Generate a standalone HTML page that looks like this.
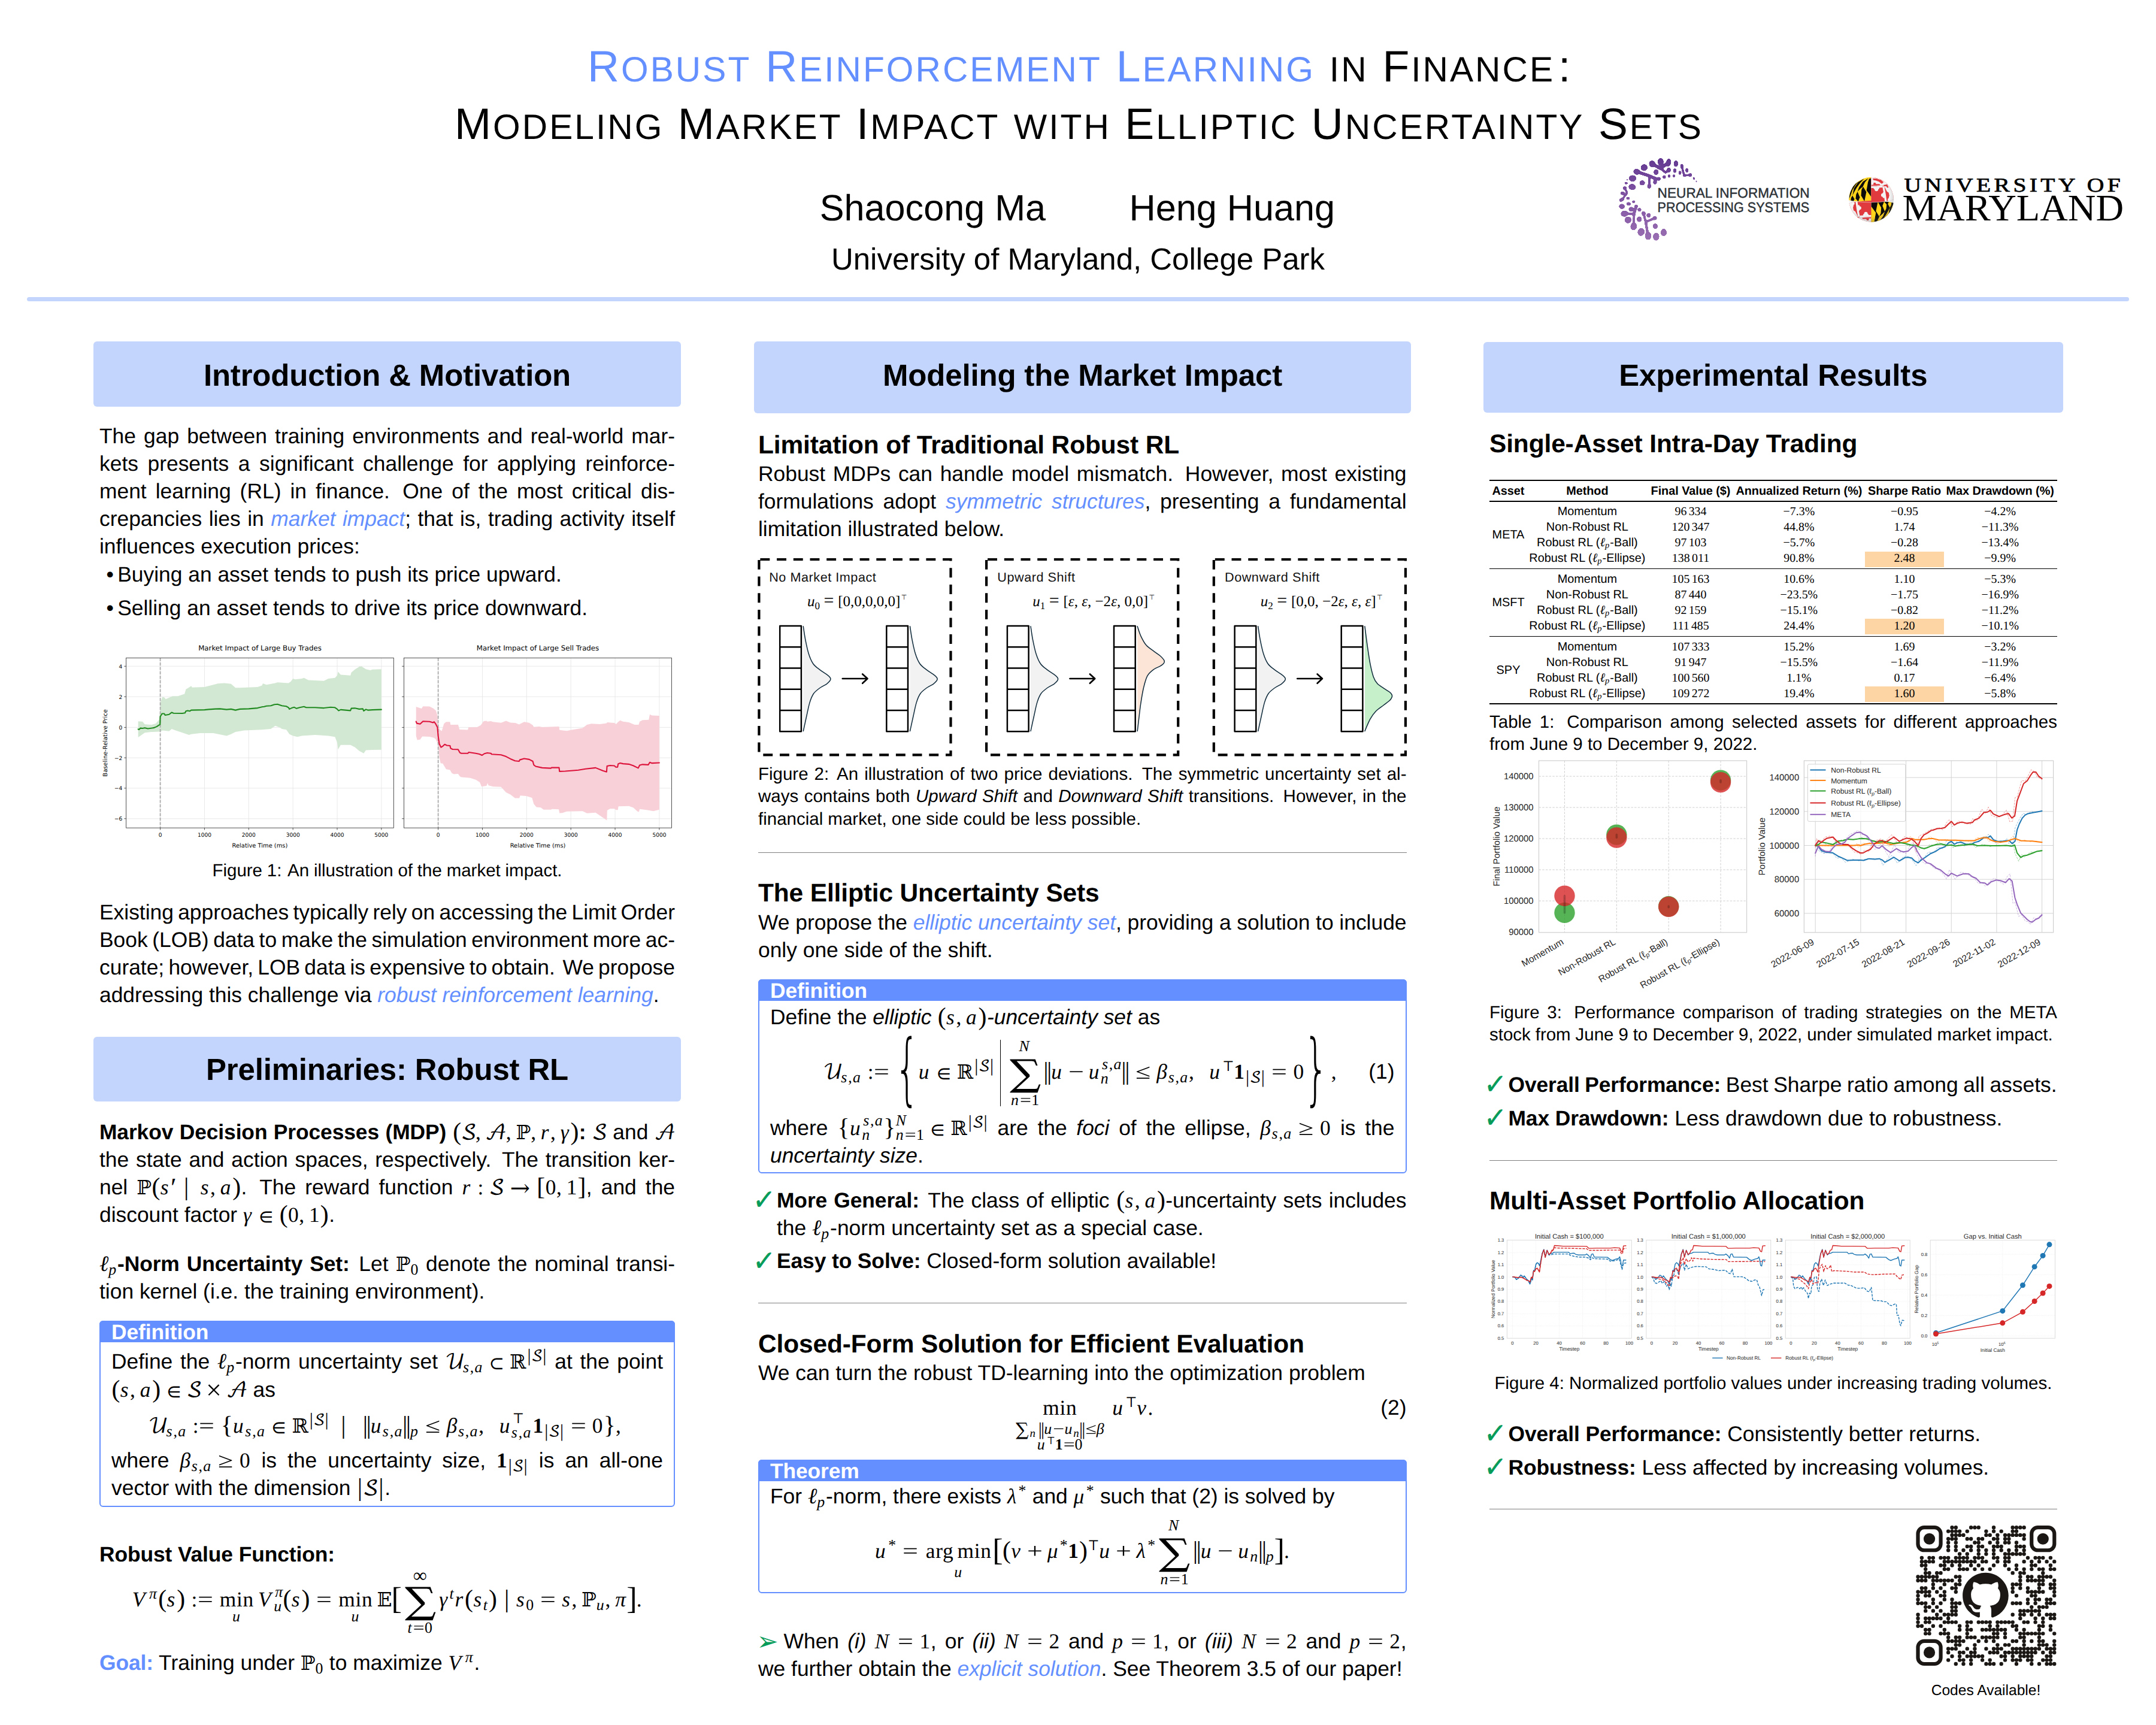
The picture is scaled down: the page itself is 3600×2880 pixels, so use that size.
<!DOCTYPE html>
<html lang="en"><head><meta charset="utf-8"><title>Robust Reinforcement Learning in Finance</title>
<style>
*{box-sizing:border-box}
html,body{margin:0;padding:0;background:#fff}
body{width:3600px;height:2880px;position:relative;overflow:hidden;font-family:"Liberation Sans",sans-serif;color:#000;
 -webkit-font-smoothing:antialiased;text-rendering:geometricPrecision}
.a{position:absolute}
.l{position:absolute;white-space:nowrap;overflow:visible}
.jl{display:inline-block;white-space:nowrap}
b,.b{font-weight:bold}
b{letter-spacing:-.003em}
i,.i{font-style:italic}
.bl{color:#648fff}
.mth{font-family:"Liberation Serif","DejaVu Serif",serif;font-style:normal;font-weight:normal;line-height:0;white-space:nowrap;word-spacing:0;letter-spacing:0}
.mth span{line-height:0}
.m{font-style:italic;letter-spacing:.07em}
.m.u{letter-spacing:.13em}
.r{font-style:normal;letter-spacing:.02em}
.r.b{font-weight:bold}
.c{font-family:"DejaVu Math TeX Gyre","DejaVu Serif","DejaVu Sans",serif;font-style:normal}
.cl{font-size:97%;margin:0 -.05em 0 -.03em}
.bb{font-family:"DejaVu Serif","DejaVu Math TeX Gyre",serif;font-size:93%}
.tp{font-size:92%}
.el{font-style:italic;font-size:104%}
.pr{font-size:125%;position:relative;top:.07em;margin-left:.02em}
.pu{margin-right:.03em}
.op{display:inline-block;transform:scaleX(1.3);margin:0 .095em}
.op.sy{font-size:84%;transform:none;margin:0}
.op.arw{font-size:100%;transform:none;margin:0}
.op.tm{transform:scale(1.3);margin:0 .1em}
.op.col,.op.mid{transform:none;margin:0}
.op.mid{font-size:122%;position:relative;top:.03em}
.dl{font-size:118%;position:relative;top:.035em;display:inline-block;margin:0 .01em}
.dl.nb{margin:0 -.03em}
.dl.vb{margin:0 .04em}
.sg{font-size:150%;position:relative;top:.16em;display:inline-block;transform:scaleX(1.18)}
.inf{font-size:125%;position:relative;top:.06em}
.sgs{font-size:100%;position:relative;top:.05em}
.ss{position:relative;line-height:0;display:inline-block}
.st{display:inline-block;position:relative;height:0;line-height:0;vertical-align:baseline}
.sa{position:absolute;left:0;white-space:nowrap;line-height:0;height:0}
.sa.sc{left:50%;transform:translateX(-50%)}
.sp{display:inline-block;height:0}
.ck{font-family:"DejaVu Sans",sans-serif;color:#059b58;line-height:0;font-weight:normal;display:inline-block;transform:skewX(-5deg) scaleX(.92);-webkit-text-stroke:.7px #059b58}
.ar{font-family:"DejaVu Sans",sans-serif;color:#059b58;line-height:0;font-size:122%;position:relative;top:.06em;margin-left:-.06em;margin-right:-.12em}
.vbar{display:inline-block;width:0;height:0;position:relative}
.vbar:after{content:'';position:absolute;left:0;top:-1.85em;height:3.15em;border-left:1.4px solid #000}
.bk{display:inline-block;font-size:148%;position:relative;top:.075em;margin:0 -.02em}
.br{display:inline-block;font-family:"DejaVu Sans Light","DejaVu Sans",sans-serif;font-weight:200;font-size:370%;position:relative;top:.215em;transform:scaleX(.5);margin:0 -.17em}
svg{position:absolute;overflow:visible}
svg text{white-space:pre}
</style></head>
<body>
<!-- p10_header -->
<div class="l" style="left:0px;top:16.01px;width:3600px;font-size:73.39px;line-height:190.81px;height:190.81px;text-align:center;letter-spacing:3px;padding-left:6.5px;word-spacing:0.5px;"><span class="bl">R<span style="font-size:58.71px">OBUST</span> R<span style="font-size:58.71px">EINFORCEMENT</span> L<span style="font-size:58.71px">EARNING</span></span> <span style="font-size:58.71px">IN</span> F<span style="font-size:58.71px">INANCE</span><span style="margin-left:6px">:</span></div>
<div class="l" style="left:0px;top:112.01px;width:3600px;font-size:73.39px;line-height:190.81px;height:190.81px;text-align:center;letter-spacing:3px;padding-left:3px;">M<span style="font-size:58.71px">ODELING</span> M<span style="font-size:58.71px">ARKET</span> I<span style="font-size:58.71px">MPACT</span> <span style="font-size:58.71px">WITH</span> E<span style="font-size:58.71px">LLIPTIC</span> U<span style="font-size:58.71px">NCERTAINTY</span> S<span style="font-size:58.71px">ETS</span></div>
<div class="l" style="left:1368.8px;top:268.01px;width:600px;font-size:61.15px;line-height:158.99px;height:158.99px;">Shaocong Ma</div>
<div class="l" style="left:1885.6px;top:268.01px;width:600px;font-size:61.15px;line-height:158.99px;height:158.99px;">Heng Huang</div>
<div class="l" style="left:0px;top:367.01px;width:3600px;font-size:50.96px;line-height:132.5px;height:132.5px;text-align:center;">University of Maryland, College Park</div>
<div class="a" style="left:44.7px;top:496px;width:3510.6px;height:7px;background:#c3d5fd;border-radius:3.5px;"></div>
<!-- p11_logos -->
<svg class="lg" style="left:0;top:0" width="3600" height="2880" viewBox="0 0 3600 2880"><defs><linearGradient id="npg" gradientUnits="userSpaceOnUse" x1="0" y1="264.84" x2="0" y2="401.21"><stop offset="0" stop-color="#643a92"/><stop offset="0.35" stop-color="#7a4e9f"/><stop offset="1" stop-color="#9a6eb1"/></linearGradient><filter id="goo" x="-10%" y="-10%" width="120%" height="120%" color-interpolation-filters="sRGB"><feGaussianBlur in="SourceGraphic" stdDeviation="1.25" result="b"/><feColorMatrix in="b" mode="matrix" values="0 0 0 0 1  0 0 0 0 1  0 0 0 0 1  0 0 0 14 -5.6"/></filter><mask id="npm" maskUnits="userSpaceOnUse" x="2690" y="255" width="160" height="160"><g filter="url(#goo)" fill="#fff" stroke="#fff" stroke-linecap="round" stroke-linejoin="round"><path d="M2758.85 273.75 L2772.76 281.17 L2786.12 271.34" fill="none" stroke-width="5.01"/><path d="M2772.76 281.17 L2781.11 288.03 L2786.49 283.77" fill="none" stroke-width="3.51"/><path d="M2732.88 286.73 L2750.5 292.3 L2765.34 298.61 L2769.98 298.61" fill="none" stroke-width="5.01"/><path d="M2754.21 294.53 L2753.84 310.85" fill="none" stroke-width="3.01"/><path d="M2808.39 277.83 L2812.1 293.04 L2822.49 292.3" fill="none" stroke-width="3.01"/><path d="M2713.02 314.01 L2717.11 322.36 L2707.83 333.49" fill="none" stroke-width="3.01"/><path d="M2712.47 356.68 L2728.61 357.24 L2731.95 344.25" fill="none" stroke-width="4.01"/><path d="M2728.61 357.24 L2727.87 378.01" fill="none" stroke-width="3.51"/><path d="M2744.38 356.31 L2747.9 370.59 L2763.12 364.1" fill="none" stroke-width="3.51"/><path d="M2747.9 370.59 L2751.99 393.78" fill="none" stroke-width="4.01"/><ellipse cx="2772.76" cy="270.04" rx="4.9" ry="6.12" stroke="none"/><ellipse cx="2786.12" cy="271.34" rx="4.08" ry="6.53" stroke="none" transform="rotate(12 2786.12 271.34)"/><ellipse cx="2798.37" cy="273.19" rx="3.67" ry="5.31" stroke="none"/><ellipse cx="2808.39" cy="277.83" rx="2.65" ry="4.08" stroke="none" transform="rotate(-10 2808.39 277.83)"/><ellipse cx="2816.73" cy="284.32" rx="2.45" ry="3.67" stroke="none"/><ellipse cx="2822.49" cy="292.3" rx="2.86" ry="3.06" stroke="none"/><ellipse cx="2828.42" cy="297.87" rx="1.63" ry="2.45" stroke="none" transform="rotate(-20 2828.42 297.87)"/><ellipse cx="2832.5" cy="302.88" rx="1.02" ry="1.43" stroke="none" transform="rotate(-20 2832.5 302.88)"/><ellipse cx="2758.85" cy="273.75" rx="5.1" ry="5.71" stroke="none" transform="rotate(-35 2758.85 273.75)"/><ellipse cx="2745.31" cy="279.68" rx="5.71" ry="5.31" stroke="none"/><ellipse cx="2732.88" cy="286.73" rx="5.51" ry="4.9" stroke="none" transform="rotate(20 2732.88 286.73)"/><ellipse cx="2726.01" cy="297.87" rx="6.12" ry="5.31" stroke="none"/><ellipse cx="2725.45" cy="312.15" rx="6.12" ry="4.9" stroke="none" transform="rotate(10 2725.45 312.15)"/><ellipse cx="2742.15" cy="305.29" rx="4.49" ry="4.08" stroke="none"/><ellipse cx="2753.84" cy="310.85" rx="3.27" ry="3.88" stroke="none"/><ellipse cx="2763.49" cy="304.17" rx="3.06" ry="3.47" stroke="none"/><ellipse cx="2765.34" cy="287.48" rx="4.08" ry="4.49" stroke="none"/><ellipse cx="2786.49" cy="283.77" rx="3.27" ry="4.08" stroke="none"/><ellipse cx="2796.51" cy="284.88" rx="2.65" ry="3.67" stroke="none"/><ellipse cx="2805.05" cy="288.59" rx="2.24" ry="3.27" stroke="none"/><ellipse cx="2778.89" cy="295.45" rx="2.65" ry="3.06" stroke="none"/><ellipse cx="2787.05" cy="293.97" rx="2.24" ry="2.65" stroke="none"/><ellipse cx="2795.03" cy="293.78" rx="2.04" ry="2.65" stroke="none"/><ellipse cx="2769.98" cy="298.61" rx="3.06" ry="3.06" stroke="none"/><ellipse cx="2812.1" cy="293.04" rx="2.04" ry="2.45" stroke="none"/><ellipse cx="2715.25" cy="305.66" rx="2.86" ry="1.84" stroke="none"/><ellipse cx="2717.11" cy="300.09" rx="1.63" ry="1.02" stroke="none"/><ellipse cx="2713.02" cy="314.01" rx="3.27" ry="2.65" stroke="none"/><ellipse cx="2709.31" cy="322.73" rx="3.67" ry="2.65" stroke="none"/><ellipse cx="2718.4" cy="331.08" rx="3.06" ry="2.45" stroke="none"/><ellipse cx="2707.83" cy="333.49" rx="4.49" ry="2.86" stroke="none" transform="rotate(-25 2707.83 333.49)"/><ellipse cx="2727.87" cy="336.83" rx="2.65" ry="2.24" stroke="none"/><ellipse cx="2719.33" cy="340.35" rx="3.67" ry="2.86" stroke="none"/><ellipse cx="2708.2" cy="344.62" rx="4.9" ry="4.08" stroke="none"/><ellipse cx="2731.95" cy="344.25" rx="2.86" ry="2.86" stroke="none"/><ellipse cx="2723.6" cy="349.26" rx="4.08" ry="3.67" stroke="none"/><ellipse cx="2737.51" cy="350.19" rx="3.06" ry="3.06" stroke="none"/><ellipse cx="2712.47" cy="356.68" rx="6.12" ry="4.9" stroke="none" transform="rotate(-10 2712.47 356.68)"/><ellipse cx="2744.38" cy="356.31" rx="3.27" ry="3.67" stroke="none"/><ellipse cx="2752.73" cy="359.46" rx="3.27" ry="3.67" stroke="none"/><ellipse cx="2763.12" cy="364.1" rx="3.47" ry="3.47" stroke="none"/><ellipse cx="2718.4" cy="367.25" rx="5.71" ry="5.31" stroke="none" transform="rotate(-20 2718.4 367.25)"/><ellipse cx="2737.14" cy="365.96" rx="4.08" ry="4.49" stroke="none"/><ellipse cx="2727.87" cy="378.01" rx="5.31" ry="6.12" stroke="none" transform="rotate(15 2727.87 378.01)"/><ellipse cx="2763.86" cy="377.64" rx="4.08" ry="4.49" stroke="none"/><ellipse cx="2740.3" cy="387.29" rx="5.71" ry="6.53" stroke="none" transform="rotate(20 2740.3 387.29)"/><ellipse cx="2751.99" cy="393.78" rx="5.31" ry="6.53" stroke="none"/><ellipse cx="2765.34" cy="395.08" rx="5.1" ry="6.53" stroke="none"/><ellipse cx="2777.96" cy="388.22" rx="4.9" ry="6.12" stroke="none"/></g><g fill="#fff"><ellipse cx="2808.39" cy="277.83" rx="2.41" ry="3.71" transform="rotate(-10 2808.39 277.83)"/><ellipse cx="2816.73" cy="284.32" rx="2.23" ry="3.34"/><ellipse cx="2828.42" cy="297.87" rx="1.48" ry="2.23" transform="rotate(-20 2828.42 297.87)"/><ellipse cx="2832.5" cy="302.88" rx="0.93" ry="1.3" transform="rotate(-20 2832.5 302.88)"/><ellipse cx="2796.51" cy="284.88" rx="2.41" ry="3.34"/><ellipse cx="2805.05" cy="288.59" rx="2.04" ry="2.97"/><ellipse cx="2778.89" cy="295.45" rx="2.41" ry="2.78"/><ellipse cx="2787.05" cy="293.97" rx="2.04" ry="2.41"/><ellipse cx="2795.03" cy="293.78" rx="1.86" ry="2.41"/><ellipse cx="2812.1" cy="293.04" rx="1.86" ry="2.23"/><ellipse cx="2717.11" cy="300.09" rx="1.48" ry="0.93"/><ellipse cx="2727.87" cy="336.83" rx="2.41" ry="2.04"/></g></mask></defs><rect x="2690" y="255" width="160" height="160" fill="url(#npg)" mask="url(#npm)"/><text x="2767.6" y="330.2" font-family="'Liberation Sans',sans-serif" font-size="23.2" fill="#2c3237" stroke="#2c3237" stroke-width="0.45" textLength="254" lengthAdjust="spacingAndGlyphs">NEURAL INFORMATION</text><text x="2767.6" y="353.6" font-family="'Liberation Sans',sans-serif" font-size="23.2" fill="#2c3237" stroke="#2c3237" stroke-width="0.45" textLength="253.5" lengthAdjust="spacingAndGlyphs">PROCESSING SYSTEMS</text><defs><clipPath id="gl"><circle cx="3124.6" cy="333.2" r="37.4"/></clipPath><radialGradient id="gsh" cx="0.45" cy="0.42" r="0.6"><stop offset="0.78" stop-color="#555" stop-opacity="0"/><stop offset="1" stop-color="#555" stop-opacity="0.28"/></radialGradient></defs><g clip-path="url(#gl)"><rect x="3087.2" y="295.8" width="74.8" height="74.8" fill="#f3f3f3"/><path d="M3124.38 295.65 L3124.38 337.97 L3110.58 337.51 L3096.09 336.12 L3086.23 334.2 L3086.23 295.65Z" fill="#ffd41b"/><path d="M3124.38 297.39 L3124.38 328.41 L3116.67 317.68 L3118.99 304.35 L3121.01 298.55Z" fill="#0b0b0b"/><path d="M3110.87 311.59 L3116.38 320.58 L3113.19 335.94 L3107.57 326.38 L3108.26 317.1Z" fill="#0b0b0b"/><path d="M3101.59 320 L3105.48 329.28 L3102.75 336.52 L3098.52 331.59 L3099.28 324.64Z" fill="#0b0b0b"/><path d="M3093.19 326.38 L3096.38 332.17 L3094.93 335.94 L3090.29 335.07 L3090.87 330.43Z" fill="#0b0b0b"/><path d="M3119.86 297.39 L3110.58 303.19 L3104.2 312.46 L3101.59 320 L3105.36 315.94 L3110.58 311.59 L3114.06 304.35Z" fill="#0b0b0b"/><path d="M3112.9 297.97 L3102.46 304.35 L3095.51 314.78 L3093.19 326.38 L3095.51 321.74 L3100.14 313.62 L3105.94 305.51Z" fill="#0b0b0b"/><path d="M3104.78 300.29 L3094.35 310.14 L3089.13 321.74 L3087.39 332.17 L3090 326.38 L3093.19 317.1 L3098.99 307.83Z" fill="#0b0b0b"/><path d="M3124.38 377.39 L3124.38 335.07 L3138.17 335.54 L3152.67 336.93 L3162.52 338.84 L3162.52 377.39Z" fill="#0b0b0b"/><path d="M3124.38 375.65 L3124.38 344.64 L3132.09 355.36 L3129.77 368.7 L3127.74 374.49Z" fill="#ffd41b"/><path d="M3137.88 361.45 L3132.38 352.46 L3135.57 337.1 L3141.19 346.67 L3140.49 355.94Z" fill="#ffd41b"/><path d="M3147.16 353.04 L3143.28 343.77 L3146 336.52 L3150.23 341.45 L3149.48 348.41Z" fill="#ffd41b"/><path d="M3155.57 346.67 L3152.38 340.87 L3153.83 337.1 L3158.46 337.97 L3157.88 342.61Z" fill="#ffd41b"/><path d="M3128.9 375.65 L3138.17 369.86 L3144.55 360.58 L3147.16 353.04 L3143.39 357.1 L3138.17 361.45 L3134.7 368.7Z" fill="#ffd41b"/><path d="M3135.86 375.07 L3146.29 368.7 L3153.25 358.26 L3155.57 346.67 L3153.25 351.3 L3148.61 359.42 L3142.81 367.54Z" fill="#ffd41b"/><path d="M3143.97 372.75 L3154.41 362.9 L3159.62 351.3 L3161.36 340.87 L3158.75 346.67 L3155.57 355.94 L3149.77 365.22Z" fill="#ffd41b"/><path d="M3124.38 375.65 L3124.38 344.64 L3132.09 355.36 L3129.77 368.7 L3127.74 374.49Z" fill="#ffd41b"/><path d="M3124.38 295.65 L3162.75 295.65 L3162.75 333.04 L3152.32 335.77 L3138.41 337.39 L3124.38 337.97Z" fill="#e03a3e"/><path d="M3124.38 295.65 L3162.75 295.65 L3162.75 333.04 L3152.32 335.77 L3151.16 320.58 L3147.1 312.46 L3143.62 309.86 L3124.38 310.14Z" fill="#f3f3f3"/><path d="M3128.55 304.93 L3131.45 304.93 L3132.61 307.25 L3138.41 307.25 L3139.57 309.57 L3124.78 309.86 L3124.78 308.41 L3127.97 308.41Z" fill="#e03a3e"/><path d="M3127.1 297.97 L3133.77 297.97 L3139.57 300.87 L3144.2 305.51 L3141.88 306.67 L3137.25 303.19 L3132.61 301.45 L3127.97 300.87Z" fill="#e03a3e"/><path d="M3144.78 308.99 L3151.16 307.83 L3153.48 313.04 L3151.16 313.62 L3149.42 310.72 L3145.94 311.3Z" fill="#e03a3e"/><path d="M3151.16 320 L3153.77 321.74 L3154.64 326.38 L3153.48 331.01 L3151.74 332.17 L3150 328.7 L3150 324.06Z" fill="#e03a3e"/><path d="M3135.51 299.13 L3140.72 300.29 L3145.36 304.35 L3143.62 304.93 L3139.57 302.61Z" fill="#e03a3e"/><path d="M3124.38 312.46 L3133.77 312.17 L3143.62 311.3" fill="none" stroke="#f3f3f3" stroke-width="3.3" stroke-linecap="butt"/><path d="M3144.78 311.3 L3147.1 324.06 L3148.84 336.52" fill="none" stroke="#f3f3f3" stroke-width="3.3" stroke-linecap="butt"/><circle cx="3133.19" cy="316.23" r="3.01" fill="#f3f3f3"/><circle cx="3130.29" cy="314.2" r="1.74" fill="#f3f3f3"/><circle cx="3136.09" cy="314.2" r="1.74" fill="#f3f3f3"/><circle cx="3143.91" cy="325.8" r="3.01" fill="#f3f3f3"/><circle cx="3145.36" cy="322.61" r="1.74" fill="#f3f3f3"/><circle cx="3145.36" cy="328.99" r="1.74" fill="#f3f3f3"/><path d="M3124.38 377.39 L3086 377.39 L3086 340 L3096.43 337.28 L3110.35 335.65 L3124.38 335.07Z" fill="#e03a3e"/><path d="M3124.38 377.39 L3086 377.39 L3086 340 L3096.43 337.28 L3097.59 352.46 L3101.65 360.58 L3105.13 363.19 L3124.38 362.9Z" fill="#f3f3f3"/><path d="M3120.2 368.12 L3117.3 368.12 L3116.14 365.8 L3110.35 365.8 L3109.19 363.48 L3123.97 363.19 L3123.97 364.64 L3120.78 364.64Z" fill="#e03a3e"/><path d="M3121.65 375.07 L3114.99 375.07 L3109.19 372.17 L3104.55 367.54 L3106.87 366.38 L3111.51 369.86 L3116.14 371.59 L3120.78 372.17Z" fill="#e03a3e"/><path d="M3103.97 364.06 L3097.59 365.22 L3095.28 360 L3097.59 359.42 L3099.33 362.32 L3102.81 361.74Z" fill="#e03a3e"/><path d="M3097.59 353.04 L3094.99 351.3 L3094.12 346.67 L3095.28 342.03 L3097.01 340.87 L3098.75 344.35 L3098.75 348.99Z" fill="#e03a3e"/><path d="M3113.25 373.91 L3108.03 372.75 L3103.39 368.7 L3105.13 368.12 L3109.19 370.43Z" fill="#e03a3e"/><path d="M3124.38 360.58 L3114.99 360.87 L3105.13 361.74" fill="none" stroke="#f3f3f3" stroke-width="3.3" stroke-linecap="butt"/><path d="M3103.97 361.74 L3101.65 348.99 L3099.91 336.52" fill="none" stroke="#f3f3f3" stroke-width="3.3" stroke-linecap="butt"/><circle cx="3115.57" cy="356.81" r="3.01" fill="#f3f3f3"/><circle cx="3118.46" cy="358.84" r="1.74" fill="#f3f3f3"/><circle cx="3112.67" cy="358.84" r="1.74" fill="#f3f3f3"/><circle cx="3104.84" cy="347.25" r="3.01" fill="#f3f3f3"/><circle cx="3103.39" cy="350.43" r="1.74" fill="#f3f3f3"/><circle cx="3103.39" cy="344.06" r="1.74" fill="#f3f3f3"/><path d="M3086.23 334.2 L3096.09 336.12 L3110.58 337.51 L3124.38 337.97 L3138.41 337.39 L3152.32 335.77 L3162.75 333.04" fill="none" stroke="#e9e9e9" stroke-opacity="0.55" stroke-width="1"/><circle cx="3124.6" cy="333.2" r="37.4" fill="url(#gsh)"/></g><text x="3179.6" y="319.6" font-family="'Liberation Serif',serif" font-size="32.8" fill="#000" letter-spacing="4.5" textLength="366.5" lengthAdjust="spacingAndGlyphs" stroke="#000" stroke-width="0.7">UNIVERSITY OF</text><text x="3176.6" y="368.2" font-family="'Liberation Serif',serif" font-size="62.6" fill="#000" textLength="369.5" lengthAdjust="spacingAndGlyphs">MARYLAND</text></svg>
<!-- p20_left -->
<div class="a" style="left:156px;top:570px;width:981px;height:109px;background:#c3d5fd;border-radius:6px;"></div>
<div class="l" style="left:156px;top:561px;width:981px;font-size:50.96px;line-height:132.5px;height:132.5px;text-align:center;"><b>Introduction &amp; Motivation</b></div>
<div class="l" style="left:166px;top:682.01px;width:961px;font-size:35.4px;line-height:92.03px;height:92.03px;word-spacing:3.237px;"><span class="jl">The gap between training environments and real-world mar-</span></div>
<div class="l" style="left:166px;top:728.01px;width:961px;font-size:35.4px;line-height:92.03px;height:92.03px;word-spacing:5.761px;"><span class="jl">kets presents a significant challenge for applying reinforce-</span></div>
<div class="l" style="left:166px;top:774.01px;width:961px;font-size:35.4px;line-height:92.03px;height:92.03px;word-spacing:5.178px;"><span class="jl">ment learning (RL) in finance.<span class="sp" style="width:0.18em"></span> One of the most critical dis-</span></div>
<div class="l" style="left:166px;top:820.02px;width:961px;font-size:35.4px;line-height:92.03px;height:92.03px;word-spacing:1.656px;"><span class="jl">crepancies lies in <i class="bl">market impact</i>; that is, trading activity itself</span></div>
<div class="l" style="left:166px;top:866px;width:961px;font-size:35.4px;line-height:92.03px;height:92.03px;">influences execution prices:</div>
<div class="l" style="left:177.6px;top:913.02px;width:30px;font-size:35.4px;line-height:92.03px;height:92.03px;">&bull;</div>
<div class="l" style="left:196.2px;top:913.02px;width:900px;font-size:35.4px;line-height:92.03px;height:92.03px;">Buying an asset tends to push its price upward.</div>
<div class="l" style="left:177.6px;top:969.01px;width:30px;font-size:35.4px;line-height:92.03px;height:92.03px;">&bull;</div>
<div class="l" style="left:196.2px;top:969.01px;width:900px;font-size:35.4px;line-height:92.03px;height:92.03px;">Selling an asset tends to drive its price downward.</div>
<div class="l" style="left:166px;top:1416px;width:961px;font-size:29.49px;line-height:76.68px;height:76.68px;text-align:center;word-spacing:-0.4px;">Figure 1:<span class="sp" style="width:0.12em"></span> An illustration of the market impact.</div>
<div class="l" style="left:166px;top:1477.01px;width:961px;font-size:35.4px;line-height:92.03px;height:92.03px;word-spacing:-2.570px;"><span class="jl">Existing approaches typically rely on accessing the Limit Order</span></div>
<div class="l" style="left:166px;top:1523.01px;width:961px;font-size:35.4px;line-height:92.03px;height:92.03px;word-spacing:-2.285px;"><span class="jl">Book (LOB) data to make the simulation environment more ac-</span></div>
<div class="l" style="left:166px;top:1569.01px;width:961px;font-size:35.4px;line-height:92.03px;height:92.03px;word-spacing:-2.597px;"><span class="jl">curate; however, LOB data is expensive to obtain.<span class="sp" style="width:0.15em"></span> We propose</span></div>
<div class="l" style="left:166px;top:1615.02px;width:961px;font-size:35.4px;line-height:92.03px;height:92.03px;">addressing this challenge via <i class="bl">robust reinforcement learning</i>.</div>
<div class="a" style="left:156px;top:1730.5px;width:981px;height:108px;background:#c3d5fd;border-radius:6px;"></div>
<div class="l" style="left:156px;top:1720.01px;width:981px;font-size:50.96px;line-height:132.5px;height:132.5px;text-align:center;"><b>Preliminaries: Robust RL</b></div>
<div class="l" style="left:166px;top:1844.01px;width:961px;font-size:35.4px;line-height:92.03px;height:92.03px;word-spacing:0.732px;"><span class="jl"><b>Markov Decision Processes (MDP)</b> <span class="mth"><span class="dl">(</span><span class="c cl">𝒮</span><span class="r pu">,</span><span class="sp" style="width:0.17em"></span><span class="c cl">𝒜</span><span class="r pu">,</span><span class="sp" style="width:0.17em"></span><span class="c bb">ℙ</span><span class="r pu">,</span><span class="sp" style="width:0.17em"></span><span class="m">r</span><span class="r pu">,</span><span class="sp" style="width:0.17em"></span><span class="m">γ</span><span class="dl">)</span></span><b>:</b> <span class="mth"><span class="c cl">𝒮</span></span> and <span class="mth"><span class="c cl">𝒜</span></span></span></div>
<div class="l" style="left:166px;top:1890.02px;width:961px;font-size:35.4px;line-height:92.03px;height:92.03px;word-spacing:1.953px;"><span class="jl">the state and action spaces, respectively.<span class="sp" style="width:0.18em"></span> The transition ker-</span></div>
<div class="l" style="left:166px;top:1936px;width:961px;font-size:35.4px;line-height:92.03px;height:92.03px;word-spacing:5.210px;"><span class="jl">nel <span class="mth"><span class="c bb">ℙ</span><span class="dl">(</span><span class="m">s</span><span class="r pr">′</span><span class="sp" style="width:0.28em"></span><span class="dl vb">|</span><span class="sp" style="width:0.28em"></span><span class="sp" style="width:0.22em"></span><span class="m">s</span><span class="r pu">,</span><span class="sp" style="width:0.17em"></span><span class="m">a</span><span class="dl">)</span></span>.<span class="sp" style="width:0.18em"></span> The reward function <span class="mth"><span class="m">r</span><span class="sp" style="width:0.28em"></span><span class="op col">:</span><span class="sp" style="width:0.28em"></span><span class="c cl">𝒮</span><span class="sp" style="width:0.28em"></span><span class="op c arw">→</span><span class="sp" style="width:0.28em"></span><span class="dl">[</span><span class="r">0</span><span class="r pu">,</span><span class="sp" style="width:0.17em"></span><span class="r">1</span><span class="dl">]</span></span>, and the</span></div>
<div class="l" style="left:166px;top:1982.01px;width:961px;font-size:35.4px;line-height:92.03px;height:92.03px;">discount factor <span class="mth"><span class="m">γ</span><span class="sp" style="width:0.28em"></span><span class="op c sy">∈</span><span class="sp" style="width:0.28em"></span><span class="dl">(</span><span class="r">0</span><span class="r pu">,</span><span class="sp" style="width:0.17em"></span><span class="r">1</span><span class="dl">)</span></span>.</div>
<div class="l" style="left:166px;top:2064.02px;width:961px;font-size:35.4px;line-height:92.03px;height:92.03px;word-spacing:2.275px;"><span class="jl"><span class="mth"><span class="el">ℓ</span><span class="ss" style="font-size:73%;top:0.22em;"><span class="m">p</span></span></span><b>-Norm Uncertainty Set:</b><span class="sp" style="width:0.1em"></span> Let <span class="mth"><span class="c bb">ℙ</span><span class="ss" style="font-size:73%;top:0.22em;"><span class="r">0</span></span></span> denote the nominal transi-</span></div>
<div class="l" style="left:166px;top:2110px;width:961px;font-size:35.4px;line-height:92.03px;height:92.03px;">tion kernel (i.e. the training environment).</div>
<div class="a" style="left:165.6px;top:2204.6px;width:961.7px;height:311.1px;border:2px solid #648fff;border-radius:6px;"></div>
<div class="a" style="left:165.6px;top:2204.6px;width:961.7px;height:36px;background:#648fff;border-radius:6px 6px 0 0;"></div>
<div class="l" style="left:186.1px;top:2178.01px;width:961.7px;font-size:35.4px;line-height:92.03px;height:92.03px;color:#fff;"><b>Definition</b></div>
<div class="l" style="left:186px;top:2227.01px;width:921px;font-size:35.4px;line-height:92.03px;height:92.03px;word-spacing:2.834px;"><span class="jl">Define the <span class="mth"><span class="el">ℓ</span><span class="ss" style="font-size:73%;top:0.22em;"><span class="m">p</span></span></span>-norm uncertainty set <span class="mth"><span class="c cl">𝒰</span><span class="ss" style="font-size:73%;top:0.22em;margin-left:-0.07em;"><span class="m">s</span><span class="r pu">,</span><span class="m">a</span></span><span class="sp" style="width:0.28em"></span><span class="op c sy">⊂</span><span class="sp" style="width:0.28em"></span><span class="c bb">ℝ</span><span class="ss" style="font-size:73%;top:-0.51em;margin-left:0.03em;"><span class="dl vb">|</span><span class="c cl">𝒮</span><span class="dl vb">|</span></span></span> at the point</span></div>
<div class="l" style="left:186px;top:2274.01px;width:921px;font-size:35.4px;line-height:92.03px;height:92.03px;"><span class="mth"><span class="dl">(</span><span class="m">s</span><span class="r pu">,</span><span class="sp" style="width:0.17em"></span><span class="m">a</span><span class="dl">)</span><span class="sp" style="width:0.28em"></span><span class="op c sy">∈</span><span class="sp" style="width:0.28em"></span><span class="c cl">𝒮</span><span class="sp" style="width:0.22em"></span><span class="op tm">×</span><span class="sp" style="width:0.22em"></span><span class="c cl">𝒜</span></span> as</div>
<div class="l mf" style="left:186px;top:2334.01px;width:921px;font-size:35.4px;line-height:92.03px;height:92.03px;text-align:center;"><span class="mth"><span class="c cl">𝒰</span><span class="ss" style="font-size:73%;top:0.22em;margin-left:-0.07em;"><span class="m">s</span><span class="r pu">,</span><span class="m">a</span></span><span class="sp" style="width:0.28em"></span><span class="r" style="margin-right:-0.02em">:</span><span class="op">=</span><span class="sp" style="width:0.28em"></span><span class="dl">{</span><span class="m">u</span><span class="ss" style="font-size:73%;top:0.22em;"><span class="m">s</span><span class="r pu">,</span><span class="m">a</span></span><span class="sp" style="width:0.28em"></span><span class="op c sy">∈</span><span class="sp" style="width:0.28em"></span><span class="c bb">ℝ</span><span class="ss" style="font-size:73%;top:-0.51em;margin-left:0.03em;"><span class="dl vb">|</span><span class="c cl">𝒮</span><span class="dl vb">|</span></span><span class="sp" style="width:0.28em"></span><span class="sp" style="width:0.22em"></span><span class="dl vb">|</span><span class="sp" style="width:0.28em"></span><span class="sp" style="width:0.28em"></span><span class="sp" style="width:0.22em"></span><span class="dl nb">|</span><span class="dl nb">|</span><span class="m">u</span><span class="ss" style="font-size:73%;top:0.22em;"><span class="m">s</span><span class="r pu">,</span><span class="m">a</span></span><span class="dl nb">|</span><span class="dl nb">|</span><span class="ss" style="font-size:73%;top:0.22em;"><span class="m">p</span></span><span class="sp" style="width:0.28em"></span><span class="op">≤</span><span class="sp" style="width:0.28em"></span><span class="m">β</span><span class="ss" style="font-size:73%;top:0.22em;margin-left:-0.03em;"><span class="m">s</span><span class="r pu">,</span><span class="m">a</span></span><span class="r pu">,</span><span class="sp" style="width:0.17em"></span><span class="sp" style="width:0.28em"></span><span class="sp" style="width:0.22em"></span><span class="m">u</span><span class="st" style="width:1.01em"><span class="sa" style="font-size:73%;top:-0.91em"><span class="sp" style="width:0.08em"></span><span class="c tp">⊤</span></span><span class="sa" style="font-size:73%;top:0.01em"><span class="m">s</span><span class="r pu">,</span><span class="m">a</span></span></span><span class="r b">1</span><span class="ss" style="font-size:73%;top:0.22em;"><span class="dl vb">|</span><span class="c cl">𝒮</span><span class="dl vb">|</span></span><span class="sp" style="width:0.28em"></span><span class="op">=</span><span class="sp" style="width:0.28em"></span><span class="r">0</span><span class="dl">}</span><span class="r pu">,</span><span class="sp" style="width:0.17em"></span></span></div>
<div class="l" style="left:186px;top:2392.02px;width:921px;font-size:35.4px;line-height:92.03px;height:92.03px;word-spacing:8.161px;"><span class="jl">where <span class="mth"><span class="m">β</span><span class="ss" style="font-size:73%;top:0.22em;margin-left:-0.03em;"><span class="m">s</span><span class="r pu">,</span><span class="m">a</span></span><span class="sp" style="width:0.28em"></span><span class="op">≥</span><span class="sp" style="width:0.28em"></span><span class="r">0</span></span> is the uncertainty size, <span class="mth"><span class="r b">1</span><span class="ss" style="font-size:73%;top:0.22em;"><span class="dl vb">|</span><span class="c cl">𝒮</span><span class="dl vb">|</span></span></span> is an all-one</span></div>
<div class="l" style="left:186px;top:2438.02px;width:921px;font-size:35.4px;line-height:92.03px;height:92.03px;">vector with the dimension <span class="mth"><span class="dl vb">|</span><span class="c cl">𝒮</span><span class="dl vb">|</span></span>.</div>
<div class="l" style="left:166px;top:2549.01px;width:961px;font-size:35.4px;line-height:92.03px;height:92.03px;"><b>Robust Value Function:</b></div>
<div class="l mf" style="left:166px;top:2624.01px;width:961px;font-size:35.4px;line-height:92.03px;height:92.03px;text-align:center;"><span class="mth"><span class="m u">V</span><span class="ss" style="font-size:73%;top:-0.51em;margin-left:0.08em;"><span class="m">π</span></span><span class="dl">(</span><span class="m">s</span><span class="dl">)</span><span class="sp" style="width:0.28em"></span><span class="r" style="margin-right:-0.02em">:</span><span class="op">=</span><span class="sp" style="width:0.28em"></span><span class="st" style="width:1.67em"><span class="sa sc" style="font-size:100%;top:-0.34em"><span class="r">min</span></span><span class="sa sc" style="font-size:73%;top:0.65em"><span class="m">u</span></span></span><span class="sp" style="width:0.17em"></span><span class="m u">V</span><span class="st" style="width:0.42em"><span class="sa" style="font-size:73%;top:-0.91em"><span class="sp" style="width:0.08em"></span><span class="m">π</span></span><span class="sa" style="font-size:73%;top:0.01em"><span class="m">u</span></span></span><span class="dl">(</span><span class="m">s</span><span class="dl">)</span><span class="sp" style="width:0.28em"></span><span class="op">=</span><span class="sp" style="width:0.28em"></span><span class="st" style="width:1.67em"><span class="sa sc" style="font-size:100%;top:-0.34em"><span class="r">min</span></span><span class="sa sc" style="font-size:73%;top:0.65em"><span class="m">u</span></span></span><span class="sp" style="width:0.17em"></span><span class="c bb">𝔼</span><span class="bk">[</span><span class="sp" style="width:0.17em"></span><span class="st" style="width:1.45em"><span class="sa sc" style="font-size:100%;top:-0.34em"><span class="c sg">∑</span></span><span class="sa sc" style="font-size:73%;top:-2.08em"><span class="r inf">∞</span></span><span class="sa sc" style="font-size:73%;top:1.39em"><span class="m">t</span><span class="op">=</span><span class="r">0</span></span></span><span class="sp" style="width:0.17em"></span><span class="m">γ</span><span class="ss" style="font-size:73%;top:-0.51em;margin-left:0.03em;"><span class="m">t</span></span><span class="m">r</span><span class="dl">(</span><span class="m">s</span><span class="ss" style="font-size:73%;top:0.22em;"><span class="m">t</span></span><span class="dl">)</span><span class="sp" style="width:0.28em"></span><span class="dl vb">|</span><span class="sp" style="width:0.28em"></span><span class="m">s</span><span class="ss" style="font-size:73%;top:0.22em;"><span class="r">0</span></span><span class="sp" style="width:0.28em"></span><span class="op">=</span><span class="sp" style="width:0.28em"></span><span class="m">s</span><span class="r pu">,</span><span class="sp" style="width:0.17em"></span><span class="c bb">ℙ</span><span class="ss" style="font-size:73%;top:0.22em;"><span class="m">u</span></span><span class="r pu">,</span><span class="sp" style="width:0.17em"></span><span class="m">π</span><span class="bk">]</span><span class="r">.</span></span></div>
<div class="l" style="left:166px;top:2730.01px;width:961px;font-size:35.4px;line-height:92.03px;height:92.03px;"><b class="bl">Goal:</b> Training under <span class="mth"><span class="c bb">ℙ</span><span class="ss" style="font-size:73%;top:0.22em;"><span class="r">0</span></span></span> to maximize <span class="mth"><span class="m u">V</span><span class="ss" style="font-size:73%;top:-0.51em;margin-left:0.08em;"><span class="m">π</span></span></span>.</div>
<!-- p21_fig1 -->
<svg class="f1" style="left:0;top:0" width="3600" height="2880" viewBox="0 0 3600 2880" font-family="'DejaVu Sans',sans-serif" fill="#000"><line x1="267.6" y1="1098.6" x2="267.6" y2="1382.2" stroke="#e4e4e4" stroke-width="0.8"/><line x1="341.45" y1="1098.6" x2="341.45" y2="1382.2" stroke="#e4e4e4" stroke-width="0.8"/><line x1="415.3" y1="1098.6" x2="415.3" y2="1382.2" stroke="#e4e4e4" stroke-width="0.8"/><line x1="489.15" y1="1098.6" x2="489.15" y2="1382.2" stroke="#e4e4e4" stroke-width="0.8"/><line x1="563" y1="1098.6" x2="563" y2="1382.2" stroke="#e4e4e4" stroke-width="0.8"/><line x1="636.85" y1="1098.6" x2="636.85" y2="1382.2" stroke="#e4e4e4" stroke-width="0.8"/><line x1="210.65" y1="1112.3" x2="657.3" y2="1112.3" stroke="#e4e4e4" stroke-width="0.8"/><line x1="210.65" y1="1163.2" x2="657.3" y2="1163.2" stroke="#e4e4e4" stroke-width="0.8"/><line x1="210.65" y1="1214.4" x2="657.3" y2="1214.4" stroke="#e4e4e4" stroke-width="0.8"/><line x1="210.65" y1="1265.2" x2="657.3" y2="1265.2" stroke="#e4e4e4" stroke-width="0.8"/><line x1="210.65" y1="1315.9" x2="657.3" y2="1315.9" stroke="#e4e4e4" stroke-width="0.8"/><line x1="210.65" y1="1366.8" x2="657.3" y2="1366.8" stroke="#e4e4e4" stroke-width="0.8"/><path d="M230.68 1204.22 L238.06 1204.73 L241.75 1209.31 L252.83 1210.07 L260.22 1208.04 L265.38 1201.68 L267.6 1183.86 L268.34 1171.13 L271.29 1163.5 L274.99 1164.77 L276.46 1167.32 L282.37 1164.77 L288.28 1162.23 L297.14 1162.23 L308.22 1158.41 L310.43 1150.78 L315.6 1147.72 L319.3 1145.18 L320.77 1147.72 L341.45 1146.96 L356.22 1143.14 L363.61 1141.36 L374.68 1140.6 L385.76 1141.87 L393.15 1148.23 L400.53 1148.23 L430.07 1146.96 L437.46 1144.41 L438.93 1141.1 L444.84 1143.14 L459.61 1140.6 L463.3 1139.32 L481.76 1140.6 L485.46 1138.05 L489.15 1132.96 L492.84 1134.23 L503.92 1132.96 L507.61 1131.69 L515 1135.51 L540.85 1136.78 L548.23 1132.96 L559.31 1131.69 L563 1127.87 L564.48 1121.51 L568.91 1126.6 L585.15 1127.87 L586.63 1122.78 L592.54 1117.69 L599.92 1113.11 L603.62 1112.6 L611 1117.18 L618.39 1118.96 L622.08 1117.69 L636.85 1117.18 L636.85 1251.81 L622.08 1252.07 L611 1252.58 L607.31 1257.67 L603.62 1255.63 L599.92 1253.85 L592.54 1247.49 L585.15 1243.67 L568.91 1243.67 L564.48 1251.3 L563 1239.85 L559.31 1230.18 L548.23 1228.4 L526.08 1227.12 L503.92 1228.4 L496.54 1230.18 L489.15 1228.4 L483.24 1225.85 L478.07 1218.22 L470.69 1216.95 L467 1214.4 L459.61 1211.86 L452.23 1216.95 L437.46 1218.22 L407.92 1219.49 L393.15 1222.04 L385.76 1225.85 L378.38 1228.4 L370.99 1227.12 L356.22 1224.07 L334.07 1224.07 L319.3 1225.85 L315.6 1227.12 L304.53 1223.31 L289.75 1218.22 L286.8 1216.95 L282.37 1220.76 L271.29 1219.49 L267.6 1221.53 L252.83 1222.04 L241.75 1223.31 L234.37 1228.4 L230.68 1230.94Z" fill="#d3e8d3" stroke="none"/><line x1="267.6" y1="1098.6" x2="267.6" y2="1382.2" stroke="#ababab" stroke-width="1.8" stroke-dasharray="5.2 2.2"/><path d="M230.68 1217.45 L232.15 1217.96 L234.37 1215.67 L238.06 1215.93 L241.75 1215.16 L246.92 1216.44 L256.52 1215.16 L261.69 1213.13 L265.38 1210.58 L267.23 1209.82 L267.6 1196.59 L270.55 1191.5 L274.25 1191.5 L275.72 1194.04 L282.37 1192.77 L286.8 1189.46 L289.75 1190.73 L304.53 1190.99 L308.96 1190.22 L310.43 1187.17 L313.39 1186.41 L317.08 1187.17 L319.3 1185.64 L341.45 1185.13 L348.84 1184.37 L359.91 1183.61 L367.3 1183.35 L378.38 1184.62 L385.76 1183.86 L393.15 1185.64 L400.53 1183.86 L415.3 1183.35 L430.07 1182.08 L437.46 1180.3 L441.15 1179.79 L444.84 1178.77 L452.23 1178.26 L458.13 1176.23 L463.3 1175.72 L470.69 1178.26 L478.07 1179.28 L481.76 1181.32 L483.24 1183.86 L486.93 1182.08 L491.37 1180.81 L495.06 1182.84 L500.23 1181.32 L507.61 1179.79 L511.31 1181.32 L526.08 1181.32 L540.85 1182.08 L551.92 1180.81 L559.31 1181.32 L563 1183.86 L565.22 1186.41 L568.91 1184.88 L585.15 1186.41 L586.63 1182.59 L592.54 1182.33 L599.92 1183.86 L605.83 1183.35 L607.31 1186.91 L611 1184.37 L614.69 1185.64 L622.08 1185.13 L636.85 1184.62" fill="none" stroke="#228b22" stroke-width="2.1" stroke-linejoin="round" stroke-linecap="round"/><rect x="210.65" y="1098.6" width="446.65" height="283.6" fill="none" stroke="#262626" stroke-width="0.8"/><line x1="267.6" y1="1382.2" x2="267.6" y2="1385.6000000000001" stroke="#262626" stroke-width="0.8"/><text x="267.6" y="1396.9" text-anchor="middle" font-size="9.05">0</text><line x1="341.45" y1="1382.2" x2="341.45" y2="1385.6000000000001" stroke="#262626" stroke-width="0.8"/><text x="341.45" y="1396.9" text-anchor="middle" font-size="9.05">1000</text><line x1="415.3" y1="1382.2" x2="415.3" y2="1385.6000000000001" stroke="#262626" stroke-width="0.8"/><text x="415.3" y="1396.9" text-anchor="middle" font-size="9.05">2000</text><line x1="489.15" y1="1382.2" x2="489.15" y2="1385.6000000000001" stroke="#262626" stroke-width="0.8"/><text x="489.15" y="1396.9" text-anchor="middle" font-size="9.05">3000</text><line x1="563" y1="1382.2" x2="563" y2="1385.6000000000001" stroke="#262626" stroke-width="0.8"/><text x="563" y="1396.9" text-anchor="middle" font-size="9.05">4000</text><line x1="636.85" y1="1382.2" x2="636.85" y2="1385.6000000000001" stroke="#262626" stroke-width="0.8"/><text x="636.85" y="1396.9" text-anchor="middle" font-size="9.05">5000</text><line x1="207.25" y1="1112.3" x2="210.65" y2="1112.3" stroke="#262626" stroke-width="0.8"/><text x="204.35" y="1115.7" text-anchor="end" font-size="9.05">4</text><line x1="207.25" y1="1163.2" x2="210.65" y2="1163.2" stroke="#262626" stroke-width="0.8"/><text x="204.35" y="1166.6" text-anchor="end" font-size="9.05">2</text><line x1="207.25" y1="1214.4" x2="210.65" y2="1214.4" stroke="#262626" stroke-width="0.8"/><text x="204.35" y="1217.8" text-anchor="end" font-size="9.05">0</text><line x1="207.25" y1="1265.2" x2="210.65" y2="1265.2" stroke="#262626" stroke-width="0.8"/><text x="204.35" y="1268.6" text-anchor="end" font-size="9.05">−2</text><line x1="207.25" y1="1315.9" x2="210.65" y2="1315.9" stroke="#262626" stroke-width="0.8"/><text x="204.35" y="1319.3" text-anchor="end" font-size="9.05">−4</text><line x1="207.25" y1="1366.8" x2="210.65" y2="1366.8" stroke="#262626" stroke-width="0.8"/><text x="204.35" y="1370.2" text-anchor="end" font-size="9.05">−6</text><text x="433.97" y="1086.0" text-anchor="middle" font-size="11.8">Market Impact of Large Buy Trades</text><text x="433.97" y="1414.6" text-anchor="middle" font-size="9.9">Relative Time (ms)</text><text transform="translate(179.3 1240.4) rotate(-90)" text-anchor="middle" font-size="9.9">Baseline-Relative Price</text><line x1="731.65" y1="1098.6" x2="731.65" y2="1382.2" stroke="#e4e4e4" stroke-width="0.8"/><line x1="805.5" y1="1098.6" x2="805.5" y2="1382.2" stroke="#e4e4e4" stroke-width="0.8"/><line x1="879.35" y1="1098.6" x2="879.35" y2="1382.2" stroke="#e4e4e4" stroke-width="0.8"/><line x1="953.2" y1="1098.6" x2="953.2" y2="1382.2" stroke="#e4e4e4" stroke-width="0.8"/><line x1="1027.05" y1="1098.6" x2="1027.05" y2="1382.2" stroke="#e4e4e4" stroke-width="0.8"/><line x1="1100.9" y1="1098.6" x2="1100.9" y2="1382.2" stroke="#e4e4e4" stroke-width="0.8"/><line x1="674.5" y1="1112.3" x2="1121.6" y2="1112.3" stroke="#e4e4e4" stroke-width="0.8"/><line x1="674.5" y1="1163.2" x2="1121.6" y2="1163.2" stroke="#e4e4e4" stroke-width="0.8"/><line x1="674.5" y1="1214.4" x2="1121.6" y2="1214.4" stroke="#e4e4e4" stroke-width="0.8"/><line x1="674.5" y1="1265.2" x2="1121.6" y2="1265.2" stroke="#e4e4e4" stroke-width="0.8"/><line x1="674.5" y1="1315.9" x2="1121.6" y2="1315.9" stroke="#e4e4e4" stroke-width="0.8"/><line x1="674.5" y1="1366.8" x2="1121.6" y2="1366.8" stroke="#e4e4e4" stroke-width="0.8"/><path d="M694.75 1180.11 L703.91 1183 L706.33 1179.15 L717.18 1179.39 L723.21 1182.52 L728.03 1186.62 L730.44 1195.06 L731.65 1209.53 L734.06 1217.98 L737.68 1220.39 L741.3 1208.33 L744.92 1205.19 L751.43 1205.19 L752.39 1210.02 L764.93 1210.02 L767.35 1217.98 L781.09 1218.46 L782.3 1214.36 L796.77 1213.88 L802.8 1210.74 L807.62 1203.99 L812.45 1203.5 L813.65 1204.71 L819.68 1203.99 L823.3 1205.19 L836.57 1206.64 L845.01 1203.5 L852.24 1206.4 L860.68 1207.12 L866.71 1209.53 L875.16 1205.19 L883.6 1206.64 L889.63 1210.74 L891.31 1213.63 L900.48 1212.91 L905.3 1213.88 L933.52 1212.91 L934.25 1218.7 L946.3 1220.15 L953.54 1218.7 L972.83 1215.56 L980.07 1210.02 L987.31 1208.33 L1001.78 1209.05 L1012.87 1207.61 L1013.84 1205.92 L1025.9 1207.12 L1028.79 1209.05 L1032.17 1205.19 L1035.54 1202.78 L1040.37 1204.71 L1050.01 1205.92 L1059.66 1210.02 L1066.41 1210.02 L1068.1 1204.71 L1072.93 1202.3 L1083.3 1201.82 L1084.99 1192.65 L1088.6 1194.58 L1100.9 1195.06 L1100.9 1351.83 L1091.02 1354.25 L1081.37 1352.56 L1068.1 1350.63 L1066.9 1355.45 L1064.49 1354.73 L1057.25 1348.22 L1050.01 1345.8 L1032.65 1346.29 L1031.68 1352.32 L1028.79 1352.32 L1025.9 1350.15 L1018.66 1350.15 L1013.84 1353.04 L1013.35 1369.44 L1006.6 1365.1 L994.54 1356.66 L980.07 1357.86 L972.83 1354.25 L946.3 1354.73 L939.07 1357.14 L934.25 1357.38 L933.04 1351.35 L922.19 1350.63 L919.77 1351.83 L907.72 1351.83 L902.89 1348.22 L895.66 1347.49 L891.31 1342.19 L888.42 1332.06 L878.77 1328.92 L868.64 1328.2 L867.2 1332.54 L859.96 1332.54 L852.24 1326.51 L845.01 1322.89 L836.57 1313.73 L823.3 1313.24 L815.58 1311.31 L814.14 1307.21 L812.45 1312.04 L804.01 1313.24 L801.11 1306.01 L794.36 1301.67 L784.71 1298.77 L770.24 1297.57 L767.83 1296.36 L764.93 1292.02 L758.18 1292.5 L754.56 1291.05 L751.43 1285.51 L744.92 1284.3 L739.37 1274.65 L735.75 1274.17 L733.58 1265.01 L731.65 1243.3 L727.31 1233.65 L724.41 1231.72 L717.18 1230.04 L705.12 1229.55 L701.5 1234.86 L696.68 1235.58 L694.75 1228.83Z" fill="#f8d0d8" stroke="none"/><line x1="731.65" y1="1098.6" x2="731.65" y2="1382.2" stroke="#ababab" stroke-width="1.8" stroke-dasharray="5.2 2.2"/><path d="M694.75 1204.71 L695.95 1207.61 L701.5 1208.81 L706.33 1204.23 L717.18 1204.71 L723.21 1206.4 L724.9 1205.19 L727.31 1208.33 L730.44 1214.36 L731.65 1228.83 L733.58 1242.09 L736.47 1247.64 L738.89 1246.19 L742.5 1242.82 L746.12 1244.51 L751.43 1244.99 L752.39 1249.33 L755.77 1251.02 L764.93 1251.26 L767.83 1256.57 L770.24 1257.77 L781.09 1257.77 L782.78 1256.08 L794.36 1257.77 L800.39 1258.98 L804.97 1260.91 L808.83 1258.25 L813.65 1257.05 L819.68 1257.77 L820.89 1259.22 L836.57 1260.18 L845.01 1263.08 L852.24 1266.94 L859.96 1270.31 L866.71 1271.04 L867.92 1268.62 L875.16 1266.45 L883.6 1267.9 L889.63 1271.04 L891.31 1277.07 L894.45 1279.48 L905.3 1281.89 L919.77 1282.61 L920.98 1281.65 L933.52 1281.65 L934.25 1287.92 L943.89 1287.44 L953.54 1286.71 L965.6 1285.75 L977.66 1283.82 L994.54 1281.89 L1006.6 1286.71 L1012.87 1288.64 L1013.6 1279 L1018.66 1278.03 L1025.9 1278.51 L1028.31 1280.68 L1031.2 1280.68 L1032.17 1275.38 L1035.54 1273.93 L1040.37 1275.14 L1050.01 1275.86 L1057.25 1278.27 L1065.69 1282.37 L1068.1 1277.55 L1072.93 1276.34 L1082.57 1276.83 L1084.99 1272.72 L1088.6 1274.17 L1100.9 1273.45" fill="none" stroke="#dc143c" stroke-width="2.1" stroke-linejoin="round" stroke-linecap="round"/><rect x="674.5" y="1098.6" width="447.1" height="283.6" fill="none" stroke="#262626" stroke-width="0.8"/><line x1="731.65" y1="1382.2" x2="731.65" y2="1385.6000000000001" stroke="#262626" stroke-width="0.8"/><text x="731.65" y="1396.9" text-anchor="middle" font-size="9.05">0</text><line x1="805.5" y1="1382.2" x2="805.5" y2="1385.6000000000001" stroke="#262626" stroke-width="0.8"/><text x="805.5" y="1396.9" text-anchor="middle" font-size="9.05">1000</text><line x1="879.35" y1="1382.2" x2="879.35" y2="1385.6000000000001" stroke="#262626" stroke-width="0.8"/><text x="879.35" y="1396.9" text-anchor="middle" font-size="9.05">2000</text><line x1="953.2" y1="1382.2" x2="953.2" y2="1385.6000000000001" stroke="#262626" stroke-width="0.8"/><text x="953.2" y="1396.9" text-anchor="middle" font-size="9.05">3000</text><line x1="1027.05" y1="1382.2" x2="1027.05" y2="1385.6000000000001" stroke="#262626" stroke-width="0.8"/><text x="1027.05" y="1396.9" text-anchor="middle" font-size="9.05">4000</text><line x1="1100.9" y1="1382.2" x2="1100.9" y2="1385.6000000000001" stroke="#262626" stroke-width="0.8"/><text x="1100.9" y="1396.9" text-anchor="middle" font-size="9.05">5000</text><line x1="671.1" y1="1112.3" x2="674.5" y2="1112.3" stroke="#262626" stroke-width="0.8"/><line x1="671.1" y1="1163.2" x2="674.5" y2="1163.2" stroke="#262626" stroke-width="0.8"/><line x1="671.1" y1="1214.4" x2="674.5" y2="1214.4" stroke="#262626" stroke-width="0.8"/><line x1="671.1" y1="1265.2" x2="674.5" y2="1265.2" stroke="#262626" stroke-width="0.8"/><line x1="671.1" y1="1315.9" x2="674.5" y2="1315.9" stroke="#262626" stroke-width="0.8"/><line x1="671.1" y1="1366.8" x2="674.5" y2="1366.8" stroke="#262626" stroke-width="0.8"/><text x="898.05" y="1086.0" text-anchor="middle" font-size="11.8">Market Impact of Large Sell Trades</text><text x="898.05" y="1414.6" text-anchor="middle" font-size="9.9">Relative Time (ms)</text></svg>
<!-- p30_mid -->
<div class="a" style="left:1259px;top:570px;width:1097px;height:119.5px;background:#c3d5fd;border-radius:6px;"></div>
<div class="l" style="left:1259px;top:561px;width:1097px;font-size:50.96px;line-height:132.5px;height:132.5px;text-align:center;"><b>Modeling the Market Impact</b></div>
<div class="l" style="left:1266px;top:688px;width:1082.5px;font-size:42.46px;line-height:110.4px;height:110.4px;"><b>Limitation of Traditional Robust RL</b></div>
<div class="l" style="left:1266px;top:745.01px;width:1082.5px;font-size:35.4px;line-height:92.03px;height:92.03px;word-spacing:2.887px;"><span class="jl">Robust MDPs can handle model mismatch.<span class="sp" style="width:0.2em"></span> However, most existing</span></div>
<div class="l" style="left:1266px;top:791px;width:1082.5px;font-size:35.4px;line-height:92.03px;height:92.03px;word-spacing:6.000px;"><span class="jl">formulations adopt <i class="bl">symmetric structures</i>, presenting a fundamental</span></div>
<div class="l" style="left:1266px;top:837px;width:1082.5px;font-size:35.4px;line-height:92.03px;height:92.03px;">limitation illustrated below.</div>
<div class="l" style="left:1266px;top:1255.01px;width:1082.5px;font-size:29.49px;line-height:76.68px;height:76.68px;word-spacing:1.857px;"><span class="jl">Figure 2:<span class="sp" style="width:0.15em"></span> An illustration of two price deviations.<span class="sp" style="width:0.2em"></span> The symmetric uncertainty set al-</span></div>
<div class="l" style="left:1266px;top:1292.01px;width:1082.5px;font-size:29.49px;line-height:76.68px;height:76.68px;word-spacing:1.328px;"><span class="jl">ways contains both <i>Upward Shift</i> and <i>Downward Shift</i> transitions.<span class="sp" style="width:0.2em"></span> However, in the</span></div>
<div class="l" style="left:1266px;top:1330px;width:1082.5px;font-size:29.49px;line-height:76.68px;height:76.68px;">financial market, one side could be less possible.</div>
<div class="a" style="left:1265.5px;top:1422.75px;width:1083.5px;height:1.5px;background:#7f7f7f;"></div>
<div class="l" style="left:1266px;top:1436.01px;width:1082.5px;font-size:42.46px;line-height:110.4px;height:110.4px;"><b>The Elliptic Uncertainty Sets</b></div>
<div class="l" style="left:1266px;top:1494.01px;width:1082.5px;font-size:35.4px;line-height:92.03px;height:92.03px;word-spacing:-0.084px;"><span class="jl">We propose the <i class="bl">elliptic uncertainty set</i>, providing a solution to include</span></div>
<div class="l" style="left:1266px;top:1540.01px;width:1082.5px;font-size:35.4px;line-height:92.03px;height:92.03px;">only one side of the shift.</div>
<div class="a" style="left:1265.5px;top:1634.7px;width:1083.5px;height:324.6px;border:2px solid #648fff;border-radius:6px;"></div>
<div class="a" style="left:1265.5px;top:1634.7px;width:1083.5px;height:36px;background:#648fff;border-radius:6px 6px 0 0;"></div>
<div class="l" style="left:1286px;top:1608.02px;width:1083.5px;font-size:35.4px;line-height:92.03px;height:92.03px;color:#fff;"><b>Definition</b></div>
<div class="l" style="left:1286px;top:1652.01px;width:1042.5px;font-size:35.4px;line-height:92.03px;height:92.03px;">Define the <i>elliptic</i> <span class="mth"><span class="dl">(</span><span class="m">s</span><span class="r pu">,</span><span class="sp" style="width:0.17em"></span><span class="m">a</span><span class="dl">)</span></span><i>-uncertainty set</i> as</div>
<div class="l mf e1" style="left:1286px;top:1743.01px;width:1042.5px;font-size:35.4px;line-height:92.03px;height:92.03px;text-align:center;"><span class="mth"><span class="c cl">𝒰</span><span class="ss" style="font-size:73%;top:0.22em;margin-left:-0.07em;"><span class="m">s</span><span class="r pu">,</span><span class="m">a</span></span><span class="sp" style="width:0.28em"></span><span class="r" style="margin-right:-0.02em">:</span><span class="op">=</span><span class="sp" style="width:0.28em"></span><span class="br">{</span><span class="m">u</span><span class="sp" style="width:0.28em"></span><span class="op c sy">∈</span><span class="sp" style="width:0.28em"></span><span class="c bb">ℝ</span><span class="ss" style="font-size:73%;top:-0.51em;margin-left:0.03em;"><span class="dl vb">|</span><span class="c cl">𝒮</span><span class="dl vb">|</span></span><span class="sp" style="width:0.28em"></span><span class="vbar"></span><span class="sp" style="width:0.28em"></span><span class="sp" style="width:0.17em"></span><span class="st" style="width:1.45em"><span class="sa sc" style="font-size:100%;top:-0.34em"><span class="c sg">∑</span></span><span class="sa sc" style="font-size:73%;top:-2.08em"><span class="m u">N</span></span><span class="sa sc" style="font-size:73%;top:1.39em"><span class="m">n</span><span class="op">=</span><span class="r">1</span></span></span><span class="sp" style="width:0.17em"></span><span class="dl nb">|</span><span class="dl nb">|</span><span class="m">u</span><span class="sp" style="width:0.22em"></span><span class="op">−</span><span class="sp" style="width:0.22em"></span><span class="m">u</span><span class="st" style="width:1.01em"><span class="sa" style="font-size:73%;top:-0.91em"><span class="sp" style="width:0.08em"></span><span class="m">s</span><span class="r pu">,</span><span class="m">a</span></span><span class="sa" style="font-size:73%;top:0.01em"><span class="m">n</span></span></span><span class="dl nb">|</span><span class="dl nb">|</span><span class="sp" style="width:0.28em"></span><span class="op">≤</span><span class="sp" style="width:0.28em"></span><span class="m">β</span><span class="ss" style="font-size:73%;top:0.22em;margin-left:-0.03em;"><span class="m">s</span><span class="r pu">,</span><span class="m">a</span></span><span class="r pu">,</span><span class="sp" style="width:0.17em"></span><span class="sp" style="width:0.28em"></span><span class="sp" style="width:0.22em"></span><span class="m">u</span><span class="ss" style="font-size:73%;top:-0.51em;margin-left:0.08em;"><span class="c tp">⊤</span></span><span class="r b">1</span><span class="ss" style="font-size:73%;top:0.22em;"><span class="dl vb">|</span><span class="c cl">𝒮</span><span class="dl vb">|</span></span><span class="sp" style="width:0.28em"></span><span class="op">=</span><span class="sp" style="width:0.28em"></span><span class="r">0</span><span class="br">}</span><span class="sp" style="width:0.17em"></span><span class="r pu">,</span><span class="sp" style="width:0.17em"></span></span></div>
<div class="l" style="left:1286px;top:1743.01px;width:1042.5px;font-size:35.4px;line-height:92.03px;height:92.03px;text-align:right;">(1)</div>
<div class="l" style="left:1286px;top:1837.01px;width:1042.5px;font-size:35.4px;line-height:92.03px;height:92.03px;word-spacing:5.892px;"><span class="jl">where <span class="mth"><span class="dl">{</span><span class="m">u</span><span class="st" style="width:1.01em"><span class="sa" style="font-size:73%;top:-0.91em"><span class="sp" style="width:0.08em"></span><span class="m">s</span><span class="r pu">,</span><span class="m">a</span></span><span class="sa" style="font-size:73%;top:0.01em"><span class="m">n</span></span></span><span class="dl">}</span><span class="st" style="width:1.35em"><span class="sa" style="font-size:73%;top:-0.91em"><span class="m u">N</span></span><span class="sa" style="font-size:73%;top:0.01em"><span class="m">n</span><span class="op">=</span><span class="r">1</span></span></span><span class="sp" style="width:0.28em"></span><span class="op c sy">∈</span><span class="sp" style="width:0.28em"></span><span class="c bb">ℝ</span><span class="ss" style="font-size:73%;top:-0.51em;margin-left:0.03em;"><span class="dl vb">|</span><span class="c cl">𝒮</span><span class="dl vb">|</span></span></span> are the <i>foci</i> of the ellipse, <span class="mth"><span class="m">β</span><span class="ss" style="font-size:73%;top:0.22em;margin-left:-0.03em;"><span class="m">s</span><span class="r pu">,</span><span class="m">a</span></span><span class="sp" style="width:0.28em"></span><span class="op">≥</span><span class="sp" style="width:0.28em"></span><span class="r">0</span></span> is the</span></div>
<div class="l" style="left:1286px;top:1883.01px;width:1042.5px;font-size:35.4px;line-height:92.03px;height:92.03px;"><i>uncertainty size</i>.</div>
<div class="l" style="left:1256px;top:1943px;width:60px;font-size:46.72px;line-height:121.48px;height:121.48px;"><span class="ck">&#10003;</span></div>
<div class="l" style="left:1297px;top:1958.01px;width:1051.5px;font-size:35.4px;line-height:92.03px;height:92.03px;word-spacing:1.438px;"><span class="jl"><b>More General:</b><span class="sp" style="width:0.1em"></span> The class of elliptic <span class="mth"><span class="dl">(</span><span class="m">s</span><span class="r pu">,</span><span class="sp" style="width:0.17em"></span><span class="m">a</span><span class="dl">)</span></span>-uncertainty sets includes</span></div>
<div class="l" style="left:1297px;top:2004.02px;width:1051.5px;font-size:35.4px;line-height:92.03px;height:92.03px;">the <span class="mth"><span class="el">ℓ</span><span class="ss" style="font-size:73%;top:0.22em;"><span class="m">p</span></span></span>-norm uncertainty set as a special case.</div>
<div class="l" style="left:1256px;top:2045px;width:60px;font-size:46.72px;line-height:121.48px;height:121.48px;"><span class="ck">&#10003;</span></div>
<div class="l" style="left:1297px;top:2059.01px;width:1051.5px;font-size:35.4px;line-height:92.03px;height:92.03px;"><b>Easy to Solve:</b> Closed-form solution available!</div>
<div class="a" style="left:1265.5px;top:2174.95px;width:1083.5px;height:1.5px;background:#7f7f7f;"></div>
<div class="l" style="left:1266px;top:2189.01px;width:1082.5px;font-size:42.46px;line-height:110.4px;height:110.4px;"><b>Closed-Form Solution for Efficient Evaluation</b></div>
<div class="l" style="left:1266px;top:2246.01px;width:1082.5px;font-size:35.4px;line-height:92.03px;height:92.03px;">We can turn the robust TD-learning into the optimization problem</div>
<div class="l mf" style="left:1266px;top:2304.01px;width:1082.5px;font-size:35.4px;line-height:92.03px;height:92.03px;text-align:center;"><span class="mth"><span class="st" style="width:4.6em"><span class="sa sc" style="font-size:100%;top:-0.34em"><span class="r">min</span></span><span class="sa sc" style="font-size:73%;top:0.87em"><span class="c sgs">∑</span><span class="ss" style="font-size:73%;top:0.22em;"><span class="m">n</span></span><span class="sp" style="width:0.17em"></span><span class="dl nb">|</span><span class="dl nb">|</span><span class="m">u</span><span class="op">−</span><span class="m">u</span><span class="ss" style="font-size:73%;top:0.22em;"><span class="m">n</span></span><span class="dl nb">|</span><span class="dl nb">|</span><span class="op">≤</span><span class="m">β</span></span><span class="sa sc" style="font-size:73%;top:1.94em"><span class="m">u</span><span class="ss" style="font-size:73%;top:-0.51em;margin-left:0.08em;"><span class="c tp">⊤</span></span><span class="r b">1</span><span class="op">=</span><span class="r">0</span></span></span><span class="sp" style="width:0.17em"></span><span class="m">u</span><span class="ss" style="font-size:73%;top:-0.51em;margin-left:0.08em;"><span class="c tp">⊤</span></span><span class="m">v</span><span class="r">.</span></span></div>
<div class="l" style="left:1266px;top:2304.01px;width:1082.5px;font-size:35.4px;line-height:92.03px;height:92.03px;text-align:right;">(2)</div>
<div class="a" style="left:1265.5px;top:2437px;width:1083.5px;height:223.4px;border:2px solid #648fff;border-radius:6px;"></div>
<div class="a" style="left:1265.5px;top:2437px;width:1083.5px;height:36px;background:#648fff;border-radius:6px 6px 0 0;"></div>
<div class="l" style="left:1286px;top:2410px;width:1083.5px;font-size:35.4px;line-height:92.03px;height:92.03px;color:#fff;"><b>Theorem</b></div>
<div class="l" style="left:1286px;top:2452.01px;width:1042.5px;font-size:35.4px;line-height:92.03px;height:92.03px;">For <span class="mth"><span class="el">ℓ</span><span class="ss" style="font-size:73%;top:0.22em;"><span class="m">p</span></span></span>-norm, there exists <span class="mth"><span class="m">λ</span><span class="ss" style="font-size:73%;top:-0.51em;margin-left:0.03em;"><span class="r">*</span></span></span> and <span class="mth"><span class="m">μ</span><span class="ss" style="font-size:73%;top:-0.51em;margin-left:0.03em;"><span class="r">*</span></span></span> such that (2) is solved by</div>
<div class="l mf" style="left:1286px;top:2543.01px;width:1042.5px;font-size:35.4px;line-height:92.03px;height:92.03px;text-align:center;"><span class="mth"><span class="m">u</span><span class="ss" style="font-size:73%;top:-0.51em;margin-left:0.08em;"><span class="r">*</span></span><span class="sp" style="width:0.28em"></span><span class="op">=</span><span class="sp" style="width:0.28em"></span><span class="st" style="width:3.25em"><span class="sa sc" style="font-size:100%;top:-0.34em"><span class="r">arg<span class="sp" style="width:.167em"></span>min</span></span><span class="sa sc" style="font-size:73%;top:0.92em"><span class="m">u</span></span></span><span class="bk">[</span><span class="dl">(</span><span class="m">v</span><span class="sp" style="width:0.22em"></span><span class="op">+</span><span class="sp" style="width:0.22em"></span><span class="m">μ</span><span class="ss" style="font-size:73%;top:-0.51em;margin-left:0.03em;"><span class="r">*</span></span><span class="r b">1</span><span class="dl">)</span><span class="ss" style="font-size:73%;top:-0.51em;"><span class="c tp">⊤</span></span><span class="m">u</span><span class="sp" style="width:0.22em"></span><span class="op">+</span><span class="sp" style="width:0.22em"></span><span class="m">λ</span><span class="ss" style="font-size:73%;top:-0.51em;margin-left:0.03em;"><span class="r">*</span></span><span class="sp" style="width:0.17em"></span><span class="st" style="width:1.45em"><span class="sa sc" style="font-size:100%;top:-0.34em"><span class="c sg">∑</span></span><span class="sa sc" style="font-size:73%;top:-2.08em"><span class="m u">N</span></span><span class="sa sc" style="font-size:73%;top:1.39em"><span class="m">n</span><span class="op">=</span><span class="r">1</span></span></span><span class="sp" style="width:0.17em"></span><span class="dl nb">|</span><span class="dl nb">|</span><span class="m">u</span><span class="sp" style="width:0.22em"></span><span class="op">−</span><span class="sp" style="width:0.22em"></span><span class="m">u</span><span class="ss" style="font-size:73%;top:0.22em;"><span class="m">n</span></span><span class="dl nb">|</span><span class="dl nb">|</span><span class="ss" style="font-size:73%;top:0.22em;"><span class="m">p</span></span><span class="bk">]</span><span class="r">.</span></span></div>
<div class="l" style="left:1266px;top:2694.02px;width:1082.5px;font-size:35.4px;line-height:92.03px;height:92.03px;word-spacing:4.286px;"><span class="jl"><span class="ar">&#10146;</span> When <i>(i)</i> <span class="mth"><span class="m u">N</span><span class="sp" style="width:0.28em"></span><span class="op">=</span><span class="sp" style="width:0.28em"></span><span class="r">1</span></span>, or <i>(ii)</i> <span class="mth"><span class="m u">N</span><span class="sp" style="width:0.28em"></span><span class="op">=</span><span class="sp" style="width:0.28em"></span><span class="r">2</span></span> and <span class="mth"><span class="m">p</span><span class="sp" style="width:0.28em"></span><span class="op">=</span><span class="sp" style="width:0.28em"></span><span class="r">1</span></span>, or <i>(iii)</i> <span class="mth"><span class="m u">N</span><span class="sp" style="width:0.28em"></span><span class="op">=</span><span class="sp" style="width:0.28em"></span><span class="r">2</span></span> and <span class="mth"><span class="m">p</span><span class="sp" style="width:0.28em"></span><span class="op">=</span><span class="sp" style="width:0.28em"></span><span class="r">2</span></span>,</span></div>
<div class="l" style="left:1266px;top:2740.02px;width:1082.5px;font-size:35.4px;line-height:92.03px;height:92.03px;">we further obtain the <i class="bl">explicit solution</i>. See Theorem 3.5 of our paper!</div>
<!-- p31_fig2 -->
<svg class="f2" style="left:0;top:0" width="3600" height="2880" viewBox="0 0 3600 2880"><rect x="1267.4" y="934" width="320.1" height="326.4" fill="none" stroke="#000" stroke-width="4.2" stroke-dasharray="15.9 11.8" stroke-dashoffset="-2"/><text x="1284.2" y="971" font-family="'Liberation Sans',sans-serif" font-size="21.6" letter-spacing="0.55" fill="#111">No Market Impact</text><text x="1348" y="1012.2" font-family="'Liberation Serif','DejaVu Serif',serif" font-size="25.0" fill="#000"><tspan font-style="italic">u</tspan><tspan font-size="17" dy="5.2">0</tspan><tspan dy="-5.2" dx="6.5" font-size="30">=</tspan><tspan dx="6.5" font-size="1"> </tspan>[0,0,0,0,0]<tspan font-size="11" dy="-11.5" dx="1.5" font-family="'DejaVu Sans',sans-serif">&#8868;</tspan></text><path d="M1341.3 1045.8 C1341.86 1049.36 1343.16 1059.56 1344.64 1067.14 C1346.12 1074.71 1348.04 1084.45 1350.21 1091.25 C1352.37 1098.06 1354.53 1103.47 1357.63 1107.95 C1360.72 1112.44 1365.05 1115.22 1368.76 1118.16 C1372.47 1121.09 1377.11 1123.54 1379.89 1125.58 C1382.67 1127.62 1384.28 1129.07 1385.46 1130.4 C1386.63 1131.73 1386.94 1132.44 1386.94 1133.56 C1386.94 1134.67 1386.63 1135.63 1385.46 1137.08 C1384.28 1138.53 1382.67 1140.33 1379.89 1142.27 C1377.11 1144.22 1372.31 1146.14 1368.76 1148.77 C1365.2 1151.4 1361.34 1154.03 1358.55 1158.04 C1355.77 1162.06 1354.07 1166.39 1352.06 1172.89 C1350.05 1179.38 1348.29 1189.06 1346.49 1197.01 C1344.7 1204.95 1342.17 1216.64 1341.3 1220.57 Z" fill="#f2f2f2" stroke="none"/><path d="M1341.3 1045.8 C1341.86 1049.36 1343.16 1059.56 1344.64 1067.14 C1346.12 1074.71 1348.04 1084.45 1350.21 1091.25 C1352.37 1098.06 1354.53 1103.47 1357.63 1107.95 C1360.72 1112.44 1365.05 1115.22 1368.76 1118.16 C1372.47 1121.09 1377.11 1123.54 1379.89 1125.58 C1382.67 1127.62 1384.28 1129.07 1385.46 1130.4 C1386.63 1131.73 1386.94 1132.44 1386.94 1133.56 C1386.94 1134.67 1386.63 1135.63 1385.46 1137.08 C1384.28 1138.53 1382.67 1140.33 1379.89 1142.27 C1377.11 1144.22 1372.31 1146.14 1368.76 1148.77 C1365.2 1151.4 1361.34 1154.03 1358.55 1158.04 C1355.77 1162.06 1354.07 1166.39 1352.06 1172.89 C1350.05 1179.38 1348.29 1189.06 1346.49 1197.01 C1344.7 1204.95 1342.17 1216.64 1341.3 1220.57" fill="none" stroke="#0e2a3b" stroke-width="1.5" stroke-linecap="round"/><rect x="1302.2" y="1045.1" width="35.7" height="176.1" fill="#fff" stroke="#000" stroke-width="2.5" stroke-linejoin="round"/><line x1="1302.2" y1="1080.32" x2="1337.9" y2="1080.32" stroke="#000" stroke-width="2.5"/><line x1="1302.2" y1="1115.54" x2="1337.9" y2="1115.54" stroke="#000" stroke-width="2.5"/><line x1="1302.2" y1="1150.76" x2="1337.9" y2="1150.76" stroke="#000" stroke-width="2.5"/><line x1="1302.2" y1="1185.98" x2="1337.9" y2="1185.98" stroke="#000" stroke-width="2.5"/><path d="M1406.8 1133.0 H1448.5 M1440.2 1125.4 L1448.5 1133.0 L1440.2 1140.8" fill="none" stroke="#000" stroke-width="2.7" stroke-linecap="round" stroke-linejoin="round"/><path d="M1519.5 1045.8 C1520.06 1049.36 1521.36 1059.56 1522.84 1067.14 C1524.32 1074.71 1526.24 1084.45 1528.41 1091.25 C1530.57 1098.06 1532.73 1103.47 1535.83 1107.95 C1538.92 1112.44 1543.25 1115.22 1546.96 1118.16 C1550.67 1121.09 1555.31 1123.54 1558.09 1125.58 C1560.87 1127.62 1562.48 1129.07 1563.66 1130.4 C1564.83 1131.73 1565.14 1132.44 1565.14 1133.56 C1565.14 1134.67 1564.83 1135.63 1563.66 1137.08 C1562.48 1138.53 1560.87 1140.33 1558.09 1142.27 C1555.31 1144.22 1550.51 1146.14 1546.96 1148.77 C1543.4 1151.4 1539.54 1154.03 1536.75 1158.04 C1533.97 1162.06 1532.27 1166.39 1530.26 1172.89 C1528.25 1179.38 1526.49 1189.06 1524.69 1197.01 C1522.9 1204.95 1520.37 1216.64 1519.5 1220.57 Z" fill="#f2f2f2" stroke="none"/><path d="M1519.5 1045.8 C1520.06 1049.36 1521.36 1059.56 1522.84 1067.14 C1524.32 1074.71 1526.24 1084.45 1528.41 1091.25 C1530.57 1098.06 1532.73 1103.47 1535.83 1107.95 C1538.92 1112.44 1543.25 1115.22 1546.96 1118.16 C1550.67 1121.09 1555.31 1123.54 1558.09 1125.58 C1560.87 1127.62 1562.48 1129.07 1563.66 1130.4 C1564.83 1131.73 1565.14 1132.44 1565.14 1133.56 C1565.14 1134.67 1564.83 1135.63 1563.66 1137.08 C1562.48 1138.53 1560.87 1140.33 1558.09 1142.27 C1555.31 1144.22 1550.51 1146.14 1546.96 1148.77 C1543.4 1151.4 1539.54 1154.03 1536.75 1158.04 C1533.97 1162.06 1532.27 1166.39 1530.26 1172.89 C1528.25 1179.38 1526.49 1189.06 1524.69 1197.01 C1522.9 1204.95 1520.37 1216.64 1519.5 1220.57" fill="none" stroke="#0e2a3b" stroke-width="1.5" stroke-linecap="round"/><rect x="1480.3" y="1045.1" width="35.7" height="176.1" fill="#fff" stroke="#000" stroke-width="2.5" stroke-linejoin="round"/><line x1="1480.3" y1="1080.32" x2="1516" y2="1080.32" stroke="#000" stroke-width="2.5"/><line x1="1480.3" y1="1115.54" x2="1516" y2="1115.54" stroke="#000" stroke-width="2.5"/><line x1="1480.3" y1="1150.76" x2="1516" y2="1150.76" stroke="#000" stroke-width="2.5"/><line x1="1480.3" y1="1185.98" x2="1516" y2="1185.98" stroke="#000" stroke-width="2.5"/><rect x="1647.1" y="934" width="320.1" height="326.4" fill="none" stroke="#000" stroke-width="4.2" stroke-dasharray="15.9 11.8" stroke-dashoffset="-2"/><text x="1665.3" y="971" font-family="'Liberation Sans',sans-serif" font-size="21.6" letter-spacing="0.55" fill="#111">Upward Shift</text><text x="1724.3" y="1012.2" font-family="'Liberation Serif','DejaVu Serif',serif" font-size="25.0" fill="#000"><tspan font-style="italic">u</tspan><tspan font-size="17" dy="5.2">1</tspan><tspan dy="-5.2" dx="6.5" font-size="30">=</tspan><tspan dx="6.5" font-size="1"> </tspan>[<tspan font-style="italic">ε</tspan>, <tspan font-style="italic">ε</tspan>, −2<tspan font-style="italic">ε</tspan>, 0,0]<tspan font-size="11" dy="-11.5" dx="1.5" font-family="'DejaVu Sans',sans-serif">&#8868;</tspan></text><path d="M1721 1045.8 C1721.56 1049.36 1722.86 1059.56 1724.34 1067.14 C1725.82 1074.71 1727.74 1084.45 1729.91 1091.25 C1732.07 1098.06 1734.23 1103.47 1737.33 1107.95 C1740.42 1112.44 1744.75 1115.22 1748.46 1118.16 C1752.17 1121.09 1756.81 1123.54 1759.59 1125.58 C1762.37 1127.62 1763.98 1129.07 1765.16 1130.4 C1766.33 1131.73 1766.64 1132.44 1766.64 1133.56 C1766.64 1134.67 1766.33 1135.63 1765.16 1137.08 C1763.98 1138.53 1762.37 1140.33 1759.59 1142.27 C1756.81 1144.22 1752.01 1146.14 1748.46 1148.77 C1744.9 1151.4 1741.04 1154.03 1738.25 1158.04 C1735.47 1162.06 1733.77 1166.39 1731.76 1172.89 C1729.75 1179.38 1727.99 1189.06 1726.19 1197.01 C1724.4 1204.95 1721.87 1216.64 1721 1220.57 Z" fill="#f2f2f2" stroke="none"/><path d="M1721 1045.8 C1721.56 1049.36 1722.86 1059.56 1724.34 1067.14 C1725.82 1074.71 1727.74 1084.45 1729.91 1091.25 C1732.07 1098.06 1734.23 1103.47 1737.33 1107.95 C1740.42 1112.44 1744.75 1115.22 1748.46 1118.16 C1752.17 1121.09 1756.81 1123.54 1759.59 1125.58 C1762.37 1127.62 1763.98 1129.07 1765.16 1130.4 C1766.33 1131.73 1766.64 1132.44 1766.64 1133.56 C1766.64 1134.67 1766.33 1135.63 1765.16 1137.08 C1763.98 1138.53 1762.37 1140.33 1759.59 1142.27 C1756.81 1144.22 1752.01 1146.14 1748.46 1148.77 C1744.9 1151.4 1741.04 1154.03 1738.25 1158.04 C1735.47 1162.06 1733.77 1166.39 1731.76 1172.89 C1729.75 1179.38 1727.99 1189.06 1726.19 1197.01 C1724.4 1204.95 1721.87 1216.64 1721 1220.57" fill="none" stroke="#0e2a3b" stroke-width="1.5" stroke-linecap="round"/><rect x="1681.9" y="1045.1" width="35.7" height="176.1" fill="#fff" stroke="#000" stroke-width="2.5" stroke-linejoin="round"/><line x1="1681.9" y1="1080.32" x2="1717.6" y2="1080.32" stroke="#000" stroke-width="2.5"/><line x1="1681.9" y1="1115.54" x2="1717.6" y2="1115.54" stroke="#000" stroke-width="2.5"/><line x1="1681.9" y1="1150.76" x2="1717.6" y2="1150.76" stroke="#000" stroke-width="2.5"/><line x1="1681.9" y1="1185.98" x2="1717.6" y2="1185.98" stroke="#000" stroke-width="2.5"/><path d="M1786.5 1133.0 H1828.2 M1819.9 1125.4 L1828.2 1133.0 L1819.9 1140.8" fill="none" stroke="#000" stroke-width="2.7" stroke-linecap="round" stroke-linejoin="round"/><path d="M1899.2 1045.8 C1900.13 1048.43 1902.29 1056.31 1904.77 1061.57 C1907.24 1066.83 1910.33 1073.01 1914.04 1077.34 C1917.75 1081.67 1923.16 1084.61 1927.03 1087.54 C1930.89 1090.48 1934.57 1092.71 1937.23 1094.97 C1939.89 1097.22 1941.81 1099.54 1942.98 1101.09 C1944.16 1102.63 1944.28 1103.13 1944.28 1104.24 C1944.28 1105.35 1944.16 1106.44 1942.98 1107.77 C1941.81 1109.1 1939.89 1110.64 1937.23 1112.22 C1934.57 1113.8 1930.59 1114.54 1927.03 1117.23 C1923.47 1119.92 1918.84 1123.1 1915.9 1128.36 C1912.96 1133.62 1911.26 1141.04 1909.4 1148.77 C1907.55 1156.5 1906 1166.7 1904.77 1174.74 C1903.53 1182.78 1902.91 1189.37 1901.98 1197.01 C1901.06 1204.64 1899.66 1216.64 1899.2 1220.57 Z" fill="#fce4d6" stroke="none"/><path d="M1899.2 1045.8 C1900.13 1048.43 1902.29 1056.31 1904.77 1061.57 C1907.24 1066.83 1910.33 1073.01 1914.04 1077.34 C1917.75 1081.67 1923.16 1084.61 1927.03 1087.54 C1930.89 1090.48 1934.57 1092.71 1937.23 1094.97 C1939.89 1097.22 1941.81 1099.54 1942.98 1101.09 C1944.16 1102.63 1944.28 1103.13 1944.28 1104.24 C1944.28 1105.35 1944.16 1106.44 1942.98 1107.77 C1941.81 1109.1 1939.89 1110.64 1937.23 1112.22 C1934.57 1113.8 1930.59 1114.54 1927.03 1117.23 C1923.47 1119.92 1918.84 1123.1 1915.9 1128.36 C1912.96 1133.62 1911.26 1141.04 1909.4 1148.77 C1907.55 1156.5 1906 1166.7 1904.77 1174.74 C1903.53 1182.78 1902.91 1189.37 1901.98 1197.01 C1901.06 1204.64 1899.66 1216.64 1899.2 1220.57" fill="none" stroke="#0e2a3b" stroke-width="1.5" stroke-linecap="round"/><rect x="1860" y="1045.1" width="35.7" height="176.1" fill="#fff" stroke="#000" stroke-width="2.5" stroke-linejoin="round"/><line x1="1860" y1="1080.32" x2="1895.7" y2="1080.32" stroke="#000" stroke-width="2.5"/><line x1="1860" y1="1115.54" x2="1895.7" y2="1115.54" stroke="#000" stroke-width="2.5"/><line x1="1860" y1="1150.76" x2="1895.7" y2="1150.76" stroke="#000" stroke-width="2.5"/><line x1="1860" y1="1185.98" x2="1895.7" y2="1185.98" stroke="#000" stroke-width="2.5"/><rect x="2026.8" y="934" width="320.1" height="326.4" fill="none" stroke="#000" stroke-width="4.2" stroke-dasharray="15.9 11.8" stroke-dashoffset="-2"/><text x="2045" y="971" font-family="'Liberation Sans',sans-serif" font-size="21.6" letter-spacing="0.55" fill="#111">Downward Shift</text><text x="2104.8" y="1012.2" font-family="'Liberation Serif','DejaVu Serif',serif" font-size="25.0" fill="#000"><tspan font-style="italic">u</tspan><tspan font-size="17" dy="5.2">2</tspan><tspan dy="-5.2" dx="6.5" font-size="30">=</tspan><tspan dx="6.5" font-size="1"> </tspan>[0,0, −2<tspan font-style="italic">ε</tspan>, <tspan font-style="italic">ε</tspan>, <tspan font-style="italic">ε</tspan>]<tspan font-size="11" dy="-11.5" dx="1.5" font-family="'DejaVu Sans',sans-serif">&#8868;</tspan></text><path d="M2100.7 1045.8 C2101.26 1049.36 2102.56 1059.56 2104.04 1067.14 C2105.52 1074.71 2107.44 1084.45 2109.61 1091.25 C2111.77 1098.06 2113.93 1103.47 2117.03 1107.95 C2120.12 1112.44 2124.45 1115.22 2128.16 1118.16 C2131.87 1121.09 2136.51 1123.54 2139.29 1125.58 C2142.07 1127.62 2143.68 1129.07 2144.86 1130.4 C2146.03 1131.73 2146.34 1132.44 2146.34 1133.56 C2146.34 1134.67 2146.03 1135.63 2144.86 1137.08 C2143.68 1138.53 2142.07 1140.33 2139.29 1142.27 C2136.51 1144.22 2131.71 1146.14 2128.16 1148.77 C2124.6 1151.4 2120.74 1154.03 2117.95 1158.04 C2115.17 1162.06 2113.47 1166.39 2111.46 1172.89 C2109.45 1179.38 2107.69 1189.06 2105.89 1197.01 C2104.1 1204.95 2101.57 1216.64 2100.7 1220.57 Z" fill="#f2f2f2" stroke="none"/><path d="M2100.7 1045.8 C2101.26 1049.36 2102.56 1059.56 2104.04 1067.14 C2105.52 1074.71 2107.44 1084.45 2109.61 1091.25 C2111.77 1098.06 2113.93 1103.47 2117.03 1107.95 C2120.12 1112.44 2124.45 1115.22 2128.16 1118.16 C2131.87 1121.09 2136.51 1123.54 2139.29 1125.58 C2142.07 1127.62 2143.68 1129.07 2144.86 1130.4 C2146.03 1131.73 2146.34 1132.44 2146.34 1133.56 C2146.34 1134.67 2146.03 1135.63 2144.86 1137.08 C2143.68 1138.53 2142.07 1140.33 2139.29 1142.27 C2136.51 1144.22 2131.71 1146.14 2128.16 1148.77 C2124.6 1151.4 2120.74 1154.03 2117.95 1158.04 C2115.17 1162.06 2113.47 1166.39 2111.46 1172.89 C2109.45 1179.38 2107.69 1189.06 2105.89 1197.01 C2104.1 1204.95 2101.57 1216.64 2100.7 1220.57" fill="none" stroke="#0e2a3b" stroke-width="1.5" stroke-linecap="round"/><rect x="2061.6" y="1045.1" width="35.7" height="176.1" fill="#fff" stroke="#000" stroke-width="2.5" stroke-linejoin="round"/><line x1="2061.6" y1="1080.32" x2="2097.3" y2="1080.32" stroke="#000" stroke-width="2.5"/><line x1="2061.6" y1="1115.54" x2="2097.3" y2="1115.54" stroke="#000" stroke-width="2.5"/><line x1="2061.6" y1="1150.76" x2="2097.3" y2="1150.76" stroke="#000" stroke-width="2.5"/><line x1="2061.6" y1="1185.98" x2="2097.3" y2="1185.98" stroke="#000" stroke-width="2.5"/><path d="M2166.2 1133.0 H2207.9 M2199.6 1125.4 L2207.9 1133.0 L2199.6 1140.8" fill="none" stroke="#000" stroke-width="2.7" stroke-linecap="round" stroke-linejoin="round"/><path d="M2278.9 1045.8 C2279.61 1051.21 2281.68 1067.91 2283.17 1078.27 C2284.65 1088.63 2286.1 1099.29 2287.81 1107.95 C2289.51 1116.61 2291.36 1124.65 2293.37 1130.22 C2295.38 1135.78 2297.08 1138.26 2299.86 1141.35 C2302.65 1144.44 2306.7 1146.45 2310.07 1148.77 C2313.44 1151.09 2317.83 1153.56 2320.09 1155.26 C2322.34 1156.96 2322.87 1157.83 2323.61 1158.97 C2324.35 1160.12 2324.57 1161.04 2324.54 1162.13 C2324.51 1163.21 2324.17 1164.2 2323.43 1165.47 C2322.68 1166.73 2322.31 1167.72 2320.09 1169.73 C2317.86 1171.74 2313.9 1174.53 2310.07 1177.53 C2306.23 1180.52 2300.79 1183.86 2297.08 1187.73 C2293.37 1191.59 2290.84 1195.24 2287.81 1200.72 C2284.78 1206.19 2280.38 1217.26 2278.9 1220.57 Z" fill="#c6f0c9" stroke="none"/><path d="M2278.9 1045.8 C2279.61 1051.21 2281.68 1067.91 2283.17 1078.27 C2284.65 1088.63 2286.1 1099.29 2287.81 1107.95 C2289.51 1116.61 2291.36 1124.65 2293.37 1130.22 C2295.38 1135.78 2297.08 1138.26 2299.86 1141.35 C2302.65 1144.44 2306.7 1146.45 2310.07 1148.77 C2313.44 1151.09 2317.83 1153.56 2320.09 1155.26 C2322.34 1156.96 2322.87 1157.83 2323.61 1158.97 C2324.35 1160.12 2324.57 1161.04 2324.54 1162.13 C2324.51 1163.21 2324.17 1164.2 2323.43 1165.47 C2322.68 1166.73 2322.31 1167.72 2320.09 1169.73 C2317.86 1171.74 2313.9 1174.53 2310.07 1177.53 C2306.23 1180.52 2300.79 1183.86 2297.08 1187.73 C2293.37 1191.59 2290.84 1195.24 2287.81 1200.72 C2284.78 1206.19 2280.38 1217.26 2278.9 1220.57" fill="none" stroke="#0e2a3b" stroke-width="1.5" stroke-linecap="round"/><rect x="2239.7" y="1045.1" width="35.7" height="176.1" fill="#fff" stroke="#000" stroke-width="2.5" stroke-linejoin="round"/><line x1="2239.7" y1="1080.32" x2="2275.4" y2="1080.32" stroke="#000" stroke-width="2.5"/><line x1="2239.7" y1="1115.54" x2="2275.4" y2="1115.54" stroke="#000" stroke-width="2.5"/><line x1="2239.7" y1="1150.76" x2="2275.4" y2="1150.76" stroke="#000" stroke-width="2.5"/><line x1="2239.7" y1="1185.98" x2="2275.4" y2="1185.98" stroke="#000" stroke-width="2.5"/></svg>
<!-- p40_right -->
<div class="a" style="left:2477px;top:570.5px;width:967.5px;height:118.5px;background:#c3d5fd;border-radius:6px;"></div>
<div class="l" style="left:2477px;top:561.02px;width:967.5px;font-size:50.96px;line-height:132.5px;height:132.5px;text-align:center;"><b>Experimental Results</b></div>
<div class="l" style="left:2487px;top:686px;width:948px;font-size:42.46px;line-height:110.4px;height:110.4px;"><b>Single-Asset Intra-Day Trading</b></div>
<div class="a" style="left:2487px;top:801px;width:948px;height:2px;background:#000;"></div>
<div class="a" style="left:2487px;top:836.4px;width:948px;height:1.3px;background:#000;"></div>
<div class="l" style="left:2368.5px;top:795px;width:300px;font-size:19.9px;line-height:51.74px;height:51.74px;text-align:center;"><b>Asset</b></div>
<div class="l" style="left:2500.4px;top:795px;width:300px;font-size:19.9px;line-height:51.74px;height:51.74px;text-align:center;"><b>Method</b></div>
<div class="l" style="left:2673px;top:795px;width:300px;font-size:19.9px;line-height:51.74px;height:51.74px;text-align:center;"><b>Final Value ($)</b></div>
<div class="l" style="left:2853.9px;top:795px;width:300px;font-size:19.9px;line-height:51.74px;height:51.74px;text-align:center;"><b>Annualized Return (%)</b></div>
<div class="l" style="left:3030px;top:795px;width:300px;font-size:19.9px;line-height:51.74px;height:51.74px;text-align:center;"><b>Sharpe Ratio</b></div>
<div class="l" style="left:3189.7px;top:795px;width:300px;font-size:19.9px;line-height:51.74px;height:51.74px;text-align:center;"><b>Max Drawdown (%)</b></div>
<div class="l" style="left:2368.5px;top:868.01px;width:300px;font-size:19.9px;line-height:51.74px;height:51.74px;text-align:center;">META</div>
<div class="a" style="left:3114px;top:920.5px;width:131.8px;height:26.05px;background:#fdd5a5;"></div>
<div class="l" style="left:2500.4px;top:829.01px;width:300px;font-size:19.9px;line-height:51.74px;height:51.74px;text-align:center;">Momentum</div>
<div class="l" style="left:2673px;top:829.01px;width:300px;font-size:19.9px;line-height:51.74px;height:51.74px;text-align:center;"><span class="mth tn">96<span class="sp" style="width:.167em"></span>334</span></div>
<div class="l" style="left:2853.9px;top:829.01px;width:300px;font-size:19.9px;line-height:51.74px;height:51.74px;text-align:center;"><span class="mth tn">−7.3%</span></div>
<div class="l" style="left:3030px;top:829.01px;width:300px;font-size:19.9px;line-height:51.74px;height:51.74px;text-align:center;"><span class="mth tn">−0.95</span></div>
<div class="l" style="left:3189.7px;top:829.01px;width:300px;font-size:19.9px;line-height:51.74px;height:51.74px;text-align:center;"><span class="mth tn">−4.2%</span></div>
<div class="l" style="left:2500.4px;top:855.02px;width:300px;font-size:19.9px;line-height:51.74px;height:51.74px;text-align:center;">Non-Robust RL</div>
<div class="l" style="left:2673px;top:855.02px;width:300px;font-size:19.9px;line-height:51.74px;height:51.74px;text-align:center;"><span class="mth tn">120<span class="sp" style="width:.167em"></span>347</span></div>
<div class="l" style="left:2853.9px;top:855.02px;width:300px;font-size:19.9px;line-height:51.74px;height:51.74px;text-align:center;"><span class="mth tn">44.8%</span></div>
<div class="l" style="left:3030px;top:855.02px;width:300px;font-size:19.9px;line-height:51.74px;height:51.74px;text-align:center;"><span class="mth tn">1.74</span></div>
<div class="l" style="left:3189.7px;top:855.02px;width:300px;font-size:19.9px;line-height:51.74px;height:51.74px;text-align:center;"><span class="mth tn">−11.3%</span></div>
<div class="l" style="left:2500.4px;top:881px;width:300px;font-size:19.9px;line-height:51.74px;height:51.74px;text-align:center;">Robust RL (<span class="mth"><span class="el">ℓ</span><span class="ss" style="font-size:73%;top:0.22em;"><span class="m">p</span></span></span>-Ball)</div>
<div class="l" style="left:2673px;top:881px;width:300px;font-size:19.9px;line-height:51.74px;height:51.74px;text-align:center;"><span class="mth tn">97<span class="sp" style="width:.167em"></span>103</span></div>
<div class="l" style="left:2853.9px;top:881px;width:300px;font-size:19.9px;line-height:51.74px;height:51.74px;text-align:center;"><span class="mth tn">−5.7%</span></div>
<div class="l" style="left:3030px;top:881px;width:300px;font-size:19.9px;line-height:51.74px;height:51.74px;text-align:center;"><span class="mth tn">−0.28</span></div>
<div class="l" style="left:3189.7px;top:881px;width:300px;font-size:19.9px;line-height:51.74px;height:51.74px;text-align:center;"><span class="mth tn">−13.4%</span></div>
<div class="l" style="left:2500.4px;top:907.01px;width:300px;font-size:19.9px;line-height:51.74px;height:51.74px;text-align:center;">Robust RL (<span class="mth"><span class="el">ℓ</span><span class="ss" style="font-size:73%;top:0.22em;"><span class="m">p</span></span></span>-Ellipse)</div>
<div class="l" style="left:2673px;top:907.01px;width:300px;font-size:19.9px;line-height:51.74px;height:51.74px;text-align:center;"><span class="mth tn">138<span class="sp" style="width:.167em"></span>011</span></div>
<div class="l" style="left:2853.9px;top:907.01px;width:300px;font-size:19.9px;line-height:51.74px;height:51.74px;text-align:center;"><span class="mth tn">90.8%</span></div>
<div class="l" style="left:3030px;top:907.01px;width:300px;font-size:19.9px;line-height:51.74px;height:51.74px;text-align:center;"><span class="mth tn">2.48</span></div>
<div class="l" style="left:3189.7px;top:907.01px;width:300px;font-size:19.9px;line-height:51.74px;height:51.74px;text-align:center;"><span class="mth tn">−9.9%</span></div>
<div class="a" style="left:2487px;top:948.85px;width:948px;height:1.3px;background:#000;"></div>
<div class="l" style="left:2368.5px;top:981.01px;width:300px;font-size:19.9px;line-height:51.74px;height:51.74px;text-align:center;">MSFT</div>
<div class="a" style="left:3114px;top:1033.25px;width:131.8px;height:26.05px;background:#fdd5a5;"></div>
<div class="l" style="left:2500.4px;top:942.01px;width:300px;font-size:19.9px;line-height:51.74px;height:51.74px;text-align:center;">Momentum</div>
<div class="l" style="left:2673px;top:942.01px;width:300px;font-size:19.9px;line-height:51.74px;height:51.74px;text-align:center;"><span class="mth tn">105<span class="sp" style="width:.167em"></span>163</span></div>
<div class="l" style="left:2853.9px;top:942.01px;width:300px;font-size:19.9px;line-height:51.74px;height:51.74px;text-align:center;"><span class="mth tn">10.6%</span></div>
<div class="l" style="left:3030px;top:942.01px;width:300px;font-size:19.9px;line-height:51.74px;height:51.74px;text-align:center;"><span class="mth tn">1.10</span></div>
<div class="l" style="left:3189.7px;top:942.01px;width:300px;font-size:19.9px;line-height:51.74px;height:51.74px;text-align:center;"><span class="mth tn">−5.3%</span></div>
<div class="l" style="left:2500.4px;top:968.02px;width:300px;font-size:19.9px;line-height:51.74px;height:51.74px;text-align:center;">Non-Robust RL</div>
<div class="l" style="left:2673px;top:968.02px;width:300px;font-size:19.9px;line-height:51.74px;height:51.74px;text-align:center;"><span class="mth tn">87<span class="sp" style="width:.167em"></span>440</span></div>
<div class="l" style="left:2853.9px;top:968.02px;width:300px;font-size:19.9px;line-height:51.74px;height:51.74px;text-align:center;"><span class="mth tn">−23.5%</span></div>
<div class="l" style="left:3030px;top:968.02px;width:300px;font-size:19.9px;line-height:51.74px;height:51.74px;text-align:center;"><span class="mth tn">−1.75</span></div>
<div class="l" style="left:3189.7px;top:968.02px;width:300px;font-size:19.9px;line-height:51.74px;height:51.74px;text-align:center;"><span class="mth tn">−16.9%</span></div>
<div class="l" style="left:2500.4px;top:994px;width:300px;font-size:19.9px;line-height:51.74px;height:51.74px;text-align:center;">Robust RL (<span class="mth"><span class="el">ℓ</span><span class="ss" style="font-size:73%;top:0.22em;"><span class="m">p</span></span></span>-Ball)</div>
<div class="l" style="left:2673px;top:994px;width:300px;font-size:19.9px;line-height:51.74px;height:51.74px;text-align:center;"><span class="mth tn">92<span class="sp" style="width:.167em"></span>159</span></div>
<div class="l" style="left:2853.9px;top:994px;width:300px;font-size:19.9px;line-height:51.74px;height:51.74px;text-align:center;"><span class="mth tn">−15.1%</span></div>
<div class="l" style="left:3030px;top:994px;width:300px;font-size:19.9px;line-height:51.74px;height:51.74px;text-align:center;"><span class="mth tn">−0.82</span></div>
<div class="l" style="left:3189.7px;top:994px;width:300px;font-size:19.9px;line-height:51.74px;height:51.74px;text-align:center;"><span class="mth tn">−11.2%</span></div>
<div class="l" style="left:2500.4px;top:1020.01px;width:300px;font-size:19.9px;line-height:51.74px;height:51.74px;text-align:center;">Robust RL (<span class="mth"><span class="el">ℓ</span><span class="ss" style="font-size:73%;top:0.22em;"><span class="m">p</span></span></span>-Ellipse)</div>
<div class="l" style="left:2673px;top:1020.01px;width:300px;font-size:19.9px;line-height:51.74px;height:51.74px;text-align:center;"><span class="mth tn">111<span class="sp" style="width:.167em"></span>485</span></div>
<div class="l" style="left:2853.9px;top:1020.01px;width:300px;font-size:19.9px;line-height:51.74px;height:51.74px;text-align:center;"><span class="mth tn">24.4%</span></div>
<div class="l" style="left:3030px;top:1020.01px;width:300px;font-size:19.9px;line-height:51.74px;height:51.74px;text-align:center;"><span class="mth tn">1.20</span></div>
<div class="l" style="left:3189.7px;top:1020.01px;width:300px;font-size:19.9px;line-height:51.74px;height:51.74px;text-align:center;"><span class="mth tn">−10.1%</span></div>
<div class="a" style="left:2487px;top:1061.6px;width:948px;height:1.3px;background:#000;"></div>
<div class="l" style="left:2368.5px;top:1094.01px;width:300px;font-size:19.9px;line-height:51.74px;height:51.74px;text-align:center;">SPY</div>
<div class="a" style="left:3114px;top:1146px;width:131.8px;height:26.05px;background:#fdd5a5;"></div>
<div class="l" style="left:2500.4px;top:1055.01px;width:300px;font-size:19.9px;line-height:51.74px;height:51.74px;text-align:center;">Momentum</div>
<div class="l" style="left:2673px;top:1055.01px;width:300px;font-size:19.9px;line-height:51.74px;height:51.74px;text-align:center;"><span class="mth tn">107<span class="sp" style="width:.167em"></span>333</span></div>
<div class="l" style="left:2853.9px;top:1055.01px;width:300px;font-size:19.9px;line-height:51.74px;height:51.74px;text-align:center;"><span class="mth tn">15.2%</span></div>
<div class="l" style="left:3030px;top:1055.01px;width:300px;font-size:19.9px;line-height:51.74px;height:51.74px;text-align:center;"><span class="mth tn">1.69</span></div>
<div class="l" style="left:3189.7px;top:1055.01px;width:300px;font-size:19.9px;line-height:51.74px;height:51.74px;text-align:center;"><span class="mth tn">−3.2%</span></div>
<div class="l" style="left:2500.4px;top:1081.02px;width:300px;font-size:19.9px;line-height:51.74px;height:51.74px;text-align:center;">Non-Robust RL</div>
<div class="l" style="left:2673px;top:1081.02px;width:300px;font-size:19.9px;line-height:51.74px;height:51.74px;text-align:center;"><span class="mth tn">91<span class="sp" style="width:.167em"></span>947</span></div>
<div class="l" style="left:2853.9px;top:1081.02px;width:300px;font-size:19.9px;line-height:51.74px;height:51.74px;text-align:center;"><span class="mth tn">−15.5%</span></div>
<div class="l" style="left:3030px;top:1081.02px;width:300px;font-size:19.9px;line-height:51.74px;height:51.74px;text-align:center;"><span class="mth tn">−1.64</span></div>
<div class="l" style="left:3189.7px;top:1081.02px;width:300px;font-size:19.9px;line-height:51.74px;height:51.74px;text-align:center;"><span class="mth tn">−11.9%</span></div>
<div class="l" style="left:2500.4px;top:1107px;width:300px;font-size:19.9px;line-height:51.74px;height:51.74px;text-align:center;">Robust RL (<span class="mth"><span class="el">ℓ</span><span class="ss" style="font-size:73%;top:0.22em;"><span class="m">p</span></span></span>-Ball)</div>
<div class="l" style="left:2673px;top:1107px;width:300px;font-size:19.9px;line-height:51.74px;height:51.74px;text-align:center;"><span class="mth tn">100<span class="sp" style="width:.167em"></span>560</span></div>
<div class="l" style="left:2853.9px;top:1107px;width:300px;font-size:19.9px;line-height:51.74px;height:51.74px;text-align:center;"><span class="mth tn">1.1%</span></div>
<div class="l" style="left:3030px;top:1107px;width:300px;font-size:19.9px;line-height:51.74px;height:51.74px;text-align:center;"><span class="mth tn">0.17</span></div>
<div class="l" style="left:3189.7px;top:1107px;width:300px;font-size:19.9px;line-height:51.74px;height:51.74px;text-align:center;"><span class="mth tn">−6.4%</span></div>
<div class="l" style="left:2500.4px;top:1133.01px;width:300px;font-size:19.9px;line-height:51.74px;height:51.74px;text-align:center;">Robust RL (<span class="mth"><span class="el">ℓ</span><span class="ss" style="font-size:73%;top:0.22em;"><span class="m">p</span></span></span>-Ellipse)</div>
<div class="l" style="left:2673px;top:1133.01px;width:300px;font-size:19.9px;line-height:51.74px;height:51.74px;text-align:center;"><span class="mth tn">109<span class="sp" style="width:.167em"></span>272</span></div>
<div class="l" style="left:2853.9px;top:1133.01px;width:300px;font-size:19.9px;line-height:51.74px;height:51.74px;text-align:center;"><span class="mth tn">19.4%</span></div>
<div class="l" style="left:3030px;top:1133.01px;width:300px;font-size:19.9px;line-height:51.74px;height:51.74px;text-align:center;"><span class="mth tn">1.60</span></div>
<div class="l" style="left:3189.7px;top:1133.01px;width:300px;font-size:19.9px;line-height:51.74px;height:51.74px;text-align:center;"><span class="mth tn">−5.8%</span></div>
<div class="a" style="left:2487px;top:1174px;width:948px;height:2px;background:#000;"></div>
<div class="l" style="left:2487px;top:1168px;width:948px;font-size:29.49px;line-height:76.68px;height:76.68px;word-spacing:5.172px;"><span class="jl">Table 1:<span class="sp" style="width:0.25em"></span> Comparison among selected assets for different approaches</span></div>
<div class="l" style="left:2487px;top:1205px;width:948px;font-size:29.49px;line-height:76.68px;height:76.68px;">from June 9 to December 9, 2022.</div>
<div class="l" style="left:2487px;top:1653.01px;width:948px;font-size:29.49px;line-height:76.68px;height:76.68px;word-spacing:4.609px;"><span class="jl">Figure 3:<span class="sp" style="width:0.25em"></span> Performance comparison of trading strategies on the META</span></div>
<div class="l" style="left:2487px;top:1690.01px;width:940.6px;font-size:29.49px;line-height:76.68px;height:76.68px;word-spacing:-0.303px;"><span class="jl">stock from June 9 to December 9, 2022, under simulated market impact.</span></div>
<div class="l" style="left:2477px;top:1750.01px;width:60px;font-size:46.72px;line-height:121.48px;height:121.48px;"><span class="ck">&#10003;</span></div>
<div class="l" style="left:2518.5px;top:1765.02px;width:916px;font-size:35.4px;line-height:92.03px;height:92.03px;word-spacing:-1.201px;"><span class="jl"><b>Overall Performance:</b> Best Sharpe ratio among all assets.</span></div>
<div class="l" style="left:2477px;top:1806.01px;width:60px;font-size:46.72px;line-height:121.48px;height:121.48px;"><span class="ck">&#10003;</span></div>
<div class="l" style="left:2518.5px;top:1821.02px;width:948px;font-size:35.4px;line-height:92.03px;height:92.03px;"><b>Max Drawdown:</b> Less drawdown due to robustness.</div>
<div class="a" style="left:2487px;top:1936.85px;width:948px;height:1.5px;background:#7f7f7f;"></div>
<div class="l" style="left:2487px;top:1950px;width:948px;font-size:42.46px;line-height:110.4px;height:110.4px;"><b>Multi-Asset Portfolio Allocation</b></div>
<div class="l" style="left:2487px;top:2272.01px;width:948px;font-size:29.49px;line-height:76.68px;height:76.68px;text-align:center;">Figure 4: Normalized portfolio values under increasing trading volumes.</div>
<div class="l" style="left:2477px;top:2333px;width:60px;font-size:46.72px;line-height:121.48px;height:121.48px;"><span class="ck">&#10003;</span></div>
<div class="l" style="left:2518.5px;top:2348.01px;width:948px;font-size:35.4px;line-height:92.03px;height:92.03px;"><b>Overall Performance:</b> Consistently better returns.</div>
<div class="l" style="left:2477px;top:2389px;width:60px;font-size:46.72px;line-height:121.48px;height:121.48px;"><span class="ck">&#10003;</span></div>
<div class="l" style="left:2518.5px;top:2404.01px;width:948px;font-size:35.4px;line-height:92.03px;height:92.03px;"><b>Robustness:</b> Less affected by increasing volumes.</div>
<div class="a" style="left:2487px;top:2518.55px;width:948px;height:1.5px;background:#7f7f7f;"></div>
<div class="l" style="left:3116px;top:2791.01px;width:400px;font-size:24.58px;line-height:63.9px;height:63.9px;text-align:center;">Codes Available!</div>
<!-- p41_fig3 -->
<svg class="f3" style="left:0;top:0" width="3600" height="2880" viewBox="0 0 3600 2880" font-family="'Liberation Sans',sans-serif" fill="#262626"><line x1="2612.5" y1="1270.0" x2="2612.5" y2="1556.8" stroke="#d0d0d0" stroke-width="1" stroke-dasharray="3.5 2.2"/><line x1="2699.35" y1="1270.0" x2="2699.35" y2="1556.8" stroke="#d0d0d0" stroke-width="1" stroke-dasharray="3.5 2.2"/><line x1="2786.2" y1="1270.0" x2="2786.2" y2="1556.8" stroke="#d0d0d0" stroke-width="1" stroke-dasharray="3.5 2.2"/><line x1="2873.05" y1="1270.0" x2="2873.05" y2="1556.8" stroke="#d0d0d0" stroke-width="1" stroke-dasharray="3.5 2.2"/><text x="2560.6" y="1561.3" text-anchor="end" font-size="14.9">90000</text><line x1="2569.5" y1="1504.1" x2="2916.6" y2="1504.1" stroke="#d0d0d0" stroke-width="1" stroke-dasharray="3.5 2.2"/><text x="2560.6" y="1509.3" text-anchor="end" font-size="14.9">100000</text><line x1="2569.5" y1="1452.1" x2="2916.6" y2="1452.1" stroke="#d0d0d0" stroke-width="1" stroke-dasharray="3.5 2.2"/><text x="2560.6" y="1457.3" text-anchor="end" font-size="14.9">110000</text><line x1="2569.5" y1="1400.1" x2="2916.6" y2="1400.1" stroke="#d0d0d0" stroke-width="1" stroke-dasharray="3.5 2.2"/><text x="2560.6" y="1405.3" text-anchor="end" font-size="14.9">120000</text><line x1="2569.5" y1="1348.1" x2="2916.6" y2="1348.1" stroke="#d0d0d0" stroke-width="1" stroke-dasharray="3.5 2.2"/><text x="2560.6" y="1353.3" text-anchor="end" font-size="14.9">130000</text><line x1="2569.5" y1="1296.1" x2="2916.6" y2="1296.1" stroke="#d0d0d0" stroke-width="1" stroke-dasharray="3.5 2.2"/><text x="2560.6" y="1301.3" text-anchor="end" font-size="14.9">140000</text><rect x="2569.5" y="1270.0" width="347.1" height="286.8" fill="none" stroke="#cfcfcf" stroke-width="1.2"/><circle cx="2612.5" cy="1523.9" r="17.2" fill="#2ca02c" fill-opacity="0.8"/><circle cx="2699.35" cy="1393.6" r="17.2" fill="#2ca02c" fill-opacity="0.8"/><circle cx="2786.2" cy="1513.3" r="17.2" fill="#2ca02c" fill-opacity="0.8"/><circle cx="2873.05" cy="1302.7" r="17.2" fill="#2ca02c" fill-opacity="0.8"/><circle cx="2612.5" cy="1495.7" r="17.2" fill="#d62728" fill-opacity="0.8"/><circle cx="2699.35" cy="1398.5" r="17.2" fill="#d62728" fill-opacity="0.8"/><circle cx="2786.2" cy="1513.9" r="17.2" fill="#d62728" fill-opacity="0.8"/><circle cx="2873.05" cy="1306.1" r="17.2" fill="#d62728" fill-opacity="0.8"/><line x1="2612.5" y1="1495.7" x2="2612.5" y2="1523.9" stroke="#000" stroke-opacity="0.22" stroke-width="3.6" stroke-linecap="round"/><line x1="2699.35" y1="1393.6" x2="2699.35" y2="1398.5" stroke="#000" stroke-opacity="0.22" stroke-width="3.6" stroke-linecap="round"/><line x1="2786.2" y1="1513.1" x2="2786.2" y2="1514.7" stroke="#000" stroke-opacity="0.22" stroke-width="3.6" stroke-linecap="round"/><line x1="2873.05" y1="1302.7" x2="2873.05" y2="1306.1" stroke="#000" stroke-opacity="0.22" stroke-width="3.6" stroke-linecap="round"/><text transform="translate(2504.3 1413.2) rotate(-90)" text-anchor="middle" font-size="15">Final Portfolio Value</text><text transform="translate(2612 1575.6) rotate(-30)" text-anchor="end" font-size="15.6">Momentum</text><text transform="translate(2698.85 1575.6) rotate(-30)" text-anchor="end" font-size="15.6">Non-Robust RL</text><text transform="translate(2785.7 1575.6) rotate(-30)" text-anchor="end" font-size="15.6">Robust RL (ℓ<tspan font-size="70%" dy="2.5" font-style="italic">p</tspan><tspan dy="-2.5">-Ball)</tspan></text><text transform="translate(2872.55 1575.6) rotate(-30)" text-anchor="end" font-size="15.6">Robust RL (ℓ<tspan font-size="70%" dy="2.5" font-style="italic">p</tspan><tspan dy="-2.5">-Ellipse)</tspan></text><line x1="3031.2" y1="1270.0" x2="3031.2" y2="1556.8" stroke="#d4d4d4" stroke-width="1"/><line x1="3106.88" y1="1270.0" x2="3106.88" y2="1556.8" stroke="#d4d4d4" stroke-width="1"/><line x1="3182.56" y1="1270.0" x2="3182.56" y2="1556.8" stroke="#d4d4d4" stroke-width="1"/><line x1="3258.24" y1="1270.0" x2="3258.24" y2="1556.8" stroke="#d4d4d4" stroke-width="1"/><line x1="3333.92" y1="1270.0" x2="3333.92" y2="1556.8" stroke="#d4d4d4" stroke-width="1"/><line x1="3409.6" y1="1270.0" x2="3409.6" y2="1556.8" stroke="#d4d4d4" stroke-width="1"/><line x1="3012.4" y1="1524.86" x2="3428.6" y2="1524.86" stroke="#d4d4d4" stroke-width="1"/><text x="3004.2" y="1530.06" text-anchor="end" font-size="14.9">60000</text><line x1="3012.4" y1="1468.18" x2="3428.6" y2="1468.18" stroke="#d4d4d4" stroke-width="1"/><text x="3004.2" y="1473.38" text-anchor="end" font-size="14.9">80000</text><line x1="3012.4" y1="1411.5" x2="3428.6" y2="1411.5" stroke="#d4d4d4" stroke-width="1"/><text x="3004.2" y="1416.7" text-anchor="end" font-size="14.9">100000</text><line x1="3012.4" y1="1354.82" x2="3428.6" y2="1354.82" stroke="#d4d4d4" stroke-width="1"/><text x="3004.2" y="1360.02" text-anchor="end" font-size="14.9">120000</text><line x1="3012.4" y1="1298.14" x2="3428.6" y2="1298.14" stroke="#d4d4d4" stroke-width="1"/><text x="3004.2" y="1303.34" text-anchor="end" font-size="14.9">140000</text><rect x="3012.4" y="1270.0" width="416.2" height="286.8" fill="none" stroke="#cfcfcf" stroke-width="1.2"/><path d="M3031.17 1410.7 L3033.1 1412.1 L3037.92 1421.11 L3045.16 1424.79 L3057.22 1420.39 L3066.86 1432.78 L3074.1 1431.61 L3081.33 1439.73 L3093.39 1434.4 L3103.04 1437.29 L3108.35 1436.62 L3117.51 1433.47 L3127.16 1433.58 L3134.39 1433.91 L3139.22 1433.16 L3144.04 1444.82 L3151.28 1434.24 L3159 1428.02 L3168.16 1441.03 L3177.81 1430.89 L3182.63 1429.03 L3188.66 1432.27 L3193.49 1436.58 L3199.51 1445.22 L3204.34 1434.83 L3211.57 1433.23 L3220.02 1422.68 L3228.46 1423.58 L3235.69 1414.45 L3244.13 1417.06 L3250.16 1403.72 L3254.99 1402.9 L3259.81 1411.34 L3264.63 1408.03 L3270.66 1402.3 L3279.11 1412.61 L3288.75 1409.39 L3293.58 1407.65 L3300.81 1405.11 L3309.25 1397.74 L3316.49 1397.27 L3320.11 1392.87 L3325.41 1402.81 L3332.17 1407.24 L3339.4 1403.81 L3346.64 1404.41 L3351.46 1399.89 L3356.28 1413.57 L3361.11 1410.32 L3364.73 1382.52 L3368.34 1374.32 L3373.17 1365.61 L3377.99 1358.07 L3382.82 1359.63 L3392.46 1354.7 L3399.7 1356.72 L3409.59 1353.52" fill="none" stroke="#1f77b4" stroke-opacity="0.5" stroke-width="0.9" stroke-dasharray="3.4 1.6" stroke-linejoin="round"/><path d="M3031.17 1411.46 L3057.22 1412.91 L3081.33 1410.02 L3093.39 1413.24 L3100.63 1408.43 L3103.04 1415.02 L3110.28 1407.54 L3117.51 1409.23 L3129.57 1407.42 L3141.63 1407.48 L3148.87 1406.66 L3153.69 1412.98 L3163.34 1406.88 L3172.98 1407.65 L3180.22 1405.23 L3185.04 1405.49 L3189.38 1395.94 L3194.69 1404.13 L3209.16 1401.02 L3216.4 1401.38 L3223.63 1397.14 L3233.28 1404.61 L3250.16 1401.55 L3262.22 1403.9 L3274.28 1402.38 L3293.58 1406.36 L3300.81 1398.27 L3308.05 1399.37 L3315.28 1395.61 L3320.11 1404.29 L3327.34 1403.81 L3336.99 1408.45 L3346.64 1403.81 L3353.87 1403.75 L3361.11 1395.73 L3370.76 1406.36 L3380.4 1402.65 L3390.05 1405.24 L3399.7 1404.2 L3409.59 1406.48" fill="none" stroke="#ff7f0e" stroke-opacity="0.5" stroke-width="0.9" stroke-dasharray="3.4 1.6" stroke-linejoin="round"/><path d="M3031.17 1412.12 L3033.1 1412.66 L3037.92 1401.86 L3047.57 1408.73 L3057.22 1412.26 L3066.86 1403.4 L3074.1 1402.82 L3081.33 1401.13 L3090.98 1401.35 L3100.63 1401.38 L3107.86 1397.9 L3115.1 1401.08 L3122.34 1402.27 L3131.98 1408.99 L3144.04 1401.64 L3153.69 1409.11 L3158.51 1408.18 L3168.16 1406.57 L3177.81 1406.56 L3187.46 1412.73 L3197.1 1409.41 L3204.34 1418.1 L3209.16 1416.41 L3213.99 1417.88 L3221.22 1410.66 L3229.66 1410.81 L3238.1 1406.09 L3247.75 1414.32 L3254.99 1408.21 L3261.02 1415.18 L3271.87 1409.78 L3283.93 1411.14 L3291.16 1406.79 L3298.4 1414.7 L3310.46 1409.58 L3322.52 1413.61 L3334.58 1410.72 L3346.64 1412.15 L3356.28 1412.63 L3360.63 1405.35 L3364.73 1425.05 L3370.76 1437.95 L3375.58 1426.41 L3380.4 1430.86 L3390.05 1422.72 L3397.29 1422.39 L3409.59 1419.5" fill="none" stroke="#2ca02c" stroke-opacity="0.5" stroke-width="0.9" stroke-dasharray="3.4 1.6" stroke-linejoin="round"/><path d="M3031.17 1415.05 L3033.1 1399.96 L3037.92 1408.56 L3042.74 1403.09 L3047.57 1397.52 L3057.22 1395.67 L3062.04 1401.55 L3068.07 1410.14 L3074.1 1409.66 L3082.54 1408.97 L3088.57 1414.44 L3095.81 1422.38 L3103.04 1424.19 L3107.86 1426.76 L3112.69 1419.77 L3119.92 1422.35 L3127.16 1404.71 L3134.39 1402.78 L3140.42 1400.65 L3144.04 1411.45 L3151.28 1401.07 L3159 1393.5 L3168.16 1408.15 L3175.4 1401.67 L3180.22 1396.76 L3187.46 1400.3 L3193.49 1401.96 L3199.51 1422.08 L3204.34 1395.73 L3209.16 1393.68 L3213.99 1391.08 L3221.22 1386.44 L3226.05 1384.29 L3230.87 1384.28 L3238.1 1381.88 L3244.13 1385.42 L3250.16 1373.56 L3254.99 1368.21 L3259.81 1380.03 L3264.63 1375.47 L3270.66 1370.67 L3274.28 1373.56 L3280.31 1374.42 L3289.96 1376.21 L3293.58 1366.92 L3300.81 1370.61 L3309.25 1351.01 L3315.28 1358.17 L3320.11 1347.39 L3324.93 1361.09 L3334.58 1365.14 L3343.02 1361 L3350.26 1352.48 L3355.8 1371.86 L3360.63 1371.04 L3364.73 1331.57 L3368.34 1330.43 L3375.58 1303.17 L3381.61 1304.14 L3387.64 1293.04 L3391.26 1285.32 L3396.08 1287.13 L3400.9 1296.25 L3409.59 1301.77" fill="none" stroke="#d62728" stroke-opacity="0.5" stroke-width="0.9" stroke-dasharray="3.4 1.6" stroke-linejoin="round"/><path d="M3031.17 1429.91 L3033.1 1405.95 L3037.92 1417.4 L3045.16 1424.45 L3052.39 1423.78 L3057.22 1416.58 L3063.25 1406.51 L3071.69 1411.15 L3076.51 1406.93 L3081.33 1401.38 L3088.57 1393.4 L3095.81 1389.84 L3103.04 1386.33 L3107.86 1394.21 L3113.89 1392.15 L3119.92 1404.23 L3124.75 1409.66 L3129.57 1417.81 L3134.39 1417.45 L3139.22 1408.4 L3146.45 1418.12 L3153.69 1430.18 L3163.34 1410.33 L3170.57 1423.97 L3175.4 1421.96 L3182.63 1425.05 L3189.38 1411.17 L3193.49 1406.83 L3198.31 1421.06 L3204.34 1433.6 L3213.99 1442.11 L3220.02 1441.05 L3229.66 1449.73 L3236.9 1452.07 L3245.34 1460.21 L3250.16 1467.52 L3254.99 1451.98 L3264.63 1467.84 L3274.28 1455.9 L3283.93 1458.25 L3289.96 1463.44 L3295.99 1465.49 L3303.22 1474.93 L3310.46 1474.43 L3315.28 1480.01 L3321.31 1472.6 L3329.75 1466.16 L3336.99 1470.78 L3345.43 1476.34 L3351.46 1463.61 L3356.28 1458.84 L3361.11 1508.17 L3364.73 1506.79 L3370.76 1530.13 L3375.58 1527.17 L3381.61 1537.72 L3386.43 1538.66 L3390.05 1543.48 L3396.08 1531.96 L3400.9 1535.75 L3409.59 1525.09" fill="none" stroke="#9467bd" stroke-opacity="0.5" stroke-width="0.9" stroke-dasharray="3.4 1.6" stroke-linejoin="round"/><path d="M3031.17 1411.46 L3036.47 1413.15 L3041.3 1420.39 L3048.53 1422.8 L3060.59 1424.01 L3070.24 1430.04 L3077.48 1433.17 L3084.71 1436.55 L3096.77 1436.06 L3106.42 1436.06 L3111.72 1436.55 L3120.89 1433.65 L3130.54 1434.38 L3137.77 1433.65 L3142.6 1435.58 L3147.42 1439.68 L3154.65 1435.58 L3162.37 1431.24 L3171.54 1437.27 L3181.18 1431.72 L3186.01 1431.24 L3192.04 1432.45 L3196.86 1437.27 L3202.89 1440.41 L3207.72 1436.06 L3214.95 1431.24 L3223.39 1425.21 L3231.83 1421.59 L3239.07 1416.77 L3247.51 1413.88 L3253.54 1407.12 L3258.36 1404.71 L3263.19 1409.53 L3268.01 1407.12 L3274.04 1405.92 L3282.48 1409.53 L3292.13 1409.53 L3296.95 1406.64 L3304.19 1404.71 L3312.63 1398.68 L3319.87 1397.96 L3323.48 1395.55 L3328.79 1402.3 L3335.54 1404.71 L3342.78 1404.71 L3350.01 1403.5 L3354.84 1403.5 L3359.66 1408.33 L3364.49 1404.71 L3368.1 1385.42 L3371.72 1375.77 L3376.54 1366.12 L3381.37 1360.82 L3386.19 1358.4 L3395.84 1356.47 L3403.07 1355.27 L3409.59 1354.06" fill="none" stroke="#1f77b4" stroke-width="2" stroke-linejoin="round" stroke-linecap="round"/><path d="M3031.17 1411.46 L3060.59 1411.46 L3084.71 1411.46 L3096.77 1411.46 L3104.01 1410.74 L3106.42 1411.95 L3113.65 1409.53 L3120.89 1408.33 L3132.95 1408.33 L3145.01 1407.12 L3152.24 1408.33 L3157.07 1410.02 L3166.71 1408.33 L3176.36 1406.64 L3183.6 1405.92 L3188.42 1403.5 L3192.76 1399.89 L3198.07 1401.82 L3212.54 1401.82 L3219.77 1400.37 L3227.01 1399.89 L3236.66 1402.3 L3253.54 1402.78 L3265.6 1402.78 L3277.66 1403.5 L3296.95 1403.5 L3304.19 1400.37 L3311.42 1398.68 L3318.66 1398.68 L3323.48 1402.3 L3330.72 1404.71 L3340.37 1405.92 L3350.01 1404.71 L3357.25 1402.3 L3364.49 1399.89 L3374.13 1403.5 L3383.78 1403.99 L3393.43 1404.23 L3403.07 1405.43 L3409.59 1406.16" fill="none" stroke="#ff7f0e" stroke-width="2" stroke-linejoin="round" stroke-linecap="round"/><path d="M3031.17 1411.46 L3036.47 1410.02 L3041.3 1405.92 L3050.94 1407.61 L3060.59 1410.02 L3070.24 1404.23 L3077.48 1403.5 L3084.71 1401.09 L3094.36 1401.82 L3104.01 1400.37 L3111.24 1399.89 L3118.48 1400.61 L3125.71 1403.5 L3135.36 1405.92 L3147.42 1404.71 L3157.07 1407.12 L3161.89 1408.33 L3171.54 1406.64 L3181.18 1408.33 L3190.83 1410.74 L3200.48 1411.95 L3207.72 1415.56 L3212.54 1416.77 L3217.36 1415.56 L3224.6 1412.43 L3233.04 1410.02 L3241.48 1409.05 L3251.13 1411.46 L3258.36 1410.74 L3264.39 1412.43 L3275.25 1411.22 L3287.31 1410.02 L3294.54 1409.53 L3301.78 1411.95 L3313.84 1411.46 L3325.9 1411.95 L3337.95 1411.95 L3350.01 1411.46 L3359.66 1412.67 L3364 1410.74 L3368.1 1424.01 L3374.13 1431.72 L3378.96 1428.83 L3383.78 1428.11 L3393.43 1424.49 L3400.66 1421.59 L3409.59 1420.15" fill="none" stroke="#2ca02c" stroke-width="2" stroke-linejoin="round" stroke-linecap="round"/><path d="M3031.17 1411.46 L3036.47 1403.5 L3041.3 1406.64 L3046.12 1402.3 L3050.94 1399.4 L3060.59 1397.48 L3065.42 1402.78 L3071.45 1407.61 L3077.48 1410.02 L3085.92 1410.02 L3091.95 1415.56 L3099.18 1420.39 L3106.42 1424.01 L3111.24 1424.01 L3116.06 1421.11 L3123.3 1417.98 L3130.54 1408.33 L3137.77 1403.5 L3143.8 1403.5 L3147.42 1406.64 L3154.65 1402.3 L3162.37 1397.48 L3171.54 1404.71 L3178.77 1401.09 L3183.6 1399.4 L3190.83 1400.37 L3196.86 1404.71 L3202.89 1411.95 L3207.72 1399.89 L3212.54 1393.86 L3217.36 1391.45 L3224.6 1386.62 L3229.42 1385.42 L3234.25 1383.49 L3241.48 1383 L3247.51 1381.8 L3253.54 1375.77 L3258.36 1371.43 L3263.19 1377.46 L3268.01 1374.56 L3274.04 1372.87 L3277.66 1372.87 L3283.69 1374.56 L3293.34 1373.36 L3296.95 1369.02 L3304.19 1366.12 L3312.63 1356.47 L3318.66 1355.75 L3323.48 1352.86 L3328.31 1358.89 L3337.95 1363.23 L3346.4 1360.09 L3353.63 1358.16 L3359.18 1365.64 L3364 1362.5 L3368.1 1337.18 L3371.72 1327.53 L3378.96 1308.24 L3384.99 1303.41 L3391.02 1293.77 L3394.63 1288.94 L3399.46 1288.94 L3404.28 1296.18 L3409.59 1300.04" fill="none" stroke="#d62728" stroke-width="2" stroke-linejoin="round" stroke-linecap="round"/><path d="M3031.17 1424.49 L3036.47 1412.43 L3041.3 1417.98 L3048.53 1421.59 L3055.77 1422.08 L3060.59 1415.56 L3066.62 1410.02 L3075.06 1409.05 L3079.89 1406.64 L3084.71 1400.37 L3091.95 1395.06 L3099.18 1390.24 L3106.42 1389.52 L3111.24 1392.65 L3117.27 1395.55 L3123.3 1402.78 L3128.12 1410.02 L3132.95 1414.84 L3137.77 1416.29 L3142.6 1411.95 L3149.83 1418.7 L3157.07 1423.52 L3166.71 1416.77 L3173.95 1421.11 L3178.77 1422.32 L3186.01 1421.11 L3192.76 1414.36 L3196.86 1411.46 L3201.69 1422.08 L3207.72 1431.72 L3217.36 1440.41 L3223.39 1442.09 L3233.04 1449.33 L3240.27 1452.47 L3248.72 1459.7 L3253.54 1462.6 L3258.36 1457.77 L3268.01 1462.6 L3277.66 1458.98 L3287.31 1458.98 L3293.34 1463.8 L3299.37 1466.21 L3306.6 1473.45 L3313.84 1474.17 L3318.66 1477.55 L3324.69 1472.24 L3333.13 1469.35 L3340.37 1470.31 L3348.81 1473.45 L3354.84 1466.94 L3359.66 1471.04 L3364.49 1499.01 L3368.1 1509.87 L3374.13 1524.34 L3378.96 1529.16 L3384.99 1535.19 L3389.81 1538.81 L3393.43 1539.53 L3399.46 1534.71 L3404.28 1532.78 L3409.59 1527.47" fill="none" stroke="#9467bd" stroke-width="2" stroke-linejoin="round" stroke-linecap="round"/><rect x="3018.4" y="1275.9" width="163.3" height="95.5" rx="2.4" fill="#fff" fill-opacity="0.8" stroke="#d4d4d4" stroke-width="1"/><line x1="3022.5" y1="1285.5" x2="3048.5" y2="1285.5" stroke="#1f77b4" stroke-width="2"/><text x="3057.3" y="1290.1" font-size="12.1">Non-Robust RL</text><line x1="3022.5" y1="1302.9" x2="3048.5" y2="1302.9" stroke="#ff7f0e" stroke-width="2"/><text x="3057.3" y="1307.5" font-size="12.1">Momentum</text><line x1="3022.5" y1="1320.5" x2="3048.5" y2="1320.5" stroke="#2ca02c" stroke-width="2"/><text x="3057.3" y="1325.1" font-size="12.1">Robust RL (ℓ<tspan font-size="70%" dy="2.5" font-style="italic">p</tspan><tspan dy="-2.5">-Ball)</tspan></text><line x1="3022.5" y1="1340.5" x2="3048.5" y2="1340.5" stroke="#d62728" stroke-width="2"/><text x="3057.3" y="1345.1" font-size="12.1">Robust RL (ℓ<tspan font-size="70%" dy="2.5" font-style="italic">p</tspan><tspan dy="-2.5">-Ellipse)</tspan></text><line x1="3022.5" y1="1359.8" x2="3048.5" y2="1359.8" stroke="#9467bd" stroke-width="2"/><text x="3057.3" y="1364.4" font-size="12.1">META</text><text transform="translate(2946.6 1413.2) rotate(-90)" text-anchor="middle" font-size="15">Portfolio Value</text><text transform="translate(3030.2 1576) rotate(-30)" text-anchor="end" font-size="15.6">2022-06-09</text><text transform="translate(3105.88 1576) rotate(-30)" text-anchor="end" font-size="15.6">2022-07-15</text><text transform="translate(3181.56 1576) rotate(-30)" text-anchor="end" font-size="15.6">2022-08-21</text><text transform="translate(3257.24 1576) rotate(-30)" text-anchor="end" font-size="15.6">2022-09-26</text><text transform="translate(3332.92 1576) rotate(-30)" text-anchor="end" font-size="15.6">2022-11-02</text><text transform="translate(3408.6 1576) rotate(-30)" text-anchor="end" font-size="15.6">2022-12-09</text></svg>
<!-- p42_fig4 -->
<svg class="f4" style="left:0;top:0" width="3600" height="2880" viewBox="0 0 3600 2880" font-family="'Liberation Sans',sans-serif" fill="#262626"><line x1="2525.5" y1="2070.4" x2="2525.5" y2="2234.3" stroke="#ececec" stroke-width="0.7" stroke-dasharray="1.2 1.2"/><text x="2525.5" y="2245.3" text-anchor="middle" font-size="7.7">0</text><line x1="2564.5" y1="2070.4" x2="2564.5" y2="2234.3" stroke="#ececec" stroke-width="0.7" stroke-dasharray="1.2 1.2"/><text x="2564.5" y="2245.3" text-anchor="middle" font-size="7.7">20</text><line x1="2603.5" y1="2070.4" x2="2603.5" y2="2234.3" stroke="#ececec" stroke-width="0.7" stroke-dasharray="1.2 1.2"/><text x="2603.5" y="2245.3" text-anchor="middle" font-size="7.7">40</text><line x1="2642.5" y1="2070.4" x2="2642.5" y2="2234.3" stroke="#ececec" stroke-width="0.7" stroke-dasharray="1.2 1.2"/><text x="2642.5" y="2245.3" text-anchor="middle" font-size="7.7">60</text><line x1="2681.5" y1="2070.4" x2="2681.5" y2="2234.3" stroke="#ececec" stroke-width="0.7" stroke-dasharray="1.2 1.2"/><text x="2681.5" y="2245.3" text-anchor="middle" font-size="7.7">80</text><line x1="2720.5" y1="2070.4" x2="2720.5" y2="2234.3" stroke="#ececec" stroke-width="0.7" stroke-dasharray="1.2 1.2"/><text x="2720.5" y="2245.3" text-anchor="middle" font-size="7.7">100</text><text x="2511.4" y="2073.4" text-anchor="end" font-size="7.7">1.3</text><line x1="2516.4" y1="2091.31" x2="2724.3" y2="2091.31" stroke="#ececec" stroke-width="0.7" stroke-dasharray="1.2 1.2"/><text x="2511.4" y="2093.81" text-anchor="end" font-size="7.7">1.2</text><line x1="2516.4" y1="2111.72" x2="2724.3" y2="2111.72" stroke="#ececec" stroke-width="0.7" stroke-dasharray="1.2 1.2"/><text x="2511.4" y="2114.22" text-anchor="end" font-size="7.7">1.1</text><line x1="2516.4" y1="2132.13" x2="2724.3" y2="2132.13" stroke="#ececec" stroke-width="0.7" stroke-dasharray="1.2 1.2"/><text x="2511.4" y="2134.63" text-anchor="end" font-size="7.7">1.0</text><line x1="2516.4" y1="2152.54" x2="2724.3" y2="2152.54" stroke="#ececec" stroke-width="0.7" stroke-dasharray="1.2 1.2"/><text x="2511.4" y="2155.04" text-anchor="end" font-size="7.7">0.9</text><line x1="2516.4" y1="2172.95" x2="2724.3" y2="2172.95" stroke="#ececec" stroke-width="0.7" stroke-dasharray="1.2 1.2"/><text x="2511.4" y="2175.45" text-anchor="end" font-size="7.7">0.8</text><line x1="2516.4" y1="2193.36" x2="2724.3" y2="2193.36" stroke="#ececec" stroke-width="0.7" stroke-dasharray="1.2 1.2"/><text x="2511.4" y="2195.86" text-anchor="end" font-size="7.7">0.7</text><line x1="2516.4" y1="2213.77" x2="2724.3" y2="2213.77" stroke="#ececec" stroke-width="0.7" stroke-dasharray="1.2 1.2"/><text x="2511.4" y="2216.27" text-anchor="end" font-size="7.7">0.6</text><text x="2511.4" y="2236.68" text-anchor="end" font-size="7.7">0.5</text><rect x="2516.4" y="2070.4" width="207.9" height="163.9" fill="none" stroke="#dcdcdc" stroke-width="1"/><text x="2620.35" y="2068.0" text-anchor="middle" font-size="11.2">Initial Cash = $100,000</text><text x="2620.35" y="2254.6" text-anchor="middle" font-size="8.3">Timestep</text><path d="M2525.45 2131.63 L2529.86 2132.79 L2532.18 2136.27 L2535.66 2133.95 L2539.14 2128.85 L2541.46 2130.01 L2543.08 2133.49 L2544.94 2130.01 L2548.41 2134.65 L2551.89 2138.13 L2554.68 2143.92 L2557.69 2133.49 L2558.85 2136.97 L2560.71 2120.73 L2562.33 2121.89 L2564.65 2110.76 L2566.97 2107.98 L2569.29 2109.83 L2570.91 2113.78 L2572.76 2104.5 L2575.08 2092.9 L2577.87 2085.95 L2580.19 2098.7 L2583.2 2087.11 L2586.22 2095.22 L2589 2095.22 L2595.26 2093.6 L2619.15 2093.6 L2621.93 2095.92 L2628.42 2097.54 L2635.38 2098.7 L2646.98 2098.7 L2652.77 2100.56 L2655.56 2103.34 L2658.57 2099.86 L2662.05 2101.48 L2684.08 2102.18 L2688.72 2105.66 L2698 2104.5 L2703.79 2102.18 L2706.11 2110.3 L2708.43 2119.57 L2710.75 2109.14 L2715.39 2108.44" fill="none" stroke="#1f77b4" stroke-width="1.4" stroke-dasharray="4.2 1.8" stroke-linejoin="round"/><path d="M2525.45 2131.63 L2533.34 2132.79 L2540.3 2132.33 L2544.94 2134.65 L2549.57 2137.66 L2552.36 2138.13 L2554.68 2140.45 L2556.99 2132.33 L2558.85 2133.95 L2560.71 2121.89 L2562.33 2123.05 L2564.65 2118.41 L2566.97 2117.25 L2570.45 2123.75 L2572.76 2107.98 L2575.08 2094.06 L2577.87 2086.64 L2580.19 2099.17 L2583.2 2087.57 L2586.22 2094.53 L2589 2092.21 L2592.48 2088.27 L2595.49 2083.16 L2600.59 2083.63 L2628.42 2084.32 L2649.29 2084.79 L2652.77 2087.57 L2665.53 2087.57 L2688.72 2087.11 L2704.49 2087.11 L2707.27 2092.9 L2709.13 2093.37 L2710.75 2084.79 L2715.39 2084.32" fill="none" stroke="#d62728" stroke-width="1.4" stroke-dasharray="4.2 1.8" stroke-linejoin="round"/><path d="M2525.45 2131.63 L2529.86 2132.79 L2532.18 2136.27 L2535.66 2133.95 L2539.14 2128.85 L2541.46 2130.01 L2543.08 2133.49 L2544.94 2130.01 L2548.41 2134.65 L2551.89 2138.13 L2554.68 2143.92 L2557.69 2133.49 L2558.85 2136.97 L2560.71 2120.73 L2562.33 2121.89 L2564.65 2110.76 L2566.97 2107.98 L2569.29 2109.83 L2570.91 2113.78 L2572.76 2104.5 L2575.08 2092.9 L2577.87 2085.95 L2580.19 2098.7 L2583.2 2087.11 L2586.22 2095.22 L2589 2092.9 L2592.48 2092.21 L2595.26 2090.58 L2619.15 2090.58 L2621.93 2093.37 L2624.94 2092.44 L2628.42 2092.21 L2630.74 2094.06 L2635.38 2095.22 L2646.98 2095.22 L2649.29 2093.6 L2652.77 2096.38 L2655.56 2100.56 L2657.41 2094.06 L2659.73 2093.37 L2662.05 2098.7 L2684.08 2099.17 L2688.72 2102.88 L2692.2 2104.5 L2698 2102.18 L2702.63 2101.02 L2704.49 2098.24 L2706.11 2104.5 L2707.27 2112.62 L2709.13 2113.78 L2710.75 2103.8 L2715.39 2103.8" fill="none" stroke="#1f77b4" stroke-width="1.4" stroke-linejoin="round"/><path d="M2525.45 2131.63 L2533.34 2132.79 L2540.3 2132.33 L2544.94 2134.65 L2549.57 2137.66 L2552.36 2138.13 L2554.68 2140.45 L2556.99 2132.33 L2558.85 2133.95 L2560.71 2121.89 L2562.33 2123.05 L2564.65 2118.41 L2566.97 2117.25 L2570.45 2123.75 L2572.76 2107.98 L2575.08 2094.06 L2577.87 2086.64 L2580.19 2099.17 L2583.2 2087.57 L2586.22 2094.53 L2589 2092.21 L2591.32 2087.11 L2593.64 2086.64 L2595.49 2079.45 L2600.59 2079.68 L2609.87 2080.61 L2628.42 2080.61 L2649.29 2080.84 L2652.77 2084.09 L2658.57 2084.09 L2665.53 2083.86 L2688.72 2083.86 L2695.68 2083.16 L2704.49 2083.63 L2707.27 2089.42 L2709.13 2089.89 L2710.75 2080.15 L2715.39 2079.68" fill="none" stroke="#d62728" stroke-width="1.4" stroke-linejoin="round"/><line x1="2757.95" y1="2070.4" x2="2757.95" y2="2234.3" stroke="#ececec" stroke-width="0.7" stroke-dasharray="1.2 1.2"/><text x="2757.95" y="2245.3" text-anchor="middle" font-size="7.7">0</text><line x1="2796.95" y1="2070.4" x2="2796.95" y2="2234.3" stroke="#ececec" stroke-width="0.7" stroke-dasharray="1.2 1.2"/><text x="2796.95" y="2245.3" text-anchor="middle" font-size="7.7">20</text><line x1="2835.95" y1="2070.4" x2="2835.95" y2="2234.3" stroke="#ececec" stroke-width="0.7" stroke-dasharray="1.2 1.2"/><text x="2835.95" y="2245.3" text-anchor="middle" font-size="7.7">40</text><line x1="2874.95" y1="2070.4" x2="2874.95" y2="2234.3" stroke="#ececec" stroke-width="0.7" stroke-dasharray="1.2 1.2"/><text x="2874.95" y="2245.3" text-anchor="middle" font-size="7.7">60</text><line x1="2913.95" y1="2070.4" x2="2913.95" y2="2234.3" stroke="#ececec" stroke-width="0.7" stroke-dasharray="1.2 1.2"/><text x="2913.95" y="2245.3" text-anchor="middle" font-size="7.7">80</text><line x1="2952.95" y1="2070.4" x2="2952.95" y2="2234.3" stroke="#ececec" stroke-width="0.7" stroke-dasharray="1.2 1.2"/><text x="2952.95" y="2245.3" text-anchor="middle" font-size="7.7">100</text><text x="2743.85" y="2073.4" text-anchor="end" font-size="7.7">1.3</text><line x1="2748.85" y1="2091.31" x2="2956.75" y2="2091.31" stroke="#ececec" stroke-width="0.7" stroke-dasharray="1.2 1.2"/><text x="2743.85" y="2093.81" text-anchor="end" font-size="7.7">1.2</text><line x1="2748.85" y1="2111.72" x2="2956.75" y2="2111.72" stroke="#ececec" stroke-width="0.7" stroke-dasharray="1.2 1.2"/><text x="2743.85" y="2114.22" text-anchor="end" font-size="7.7">1.1</text><line x1="2748.85" y1="2132.13" x2="2956.75" y2="2132.13" stroke="#ececec" stroke-width="0.7" stroke-dasharray="1.2 1.2"/><text x="2743.85" y="2134.63" text-anchor="end" font-size="7.7">1.0</text><line x1="2748.85" y1="2152.54" x2="2956.75" y2="2152.54" stroke="#ececec" stroke-width="0.7" stroke-dasharray="1.2 1.2"/><text x="2743.85" y="2155.04" text-anchor="end" font-size="7.7">0.9</text><line x1="2748.85" y1="2172.95" x2="2956.75" y2="2172.95" stroke="#ececec" stroke-width="0.7" stroke-dasharray="1.2 1.2"/><text x="2743.85" y="2175.45" text-anchor="end" font-size="7.7">0.8</text><line x1="2748.85" y1="2193.36" x2="2956.75" y2="2193.36" stroke="#ececec" stroke-width="0.7" stroke-dasharray="1.2 1.2"/><text x="2743.85" y="2195.86" text-anchor="end" font-size="7.7">0.7</text><line x1="2748.85" y1="2213.77" x2="2956.75" y2="2213.77" stroke="#ececec" stroke-width="0.7" stroke-dasharray="1.2 1.2"/><text x="2743.85" y="2216.27" text-anchor="end" font-size="7.7">0.6</text><text x="2743.85" y="2236.68" text-anchor="end" font-size="7.7">0.5</text><rect x="2748.85" y="2070.4" width="207.9" height="163.9" fill="none" stroke="#dcdcdc" stroke-width="1"/><text x="2852.8" y="2068.0" text-anchor="middle" font-size="11.2">Initial Cash = $1,000,000</text><text x="2852.8" y="2254.6" text-anchor="middle" font-size="8.3">Timestep</text><path d="M2757.83 2131.63 L2760.61 2134.65 L2762.93 2141.6 L2766.41 2142.76 L2769.89 2140.45 L2773.37 2138.13 L2775.69 2142.76 L2779.17 2139.29 L2782.64 2147.4 L2784.96 2145.08 L2787.28 2153.2 L2789.6 2142.76 L2790.76 2147.4 L2793.08 2128.85 L2794.7 2130.01 L2796.56 2120.73 L2800.04 2119.57 L2802.82 2127.69 L2804.68 2119.57 L2807.46 2112.62 L2810.47 2109.14 L2812.79 2120.73 L2815.58 2110.76 L2818.59 2118.41 L2822.07 2116.79 L2827.87 2114.94 L2832.5 2114.47 L2848.74 2114.94 L2853.38 2118.41 L2862.65 2119.57 L2869.61 2121.43 L2881.21 2120.73 L2885.84 2125.37 L2889.32 2126.53 L2892.34 2118.88 L2895.12 2131.63 L2909.04 2131.63 L2913.67 2133.49 L2920.63 2138.59 L2925.27 2139.29 L2929.91 2136.97 L2933.39 2136.97 L2935.71 2145.08 L2938.02 2148.56 L2941.5 2163.17 L2943.82 2153.2 L2947.3 2152.74" fill="none" stroke="#1f77b4" stroke-width="1.4" stroke-dasharray="4.2 1.8" stroke-linejoin="round"/><path d="M2757.83 2131.63 L2767.57 2134.65 L2776.85 2136.97 L2783.8 2142.76 L2787.28 2147.4 L2789.6 2135.81 L2793.08 2133.49 L2797.72 2130.01 L2801.2 2131.17 L2802.82 2135.81 L2804.68 2119.57 L2807.46 2105.66 L2810.47 2099.86 L2812.79 2111.46 L2815.58 2101.48 L2818.59 2106.82 L2822.07 2104.5 L2824.39 2099.86 L2826.71 2105.66 L2827.87 2100.56 L2837.14 2101.72 L2860.33 2102.64 L2882.37 2102.88 L2885.84 2106.35 L2897.44 2106.35 L2920.63 2106.12 L2935.71 2105.66 L2939.18 2106.12 L2947.3 2106.12" fill="none" stroke="#d62728" stroke-width="1.4" stroke-dasharray="4.2 1.8" stroke-linejoin="round"/><path d="M2757.9 2131.63 L2762.31 2132.79 L2764.62 2136.27 L2768.1 2133.95 L2771.58 2128.85 L2773.9 2130.01 L2775.52 2133.49 L2777.38 2130.01 L2780.86 2134.65 L2784.34 2138.13 L2787.12 2143.92 L2790.13 2133.49 L2791.29 2136.97 L2793.15 2120.73 L2794.77 2121.89 L2797.09 2110.76 L2799.41 2107.98 L2801.73 2109.83 L2803.35 2113.78 L2805.21 2104.5 L2807.53 2092.9 L2810.31 2085.95 L2812.63 2098.7 L2815.64 2087.11 L2818.66 2095.22 L2821.44 2092.9 L2824.92 2092.21 L2827.7 2090.58 L2851.59 2090.58 L2854.37 2093.37 L2857.39 2092.44 L2860.87 2092.21 L2863.19 2094.06 L2867.82 2095.22 L2879.42 2095.22 L2881.74 2093.6 L2885.22 2096.38 L2888 2100.56 L2889.86 2094.06 L2892.18 2093.37 L2894.49 2098.7 L2916.53 2099.17 L2921.16 2102.88 L2924.64 2104.5 L2930.44 2102.18 L2935.08 2101.02 L2936.93 2098.24 L2938.56 2104.5 L2939.72 2112.62 L2941.57 2113.78 L2943.2 2103.8 L2947.83 2103.8" fill="none" stroke="#1f77b4" stroke-width="1.4" stroke-linejoin="round"/><path d="M2757.9 2131.63 L2765.78 2132.79 L2772.74 2132.33 L2777.38 2134.65 L2782.02 2137.66 L2784.8 2138.13 L2787.12 2140.45 L2789.44 2132.33 L2791.29 2133.95 L2793.15 2121.89 L2794.77 2123.05 L2797.09 2118.41 L2799.41 2117.25 L2802.89 2123.75 L2805.21 2107.98 L2807.53 2094.06 L2810.31 2086.64 L2812.63 2099.17 L2815.64 2087.57 L2818.66 2094.53 L2821.44 2092.21 L2823.76 2087.11 L2826.08 2086.64 L2827.94 2079.45 L2833.04 2079.68 L2842.31 2080.61 L2860.87 2080.61 L2881.74 2080.84 L2885.22 2084.09 L2891.02 2084.09 L2897.97 2083.86 L2921.16 2083.86 L2928.12 2083.16 L2936.93 2083.63 L2939.72 2089.42 L2941.57 2089.89 L2943.2 2080.15 L2947.83 2079.68" fill="none" stroke="#d62728" stroke-width="1.4" stroke-linejoin="round"/><line x1="2990.4" y1="2070.4" x2="2990.4" y2="2234.3" stroke="#ececec" stroke-width="0.7" stroke-dasharray="1.2 1.2"/><text x="2990.4" y="2245.3" text-anchor="middle" font-size="7.7">0</text><line x1="3029.4" y1="2070.4" x2="3029.4" y2="2234.3" stroke="#ececec" stroke-width="0.7" stroke-dasharray="1.2 1.2"/><text x="3029.4" y="2245.3" text-anchor="middle" font-size="7.7">20</text><line x1="3068.4" y1="2070.4" x2="3068.4" y2="2234.3" stroke="#ececec" stroke-width="0.7" stroke-dasharray="1.2 1.2"/><text x="3068.4" y="2245.3" text-anchor="middle" font-size="7.7">40</text><line x1="3107.4" y1="2070.4" x2="3107.4" y2="2234.3" stroke="#ececec" stroke-width="0.7" stroke-dasharray="1.2 1.2"/><text x="3107.4" y="2245.3" text-anchor="middle" font-size="7.7">60</text><line x1="3146.4" y1="2070.4" x2="3146.4" y2="2234.3" stroke="#ececec" stroke-width="0.7" stroke-dasharray="1.2 1.2"/><text x="3146.4" y="2245.3" text-anchor="middle" font-size="7.7">80</text><line x1="3185.4" y1="2070.4" x2="3185.4" y2="2234.3" stroke="#ececec" stroke-width="0.7" stroke-dasharray="1.2 1.2"/><text x="3185.4" y="2245.3" text-anchor="middle" font-size="7.7">100</text><text x="2976.3" y="2073.4" text-anchor="end" font-size="7.7">1.3</text><line x1="2981.3" y1="2091.31" x2="3189.2" y2="2091.31" stroke="#ececec" stroke-width="0.7" stroke-dasharray="1.2 1.2"/><text x="2976.3" y="2093.81" text-anchor="end" font-size="7.7">1.2</text><line x1="2981.3" y1="2111.72" x2="3189.2" y2="2111.72" stroke="#ececec" stroke-width="0.7" stroke-dasharray="1.2 1.2"/><text x="2976.3" y="2114.22" text-anchor="end" font-size="7.7">1.1</text><line x1="2981.3" y1="2132.13" x2="3189.2" y2="2132.13" stroke="#ececec" stroke-width="0.7" stroke-dasharray="1.2 1.2"/><text x="2976.3" y="2134.63" text-anchor="end" font-size="7.7">1.0</text><line x1="2981.3" y1="2152.54" x2="3189.2" y2="2152.54" stroke="#ececec" stroke-width="0.7" stroke-dasharray="1.2 1.2"/><text x="2976.3" y="2155.04" text-anchor="end" font-size="7.7">0.9</text><line x1="2981.3" y1="2172.95" x2="3189.2" y2="2172.95" stroke="#ececec" stroke-width="0.7" stroke-dasharray="1.2 1.2"/><text x="2976.3" y="2175.45" text-anchor="end" font-size="7.7">0.8</text><line x1="2981.3" y1="2193.36" x2="3189.2" y2="2193.36" stroke="#ececec" stroke-width="0.7" stroke-dasharray="1.2 1.2"/><text x="2976.3" y="2195.86" text-anchor="end" font-size="7.7">0.7</text><line x1="2981.3" y1="2213.77" x2="3189.2" y2="2213.77" stroke="#ececec" stroke-width="0.7" stroke-dasharray="1.2 1.2"/><text x="2976.3" y="2216.27" text-anchor="end" font-size="7.7">0.6</text><text x="2976.3" y="2236.68" text-anchor="end" font-size="7.7">0.5</text><rect x="2981.3" y="2070.4" width="207.9" height="163.9" fill="none" stroke="#dcdcdc" stroke-width="1"/><text x="3085.25" y="2068.0" text-anchor="middle" font-size="11.2">Initial Cash = $2,000,000</text><text x="3085.25" y="2254.6" text-anchor="middle" font-size="8.3">Timestep</text><path d="M2990.38 2131.63 L2993.63 2134.65 L2994.79 2147.4 L2997.11 2151.58 L3001.74 2149.26 L3005.22 2151.58 L3007.54 2148.56 L3009.86 2153.2 L3011.48 2149.72 L3015.66 2157.14 L3017.98 2159 L3019.6 2167.81 L3021.46 2159 L3023.78 2160.16 L3024.94 2147.4 L3027.25 2145.08 L3029.57 2132.33 L3033.05 2131.63 L3034.91 2153.9 L3037.23 2156.22 L3038.85 2142.76 L3041.63 2135.34 L3044.65 2146.24 L3047.66 2136.97 L3050.91 2146.24 L3057.4 2143.46 L3062.04 2142.3 L3080.59 2142.3 L3086.39 2145.78 L3089.87 2145.78 L3099.15 2150.42 L3103.78 2150.88 L3113.06 2150.19 L3117.7 2155.52 L3121.18 2156.68 L3124.66 2149.26 L3126.98 2171.29 L3140.89 2171.75 L3145.53 2173.38 L3150.17 2173.38 L3154.81 2178.71 L3158.28 2179.87 L3164.08 2177.09 L3166.4 2177.55 L3167.56 2196.1 L3169.88 2195.64 L3172.2 2210.02 L3173.82 2213.5 L3176.14 2204.22 L3179.62 2204.68" fill="none" stroke="#1f77b4" stroke-width="1.4" stroke-dasharray="4.2 1.8" stroke-linejoin="round"/><path d="M2990.38 2131.63 L2997.11 2134.65 L3004.06 2135.34 L3008.7 2139.29 L3015.66 2145.08 L3019.6 2151.58 L3021.46 2142.76 L3024.94 2135.81 L3027.25 2143.92 L3029.57 2141.6 L3034.21 2141.6 L3035.37 2142.76 L3037.69 2119.57 L3040.01 2113.78 L3042.79 2110.76 L3045.11 2123.05 L3048.13 2113.08 L3050.91 2118.41 L3053.92 2117.25 L3056.71 2112.15 L3058.56 2123.05 L3062.04 2121.43 L3085.23 2122.59 L3094.51 2123.75 L3113.06 2123.75 L3117.7 2126.99 L3126.98 2128.15 L3145.53 2127.23 L3164.08 2126.99 L3168.72 2132.33 L3173.82 2136.27 L3175.68 2128.85 L3179.62 2128.15" fill="none" stroke="#d62728" stroke-width="1.4" stroke-dasharray="4.2 1.8" stroke-linejoin="round"/><path d="M2990.34 2131.63 L2994.75 2132.79 L2997.07 2136.27 L3000.55 2133.95 L3004.03 2128.85 L3006.35 2130.01 L3007.97 2133.49 L3009.82 2130.01 L3013.3 2134.65 L3016.78 2138.13 L3019.56 2143.92 L3022.58 2133.49 L3023.74 2136.97 L3025.59 2120.73 L3027.22 2121.89 L3029.54 2110.76 L3031.86 2107.98 L3034.17 2109.83 L3035.8 2113.78 L3037.65 2104.5 L3039.97 2092.9 L3042.76 2085.95 L3045.07 2098.7 L3048.09 2087.11 L3051.1 2095.22 L3053.89 2092.9 L3057.37 2092.21 L3060.15 2090.58 L3084.04 2090.58 L3086.82 2093.37 L3089.83 2092.44 L3093.31 2092.21 L3095.63 2094.06 L3100.27 2095.22 L3111.86 2095.22 L3114.18 2093.6 L3117.66 2096.38 L3120.45 2100.56 L3122.3 2094.06 L3124.62 2093.37 L3126.94 2098.7 L3148.97 2099.17 L3153.61 2102.88 L3157.09 2104.5 L3162.88 2102.18 L3167.52 2101.02 L3169.38 2098.24 L3171 2104.5 L3172.16 2112.62 L3174.02 2113.78 L3175.64 2103.8 L3180.28 2103.8" fill="none" stroke="#1f77b4" stroke-width="1.4" stroke-linejoin="round"/><path d="M2990.34 2131.63 L2998.23 2132.79 L3005.19 2132.33 L3009.82 2134.65 L3014.46 2137.66 L3017.24 2138.13 L3019.56 2140.45 L3021.88 2132.33 L3023.74 2133.95 L3025.59 2121.89 L3027.22 2123.05 L3029.54 2118.41 L3031.86 2117.25 L3035.33 2123.75 L3037.65 2107.98 L3039.97 2094.06 L3042.76 2086.64 L3045.07 2099.17 L3048.09 2087.57 L3051.1 2094.53 L3053.89 2092.21 L3056.21 2087.11 L3058.53 2086.64 L3060.38 2079.45 L3065.48 2079.68 L3074.76 2080.61 L3093.31 2080.61 L3114.18 2080.84 L3117.66 2084.09 L3123.46 2084.09 L3130.42 2083.86 L3153.61 2083.86 L3160.57 2083.16 L3169.38 2083.63 L3172.16 2089.42 L3174.02 2089.89 L3175.64 2080.15 L3180.28 2079.68" fill="none" stroke="#d62728" stroke-width="1.4" stroke-linejoin="round"/><text transform="translate(2496.3 2152.3) rotate(-90)" text-anchor="middle" font-size="8.3">Normalized Portfolio Value</text><line x1="3223.2" y1="2094.1" x2="3431.5" y2="2094.1" stroke="#ececec" stroke-width="0.7" stroke-dasharray="1.2 1.2"/><text x="3218.4" y="2096.9" text-anchor="end" font-size="7.7">0.8</text><line x1="3223.2" y1="2128.18" x2="3431.5" y2="2128.18" stroke="#ececec" stroke-width="0.7" stroke-dasharray="1.2 1.2"/><text x="3218.4" y="2130.98" text-anchor="end" font-size="7.7">0.6</text><line x1="3223.2" y1="2162.26" x2="3431.5" y2="2162.26" stroke="#ececec" stroke-width="0.7" stroke-dasharray="1.2 1.2"/><text x="3218.4" y="2165.06" text-anchor="end" font-size="7.7">0.4</text><line x1="3223.2" y1="2196.34" x2="3431.5" y2="2196.34" stroke="#ececec" stroke-width="0.7" stroke-dasharray="1.2 1.2"/><text x="3218.4" y="2199.14" text-anchor="end" font-size="7.7">0.2</text><line x1="3223.2" y1="2230.42" x2="3431.5" y2="2230.42" stroke="#ececec" stroke-width="0.7" stroke-dasharray="1.2 1.2"/><text x="3218.4" y="2233.22" text-anchor="end" font-size="7.7">0.0</text><line x1="3232.5" y1="2070.4" x2="3232.5" y2="2234.3" stroke="#ececec" stroke-width="0.7" stroke-dasharray="1.2 1.2"/><text x="3231.5" y="2247.2" text-anchor="middle" font-size="7.7">10<tspan font-size="5.4" dy="-3.6">5</tspan></text><line x1="3343.8" y1="2070.4" x2="3343.8" y2="2234.3" stroke="#ececec" stroke-width="0.7" stroke-dasharray="1.2 1.2"/><text x="3342.8" y="2247.2" text-anchor="middle" font-size="7.7">10<tspan font-size="5.4" dy="-3.6">6</tspan></text><rect x="3223.2" y="2070.4" width="208.3" height="163.9" fill="none" stroke="#dcdcdc" stroke-width="1"/><text x="3327.35" y="2068.0" text-anchor="middle" font-size="11.2">Gap vs. Initial Cash</text><text x="3327.35" y="2257.1" text-anchor="middle" font-size="8.3">Initial Cash</text><text transform="translate(3203.3 2152.3) rotate(-90)" text-anchor="middle" font-size="8.3">Relative Portfolio Gap</text><path d="M3232.5 2225.56 L3343.81 2188.68 L3377.44 2145.78 L3397.15 2114.94 L3411.07 2096.38 L3421.97 2077.83" fill="none" stroke="#1f77b4" stroke-width="1.5"/><circle cx="3232.5" cy="2225.56" r="4.5" fill="#1f77b4"/><circle cx="3343.81" cy="2188.68" r="4.5" fill="#1f77b4"/><circle cx="3377.44" cy="2145.78" r="4.5" fill="#1f77b4"/><circle cx="3397.15" cy="2114.94" r="4.5" fill="#1f77b4"/><circle cx="3411.07" cy="2096.38" r="4.5" fill="#1f77b4"/><circle cx="3421.97" cy="2077.83" r="4.5" fill="#1f77b4"/><path d="M3232.5 2226.95 L3343.81 2208.86 L3377.44 2190.31 L3397.15 2172.45 L3411.07 2159 L3421.97 2147.4" fill="none" stroke="#d62728" stroke-width="1.5"/><circle cx="3232.5" cy="2226.95" r="4.5" fill="#d62728"/><circle cx="3343.81" cy="2208.86" r="4.5" fill="#d62728"/><circle cx="3377.44" cy="2190.31" r="4.5" fill="#d62728"/><circle cx="3397.15" cy="2172.45" r="4.5" fill="#d62728"/><circle cx="3411.07" cy="2159" r="4.5" fill="#d62728"/><circle cx="3421.97" cy="2147.4" r="4.5" fill="#d62728"/><line x1="2859.2" y1="2267.3" x2="2876.6" y2="2267.3" stroke="#1f77b4" stroke-width="1.4"/><text x="2883.0" y="2270.1" font-size="8.3">Non-Robust RL</text><line x1="2957.0" y1="2267.3" x2="2974.4" y2="2267.3" stroke="#d62728" stroke-width="1.4"/><text x="2981.2" y="2270.1" font-size="8.3">Robust RL (ℓ<tspan font-size="5.8" dy="1.5" font-style="italic">p</tspan><tspan dy="-1.5">-Ellipse)</tspan></text></svg>
<!-- p43_qr -->
<svg class="qr" style="left:0;top:0" width="3600" height="2880" viewBox="0 0 3600 2880"><rect x="3202.5" y="2550.2" width="38.07" height="38.07" rx="10.5" fill="none" stroke="#1a1714" stroke-width="6.2"/><circle cx="3221.54" cy="2569.24" r="9.61" fill="#1a1714"/><rect x="3392.23" y="2550.2" width="38.07" height="38.07" rx="10.5" fill="none" stroke="#1a1714" stroke-width="6.2"/><circle cx="3411.26" cy="2569.24" r="9.61" fill="#1a1714"/><rect x="3202.5" y="2739.93" width="38.07" height="38.07" rx="10.5" fill="none" stroke="#1a1714" stroke-width="6.2"/><circle cx="3221.54" cy="2758.96" r="9.61" fill="#1a1714"/><path d="M3256.29 2550.26a3.19 3.19 0 1 0 6.39 0a3.19 3.19 0 1 0 -6.39 0M3262.61 2550.26a3.19 3.19 0 1 0 6.39 0a3.19 3.19 0 1 0 -6.39 0M3287.91 2550.26a3.19 3.19 0 1 0 6.39 0a3.19 3.19 0 1 0 -6.39 0M3294.23 2550.26a3.19 3.19 0 1 0 6.39 0a3.19 3.19 0 1 0 -6.39 0M3300.56 2550.26a3.19 3.19 0 1 0 6.39 0a3.19 3.19 0 1 0 -6.39 0M3325.85 2550.26a3.19 3.19 0 1 0 6.39 0a3.19 3.19 0 1 0 -6.39 0M3357.48 2550.26a3.19 3.19 0 1 0 6.39 0a3.19 3.19 0 1 0 -6.39 0M3363.8 2550.26a3.19 3.19 0 1 0 6.39 0a3.19 3.19 0 1 0 -6.39 0M3370.13 2550.26a3.19 3.19 0 1 0 6.39 0a3.19 3.19 0 1 0 -6.39 0M3376.45 2550.26a3.19 3.19 0 1 0 6.39 0a3.19 3.19 0 1 0 -6.39 0M3249.96 2556.59a3.19 3.19 0 1 0 6.39 0a3.19 3.19 0 1 0 -6.39 0M3256.29 2556.59a3.19 3.19 0 1 0 6.39 0a3.19 3.19 0 1 0 -6.39 0M3262.61 2556.59a3.19 3.19 0 1 0 6.39 0a3.19 3.19 0 1 0 -6.39 0M3268.94 2556.59a3.19 3.19 0 1 0 6.39 0a3.19 3.19 0 1 0 -6.39 0M3281.58 2556.59a3.19 3.19 0 1 0 6.39 0a3.19 3.19 0 1 0 -6.39 0M3313.21 2556.59a3.19 3.19 0 1 0 6.39 0a3.19 3.19 0 1 0 -6.39 0M3325.85 2556.59a3.19 3.19 0 1 0 6.39 0a3.19 3.19 0 1 0 -6.39 0M3338.5 2556.59a3.19 3.19 0 1 0 6.39 0a3.19 3.19 0 1 0 -6.39 0M3357.48 2556.59a3.19 3.19 0 1 0 6.39 0a3.19 3.19 0 1 0 -6.39 0M3363.8 2556.59a3.19 3.19 0 1 0 6.39 0a3.19 3.19 0 1 0 -6.39 0M3256.29 2562.91a3.19 3.19 0 1 0 6.39 0a3.19 3.19 0 1 0 -6.39 0M3262.61 2562.91a3.19 3.19 0 1 0 6.39 0a3.19 3.19 0 1 0 -6.39 0M3268.94 2562.91a3.19 3.19 0 1 0 6.39 0a3.19 3.19 0 1 0 -6.39 0M3275.26 2562.91a3.19 3.19 0 1 0 6.39 0a3.19 3.19 0 1 0 -6.39 0M3313.21 2562.91a3.19 3.19 0 1 0 6.39 0a3.19 3.19 0 1 0 -6.39 0M3319.53 2562.91a3.19 3.19 0 1 0 6.39 0a3.19 3.19 0 1 0 -6.39 0M3332.18 2562.91a3.19 3.19 0 1 0 6.39 0a3.19 3.19 0 1 0 -6.39 0M3344.83 2562.91a3.19 3.19 0 1 0 6.39 0a3.19 3.19 0 1 0 -6.39 0M3351.15 2562.91a3.19 3.19 0 1 0 6.39 0a3.19 3.19 0 1 0 -6.39 0M3357.48 2562.91a3.19 3.19 0 1 0 6.39 0a3.19 3.19 0 1 0 -6.39 0M3363.8 2562.91a3.19 3.19 0 1 0 6.39 0a3.19 3.19 0 1 0 -6.39 0M3370.13 2562.91a3.19 3.19 0 1 0 6.39 0a3.19 3.19 0 1 0 -6.39 0M3376.45 2562.91a3.19 3.19 0 1 0 6.39 0a3.19 3.19 0 1 0 -6.39 0M3249.96 2569.24a3.19 3.19 0 1 0 6.39 0a3.19 3.19 0 1 0 -6.39 0M3256.29 2569.24a3.19 3.19 0 1 0 6.39 0a3.19 3.19 0 1 0 -6.39 0M3262.61 2569.24a3.19 3.19 0 1 0 6.39 0a3.19 3.19 0 1 0 -6.39 0M3281.58 2569.24a3.19 3.19 0 1 0 6.39 0a3.19 3.19 0 1 0 -6.39 0M3287.91 2569.24a3.19 3.19 0 1 0 6.39 0a3.19 3.19 0 1 0 -6.39 0M3300.56 2569.24a3.19 3.19 0 1 0 6.39 0a3.19 3.19 0 1 0 -6.39 0M3306.88 2569.24a3.19 3.19 0 1 0 6.39 0a3.19 3.19 0 1 0 -6.39 0M3325.85 2569.24a3.19 3.19 0 1 0 6.39 0a3.19 3.19 0 1 0 -6.39 0M3332.18 2569.24a3.19 3.19 0 1 0 6.39 0a3.19 3.19 0 1 0 -6.39 0M3344.83 2569.24a3.19 3.19 0 1 0 6.39 0a3.19 3.19 0 1 0 -6.39 0M3351.15 2569.24a3.19 3.19 0 1 0 6.39 0a3.19 3.19 0 1 0 -6.39 0M3376.45 2569.24a3.19 3.19 0 1 0 6.39 0a3.19 3.19 0 1 0 -6.39 0M3249.96 2575.56a3.19 3.19 0 1 0 6.39 0a3.19 3.19 0 1 0 -6.39 0M3262.61 2575.56a3.19 3.19 0 1 0 6.39 0a3.19 3.19 0 1 0 -6.39 0M3294.23 2575.56a3.19 3.19 0 1 0 6.39 0a3.19 3.19 0 1 0 -6.39 0M3300.56 2575.56a3.19 3.19 0 1 0 6.39 0a3.19 3.19 0 1 0 -6.39 0M3319.53 2575.56a3.19 3.19 0 1 0 6.39 0a3.19 3.19 0 1 0 -6.39 0M3332.18 2575.56a3.19 3.19 0 1 0 6.39 0a3.19 3.19 0 1 0 -6.39 0M3344.83 2575.56a3.19 3.19 0 1 0 6.39 0a3.19 3.19 0 1 0 -6.39 0M3351.15 2575.56a3.19 3.19 0 1 0 6.39 0a3.19 3.19 0 1 0 -6.39 0M3363.8 2575.56a3.19 3.19 0 1 0 6.39 0a3.19 3.19 0 1 0 -6.39 0M3249.96 2581.88a3.19 3.19 0 1 0 6.39 0a3.19 3.19 0 1 0 -6.39 0M3262.61 2581.88a3.19 3.19 0 1 0 6.39 0a3.19 3.19 0 1 0 -6.39 0M3281.58 2581.88a3.19 3.19 0 1 0 6.39 0a3.19 3.19 0 1 0 -6.39 0M3287.91 2581.88a3.19 3.19 0 1 0 6.39 0a3.19 3.19 0 1 0 -6.39 0M3300.56 2581.88a3.19 3.19 0 1 0 6.39 0a3.19 3.19 0 1 0 -6.39 0M3306.88 2581.88a3.19 3.19 0 1 0 6.39 0a3.19 3.19 0 1 0 -6.39 0M3325.85 2581.88a3.19 3.19 0 1 0 6.39 0a3.19 3.19 0 1 0 -6.39 0M3332.18 2581.88a3.19 3.19 0 1 0 6.39 0a3.19 3.19 0 1 0 -6.39 0M3338.5 2581.88a3.19 3.19 0 1 0 6.39 0a3.19 3.19 0 1 0 -6.39 0M3363.8 2581.88a3.19 3.19 0 1 0 6.39 0a3.19 3.19 0 1 0 -6.39 0M3370.13 2581.88a3.19 3.19 0 1 0 6.39 0a3.19 3.19 0 1 0 -6.39 0M3376.45 2581.88a3.19 3.19 0 1 0 6.39 0a3.19 3.19 0 1 0 -6.39 0M3249.96 2588.21a3.19 3.19 0 1 0 6.39 0a3.19 3.19 0 1 0 -6.39 0M3262.61 2588.21a3.19 3.19 0 1 0 6.39 0a3.19 3.19 0 1 0 -6.39 0M3275.26 2588.21a3.19 3.19 0 1 0 6.39 0a3.19 3.19 0 1 0 -6.39 0M3287.91 2588.21a3.19 3.19 0 1 0 6.39 0a3.19 3.19 0 1 0 -6.39 0M3300.56 2588.21a3.19 3.19 0 1 0 6.39 0a3.19 3.19 0 1 0 -6.39 0M3313.21 2588.21a3.19 3.19 0 1 0 6.39 0a3.19 3.19 0 1 0 -6.39 0M3325.85 2588.21a3.19 3.19 0 1 0 6.39 0a3.19 3.19 0 1 0 -6.39 0M3338.5 2588.21a3.19 3.19 0 1 0 6.39 0a3.19 3.19 0 1 0 -6.39 0M3351.15 2588.21a3.19 3.19 0 1 0 6.39 0a3.19 3.19 0 1 0 -6.39 0M3363.8 2588.21a3.19 3.19 0 1 0 6.39 0a3.19 3.19 0 1 0 -6.39 0M3376.45 2588.21a3.19 3.19 0 1 0 6.39 0a3.19 3.19 0 1 0 -6.39 0M3268.94 2594.53a3.19 3.19 0 1 0 6.39 0a3.19 3.19 0 1 0 -6.39 0M3281.58 2594.53a3.19 3.19 0 1 0 6.39 0a3.19 3.19 0 1 0 -6.39 0M3300.56 2594.53a3.19 3.19 0 1 0 6.39 0a3.19 3.19 0 1 0 -6.39 0M3313.21 2594.53a3.19 3.19 0 1 0 6.39 0a3.19 3.19 0 1 0 -6.39 0M3325.85 2594.53a3.19 3.19 0 1 0 6.39 0a3.19 3.19 0 1 0 -6.39 0M3344.83 2594.53a3.19 3.19 0 1 0 6.39 0a3.19 3.19 0 1 0 -6.39 0M3351.15 2594.53a3.19 3.19 0 1 0 6.39 0a3.19 3.19 0 1 0 -6.39 0M3357.48 2594.53a3.19 3.19 0 1 0 6.39 0a3.19 3.19 0 1 0 -6.39 0M3363.8 2594.53a3.19 3.19 0 1 0 6.39 0a3.19 3.19 0 1 0 -6.39 0M3370.13 2594.53a3.19 3.19 0 1 0 6.39 0a3.19 3.19 0 1 0 -6.39 0M3376.45 2594.53a3.19 3.19 0 1 0 6.39 0a3.19 3.19 0 1 0 -6.39 0M3205.69 2600.86a3.19 3.19 0 1 0 6.39 0a3.19 3.19 0 1 0 -6.39 0M3218.34 2600.86a3.19 3.19 0 1 0 6.39 0a3.19 3.19 0 1 0 -6.39 0M3224.67 2600.86a3.19 3.19 0 1 0 6.39 0a3.19 3.19 0 1 0 -6.39 0M3237.31 2600.86a3.19 3.19 0 1 0 6.39 0a3.19 3.19 0 1 0 -6.39 0M3243.64 2600.86a3.19 3.19 0 1 0 6.39 0a3.19 3.19 0 1 0 -6.39 0M3249.96 2600.86a3.19 3.19 0 1 0 6.39 0a3.19 3.19 0 1 0 -6.39 0M3262.61 2600.86a3.19 3.19 0 1 0 6.39 0a3.19 3.19 0 1 0 -6.39 0M3268.94 2600.86a3.19 3.19 0 1 0 6.39 0a3.19 3.19 0 1 0 -6.39 0M3275.26 2600.86a3.19 3.19 0 1 0 6.39 0a3.19 3.19 0 1 0 -6.39 0M3281.58 2600.86a3.19 3.19 0 1 0 6.39 0a3.19 3.19 0 1 0 -6.39 0M3294.23 2600.86a3.19 3.19 0 1 0 6.39 0a3.19 3.19 0 1 0 -6.39 0M3300.56 2600.86a3.19 3.19 0 1 0 6.39 0a3.19 3.19 0 1 0 -6.39 0M3306.88 2600.86a3.19 3.19 0 1 0 6.39 0a3.19 3.19 0 1 0 -6.39 0M3325.85 2600.86a3.19 3.19 0 1 0 6.39 0a3.19 3.19 0 1 0 -6.39 0M3332.18 2600.86a3.19 3.19 0 1 0 6.39 0a3.19 3.19 0 1 0 -6.39 0M3344.83 2600.86a3.19 3.19 0 1 0 6.39 0a3.19 3.19 0 1 0 -6.39 0M3351.15 2600.86a3.19 3.19 0 1 0 6.39 0a3.19 3.19 0 1 0 -6.39 0M3382.77 2600.86a3.19 3.19 0 1 0 6.39 0a3.19 3.19 0 1 0 -6.39 0M3395.42 2600.86a3.19 3.19 0 1 0 6.39 0a3.19 3.19 0 1 0 -6.39 0M3401.75 2600.86a3.19 3.19 0 1 0 6.39 0a3.19 3.19 0 1 0 -6.39 0M3408.07 2600.86a3.19 3.19 0 1 0 6.39 0a3.19 3.19 0 1 0 -6.39 0M3420.72 2600.86a3.19 3.19 0 1 0 6.39 0a3.19 3.19 0 1 0 -6.39 0M3205.69 2607.18a3.19 3.19 0 1 0 6.39 0a3.19 3.19 0 1 0 -6.39 0M3212.02 2607.18a3.19 3.19 0 1 0 6.39 0a3.19 3.19 0 1 0 -6.39 0M3218.34 2607.18a3.19 3.19 0 1 0 6.39 0a3.19 3.19 0 1 0 -6.39 0M3224.67 2607.18a3.19 3.19 0 1 0 6.39 0a3.19 3.19 0 1 0 -6.39 0M3243.64 2607.18a3.19 3.19 0 1 0 6.39 0a3.19 3.19 0 1 0 -6.39 0M3249.96 2607.18a3.19 3.19 0 1 0 6.39 0a3.19 3.19 0 1 0 -6.39 0M3256.29 2607.18a3.19 3.19 0 1 0 6.39 0a3.19 3.19 0 1 0 -6.39 0M3262.61 2607.18a3.19 3.19 0 1 0 6.39 0a3.19 3.19 0 1 0 -6.39 0M3268.94 2607.18a3.19 3.19 0 1 0 6.39 0a3.19 3.19 0 1 0 -6.39 0M3275.26 2607.18a3.19 3.19 0 1 0 6.39 0a3.19 3.19 0 1 0 -6.39 0M3281.58 2607.18a3.19 3.19 0 1 0 6.39 0a3.19 3.19 0 1 0 -6.39 0M3287.91 2607.18a3.19 3.19 0 1 0 6.39 0a3.19 3.19 0 1 0 -6.39 0M3294.23 2607.18a3.19 3.19 0 1 0 6.39 0a3.19 3.19 0 1 0 -6.39 0M3306.88 2607.18a3.19 3.19 0 1 0 6.39 0a3.19 3.19 0 1 0 -6.39 0M3313.21 2607.18a3.19 3.19 0 1 0 6.39 0a3.19 3.19 0 1 0 -6.39 0M3332.18 2607.18a3.19 3.19 0 1 0 6.39 0a3.19 3.19 0 1 0 -6.39 0M3344.83 2607.18a3.19 3.19 0 1 0 6.39 0a3.19 3.19 0 1 0 -6.39 0M3351.15 2607.18a3.19 3.19 0 1 0 6.39 0a3.19 3.19 0 1 0 -6.39 0M3376.45 2607.18a3.19 3.19 0 1 0 6.39 0a3.19 3.19 0 1 0 -6.39 0M3389.1 2607.18a3.19 3.19 0 1 0 6.39 0a3.19 3.19 0 1 0 -6.39 0M3401.75 2607.18a3.19 3.19 0 1 0 6.39 0a3.19 3.19 0 1 0 -6.39 0M3414.4 2607.18a3.19 3.19 0 1 0 6.39 0a3.19 3.19 0 1 0 -6.39 0M3427.04 2607.18a3.19 3.19 0 1 0 6.39 0a3.19 3.19 0 1 0 -6.39 0M3205.69 2613.51a3.19 3.19 0 1 0 6.39 0a3.19 3.19 0 1 0 -6.39 0M3212.02 2613.51a3.19 3.19 0 1 0 6.39 0a3.19 3.19 0 1 0 -6.39 0M3237.31 2613.51a3.19 3.19 0 1 0 6.39 0a3.19 3.19 0 1 0 -6.39 0M3243.64 2613.51a3.19 3.19 0 1 0 6.39 0a3.19 3.19 0 1 0 -6.39 0M3256.29 2613.51a3.19 3.19 0 1 0 6.39 0a3.19 3.19 0 1 0 -6.39 0M3268.94 2613.51a3.19 3.19 0 1 0 6.39 0a3.19 3.19 0 1 0 -6.39 0M3287.91 2613.51a3.19 3.19 0 1 0 6.39 0a3.19 3.19 0 1 0 -6.39 0M3300.56 2613.51a3.19 3.19 0 1 0 6.39 0a3.19 3.19 0 1 0 -6.39 0M3325.85 2613.51a3.19 3.19 0 1 0 6.39 0a3.19 3.19 0 1 0 -6.39 0M3344.83 2613.51a3.19 3.19 0 1 0 6.39 0a3.19 3.19 0 1 0 -6.39 0M3363.8 2613.51a3.19 3.19 0 1 0 6.39 0a3.19 3.19 0 1 0 -6.39 0M3389.1 2613.51a3.19 3.19 0 1 0 6.39 0a3.19 3.19 0 1 0 -6.39 0M3395.42 2613.51a3.19 3.19 0 1 0 6.39 0a3.19 3.19 0 1 0 -6.39 0M3420.72 2613.51a3.19 3.19 0 1 0 6.39 0a3.19 3.19 0 1 0 -6.39 0M3212.02 2619.83a3.19 3.19 0 1 0 6.39 0a3.19 3.19 0 1 0 -6.39 0M3243.64 2619.83a3.19 3.19 0 1 0 6.39 0a3.19 3.19 0 1 0 -6.39 0M3249.96 2619.83a3.19 3.19 0 1 0 6.39 0a3.19 3.19 0 1 0 -6.39 0M3268.94 2619.83a3.19 3.19 0 1 0 6.39 0a3.19 3.19 0 1 0 -6.39 0M3275.26 2619.83a3.19 3.19 0 1 0 6.39 0a3.19 3.19 0 1 0 -6.39 0M3281.58 2619.83a3.19 3.19 0 1 0 6.39 0a3.19 3.19 0 1 0 -6.39 0M3294.23 2619.83a3.19 3.19 0 1 0 6.39 0a3.19 3.19 0 1 0 -6.39 0M3306.88 2619.83a3.19 3.19 0 1 0 6.39 0a3.19 3.19 0 1 0 -6.39 0M3319.53 2619.83a3.19 3.19 0 1 0 6.39 0a3.19 3.19 0 1 0 -6.39 0M3351.15 2619.83a3.19 3.19 0 1 0 6.39 0a3.19 3.19 0 1 0 -6.39 0M3363.8 2619.83a3.19 3.19 0 1 0 6.39 0a3.19 3.19 0 1 0 -6.39 0M3376.45 2619.83a3.19 3.19 0 1 0 6.39 0a3.19 3.19 0 1 0 -6.39 0M3389.1 2619.83a3.19 3.19 0 1 0 6.39 0a3.19 3.19 0 1 0 -6.39 0M3401.75 2619.83a3.19 3.19 0 1 0 6.39 0a3.19 3.19 0 1 0 -6.39 0M3408.07 2619.83a3.19 3.19 0 1 0 6.39 0a3.19 3.19 0 1 0 -6.39 0M3420.72 2619.83a3.19 3.19 0 1 0 6.39 0a3.19 3.19 0 1 0 -6.39 0M3427.04 2619.83a3.19 3.19 0 1 0 6.39 0a3.19 3.19 0 1 0 -6.39 0M3212.02 2626.15a3.19 3.19 0 1 0 6.39 0a3.19 3.19 0 1 0 -6.39 0M3218.34 2626.15a3.19 3.19 0 1 0 6.39 0a3.19 3.19 0 1 0 -6.39 0M3230.99 2626.15a3.19 3.19 0 1 0 6.39 0a3.19 3.19 0 1 0 -6.39 0M3237.31 2626.15a3.19 3.19 0 1 0 6.39 0a3.19 3.19 0 1 0 -6.39 0M3357.48 2626.15a3.19 3.19 0 1 0 6.39 0a3.19 3.19 0 1 0 -6.39 0M3370.13 2626.15a3.19 3.19 0 1 0 6.39 0a3.19 3.19 0 1 0 -6.39 0M3376.45 2626.15a3.19 3.19 0 1 0 6.39 0a3.19 3.19 0 1 0 -6.39 0M3408.07 2626.15a3.19 3.19 0 1 0 6.39 0a3.19 3.19 0 1 0 -6.39 0M3199.37 2632.48a3.19 3.19 0 1 0 6.39 0a3.19 3.19 0 1 0 -6.39 0M3205.69 2632.48a3.19 3.19 0 1 0 6.39 0a3.19 3.19 0 1 0 -6.39 0M3212.02 2632.48a3.19 3.19 0 1 0 6.39 0a3.19 3.19 0 1 0 -6.39 0M3218.34 2632.48a3.19 3.19 0 1 0 6.39 0a3.19 3.19 0 1 0 -6.39 0M3224.67 2632.48a3.19 3.19 0 1 0 6.39 0a3.19 3.19 0 1 0 -6.39 0M3230.99 2632.48a3.19 3.19 0 1 0 6.39 0a3.19 3.19 0 1 0 -6.39 0M3262.61 2632.48a3.19 3.19 0 1 0 6.39 0a3.19 3.19 0 1 0 -6.39 0M3268.94 2632.48a3.19 3.19 0 1 0 6.39 0a3.19 3.19 0 1 0 -6.39 0M3370.13 2632.48a3.19 3.19 0 1 0 6.39 0a3.19 3.19 0 1 0 -6.39 0M3382.77 2632.48a3.19 3.19 0 1 0 6.39 0a3.19 3.19 0 1 0 -6.39 0M3389.1 2632.48a3.19 3.19 0 1 0 6.39 0a3.19 3.19 0 1 0 -6.39 0M3401.75 2632.48a3.19 3.19 0 1 0 6.39 0a3.19 3.19 0 1 0 -6.39 0M3408.07 2632.48a3.19 3.19 0 1 0 6.39 0a3.19 3.19 0 1 0 -6.39 0M3414.4 2632.48a3.19 3.19 0 1 0 6.39 0a3.19 3.19 0 1 0 -6.39 0M3420.72 2632.48a3.19 3.19 0 1 0 6.39 0a3.19 3.19 0 1 0 -6.39 0M3199.37 2638.8a3.19 3.19 0 1 0 6.39 0a3.19 3.19 0 1 0 -6.39 0M3205.69 2638.8a3.19 3.19 0 1 0 6.39 0a3.19 3.19 0 1 0 -6.39 0M3212.02 2638.8a3.19 3.19 0 1 0 6.39 0a3.19 3.19 0 1 0 -6.39 0M3224.67 2638.8a3.19 3.19 0 1 0 6.39 0a3.19 3.19 0 1 0 -6.39 0M3230.99 2638.8a3.19 3.19 0 1 0 6.39 0a3.19 3.19 0 1 0 -6.39 0M3237.31 2638.8a3.19 3.19 0 1 0 6.39 0a3.19 3.19 0 1 0 -6.39 0M3243.64 2638.8a3.19 3.19 0 1 0 6.39 0a3.19 3.19 0 1 0 -6.39 0M3249.96 2638.8a3.19 3.19 0 1 0 6.39 0a3.19 3.19 0 1 0 -6.39 0M3256.29 2638.8a3.19 3.19 0 1 0 6.39 0a3.19 3.19 0 1 0 -6.39 0M3268.94 2638.8a3.19 3.19 0 1 0 6.39 0a3.19 3.19 0 1 0 -6.39 0M3370.13 2638.8a3.19 3.19 0 1 0 6.39 0a3.19 3.19 0 1 0 -6.39 0M3382.77 2638.8a3.19 3.19 0 1 0 6.39 0a3.19 3.19 0 1 0 -6.39 0M3389.1 2638.8a3.19 3.19 0 1 0 6.39 0a3.19 3.19 0 1 0 -6.39 0M3395.42 2638.8a3.19 3.19 0 1 0 6.39 0a3.19 3.19 0 1 0 -6.39 0M3401.75 2638.8a3.19 3.19 0 1 0 6.39 0a3.19 3.19 0 1 0 -6.39 0M3408.07 2638.8a3.19 3.19 0 1 0 6.39 0a3.19 3.19 0 1 0 -6.39 0M3427.04 2638.8a3.19 3.19 0 1 0 6.39 0a3.19 3.19 0 1 0 -6.39 0M3224.67 2645.13a3.19 3.19 0 1 0 6.39 0a3.19 3.19 0 1 0 -6.39 0M3243.64 2645.13a3.19 3.19 0 1 0 6.39 0a3.19 3.19 0 1 0 -6.39 0M3262.61 2645.13a3.19 3.19 0 1 0 6.39 0a3.19 3.19 0 1 0 -6.39 0M3268.94 2645.13a3.19 3.19 0 1 0 6.39 0a3.19 3.19 0 1 0 -6.39 0M3357.48 2645.13a3.19 3.19 0 1 0 6.39 0a3.19 3.19 0 1 0 -6.39 0M3363.8 2645.13a3.19 3.19 0 1 0 6.39 0a3.19 3.19 0 1 0 -6.39 0M3370.13 2645.13a3.19 3.19 0 1 0 6.39 0a3.19 3.19 0 1 0 -6.39 0M3401.75 2645.13a3.19 3.19 0 1 0 6.39 0a3.19 3.19 0 1 0 -6.39 0M3408.07 2645.13a3.19 3.19 0 1 0 6.39 0a3.19 3.19 0 1 0 -6.39 0M3420.72 2645.13a3.19 3.19 0 1 0 6.39 0a3.19 3.19 0 1 0 -6.39 0M3427.04 2645.13a3.19 3.19 0 1 0 6.39 0a3.19 3.19 0 1 0 -6.39 0M3205.69 2651.45a3.19 3.19 0 1 0 6.39 0a3.19 3.19 0 1 0 -6.39 0M3212.02 2651.45a3.19 3.19 0 1 0 6.39 0a3.19 3.19 0 1 0 -6.39 0M3224.67 2651.45a3.19 3.19 0 1 0 6.39 0a3.19 3.19 0 1 0 -6.39 0M3237.31 2651.45a3.19 3.19 0 1 0 6.39 0a3.19 3.19 0 1 0 -6.39 0M3256.29 2651.45a3.19 3.19 0 1 0 6.39 0a3.19 3.19 0 1 0 -6.39 0M3262.61 2651.45a3.19 3.19 0 1 0 6.39 0a3.19 3.19 0 1 0 -6.39 0M3357.48 2651.45a3.19 3.19 0 1 0 6.39 0a3.19 3.19 0 1 0 -6.39 0M3370.13 2651.45a3.19 3.19 0 1 0 6.39 0a3.19 3.19 0 1 0 -6.39 0M3382.77 2651.45a3.19 3.19 0 1 0 6.39 0a3.19 3.19 0 1 0 -6.39 0M3401.75 2651.45a3.19 3.19 0 1 0 6.39 0a3.19 3.19 0 1 0 -6.39 0M3420.72 2651.45a3.19 3.19 0 1 0 6.39 0a3.19 3.19 0 1 0 -6.39 0M3427.04 2651.45a3.19 3.19 0 1 0 6.39 0a3.19 3.19 0 1 0 -6.39 0M3199.37 2657.78a3.19 3.19 0 1 0 6.39 0a3.19 3.19 0 1 0 -6.39 0M3205.69 2657.78a3.19 3.19 0 1 0 6.39 0a3.19 3.19 0 1 0 -6.39 0M3212.02 2657.78a3.19 3.19 0 1 0 6.39 0a3.19 3.19 0 1 0 -6.39 0M3218.34 2657.78a3.19 3.19 0 1 0 6.39 0a3.19 3.19 0 1 0 -6.39 0M3230.99 2657.78a3.19 3.19 0 1 0 6.39 0a3.19 3.19 0 1 0 -6.39 0M3243.64 2657.78a3.19 3.19 0 1 0 6.39 0a3.19 3.19 0 1 0 -6.39 0M3262.61 2657.78a3.19 3.19 0 1 0 6.39 0a3.19 3.19 0 1 0 -6.39 0M3357.48 2657.78a3.19 3.19 0 1 0 6.39 0a3.19 3.19 0 1 0 -6.39 0M3382.77 2657.78a3.19 3.19 0 1 0 6.39 0a3.19 3.19 0 1 0 -6.39 0M3389.1 2657.78a3.19 3.19 0 1 0 6.39 0a3.19 3.19 0 1 0 -6.39 0M3395.42 2657.78a3.19 3.19 0 1 0 6.39 0a3.19 3.19 0 1 0 -6.39 0M3401.75 2657.78a3.19 3.19 0 1 0 6.39 0a3.19 3.19 0 1 0 -6.39 0M3408.07 2657.78a3.19 3.19 0 1 0 6.39 0a3.19 3.19 0 1 0 -6.39 0M3427.04 2657.78a3.19 3.19 0 1 0 6.39 0a3.19 3.19 0 1 0 -6.39 0M3199.37 2664.1a3.19 3.19 0 1 0 6.39 0a3.19 3.19 0 1 0 -6.39 0M3212.02 2664.1a3.19 3.19 0 1 0 6.39 0a3.19 3.19 0 1 0 -6.39 0M3218.34 2664.1a3.19 3.19 0 1 0 6.39 0a3.19 3.19 0 1 0 -6.39 0M3237.31 2664.1a3.19 3.19 0 1 0 6.39 0a3.19 3.19 0 1 0 -6.39 0M3243.64 2664.1a3.19 3.19 0 1 0 6.39 0a3.19 3.19 0 1 0 -6.39 0M3363.8 2664.1a3.19 3.19 0 1 0 6.39 0a3.19 3.19 0 1 0 -6.39 0M3389.1 2664.1a3.19 3.19 0 1 0 6.39 0a3.19 3.19 0 1 0 -6.39 0M3395.42 2664.1a3.19 3.19 0 1 0 6.39 0a3.19 3.19 0 1 0 -6.39 0M3427.04 2664.1a3.19 3.19 0 1 0 6.39 0a3.19 3.19 0 1 0 -6.39 0M3199.37 2670.42a3.19 3.19 0 1 0 6.39 0a3.19 3.19 0 1 0 -6.39 0M3224.67 2670.42a3.19 3.19 0 1 0 6.39 0a3.19 3.19 0 1 0 -6.39 0M3243.64 2670.42a3.19 3.19 0 1 0 6.39 0a3.19 3.19 0 1 0 -6.39 0M3256.29 2670.42a3.19 3.19 0 1 0 6.39 0a3.19 3.19 0 1 0 -6.39 0M3382.77 2670.42a3.19 3.19 0 1 0 6.39 0a3.19 3.19 0 1 0 -6.39 0M3395.42 2670.42a3.19 3.19 0 1 0 6.39 0a3.19 3.19 0 1 0 -6.39 0M3401.75 2670.42a3.19 3.19 0 1 0 6.39 0a3.19 3.19 0 1 0 -6.39 0M3414.4 2670.42a3.19 3.19 0 1 0 6.39 0a3.19 3.19 0 1 0 -6.39 0M3420.72 2670.42a3.19 3.19 0 1 0 6.39 0a3.19 3.19 0 1 0 -6.39 0M3199.37 2676.75a3.19 3.19 0 1 0 6.39 0a3.19 3.19 0 1 0 -6.39 0M3205.69 2676.75a3.19 3.19 0 1 0 6.39 0a3.19 3.19 0 1 0 -6.39 0M3212.02 2676.75a3.19 3.19 0 1 0 6.39 0a3.19 3.19 0 1 0 -6.39 0M3224.67 2676.75a3.19 3.19 0 1 0 6.39 0a3.19 3.19 0 1 0 -6.39 0M3237.31 2676.75a3.19 3.19 0 1 0 6.39 0a3.19 3.19 0 1 0 -6.39 0M3256.29 2676.75a3.19 3.19 0 1 0 6.39 0a3.19 3.19 0 1 0 -6.39 0M3262.61 2676.75a3.19 3.19 0 1 0 6.39 0a3.19 3.19 0 1 0 -6.39 0M3268.94 2676.75a3.19 3.19 0 1 0 6.39 0a3.19 3.19 0 1 0 -6.39 0M3357.48 2676.75a3.19 3.19 0 1 0 6.39 0a3.19 3.19 0 1 0 -6.39 0M3363.8 2676.75a3.19 3.19 0 1 0 6.39 0a3.19 3.19 0 1 0 -6.39 0M3370.13 2676.75a3.19 3.19 0 1 0 6.39 0a3.19 3.19 0 1 0 -6.39 0M3382.77 2676.75a3.19 3.19 0 1 0 6.39 0a3.19 3.19 0 1 0 -6.39 0M3395.42 2676.75a3.19 3.19 0 1 0 6.39 0a3.19 3.19 0 1 0 -6.39 0M3414.4 2676.75a3.19 3.19 0 1 0 6.39 0a3.19 3.19 0 1 0 -6.39 0M3420.72 2676.75a3.19 3.19 0 1 0 6.39 0a3.19 3.19 0 1 0 -6.39 0M3427.04 2676.75a3.19 3.19 0 1 0 6.39 0a3.19 3.19 0 1 0 -6.39 0M3212.02 2683.07a3.19 3.19 0 1 0 6.39 0a3.19 3.19 0 1 0 -6.39 0M3218.34 2683.07a3.19 3.19 0 1 0 6.39 0a3.19 3.19 0 1 0 -6.39 0M3230.99 2683.07a3.19 3.19 0 1 0 6.39 0a3.19 3.19 0 1 0 -6.39 0M3256.29 2683.07a3.19 3.19 0 1 0 6.39 0a3.19 3.19 0 1 0 -6.39 0M3262.61 2683.07a3.19 3.19 0 1 0 6.39 0a3.19 3.19 0 1 0 -6.39 0M3389.1 2683.07a3.19 3.19 0 1 0 6.39 0a3.19 3.19 0 1 0 -6.39 0M3401.75 2683.07a3.19 3.19 0 1 0 6.39 0a3.19 3.19 0 1 0 -6.39 0M3408.07 2683.07a3.19 3.19 0 1 0 6.39 0a3.19 3.19 0 1 0 -6.39 0M3414.4 2683.07a3.19 3.19 0 1 0 6.39 0a3.19 3.19 0 1 0 -6.39 0M3212.02 2689.4a3.19 3.19 0 1 0 6.39 0a3.19 3.19 0 1 0 -6.39 0M3224.67 2689.4a3.19 3.19 0 1 0 6.39 0a3.19 3.19 0 1 0 -6.39 0M3237.31 2689.4a3.19 3.19 0 1 0 6.39 0a3.19 3.19 0 1 0 -6.39 0M3256.29 2689.4a3.19 3.19 0 1 0 6.39 0a3.19 3.19 0 1 0 -6.39 0M3262.61 2689.4a3.19 3.19 0 1 0 6.39 0a3.19 3.19 0 1 0 -6.39 0M3370.13 2689.4a3.19 3.19 0 1 0 6.39 0a3.19 3.19 0 1 0 -6.39 0M3376.45 2689.4a3.19 3.19 0 1 0 6.39 0a3.19 3.19 0 1 0 -6.39 0M3382.77 2689.4a3.19 3.19 0 1 0 6.39 0a3.19 3.19 0 1 0 -6.39 0M3389.1 2689.4a3.19 3.19 0 1 0 6.39 0a3.19 3.19 0 1 0 -6.39 0M3395.42 2689.4a3.19 3.19 0 1 0 6.39 0a3.19 3.19 0 1 0 -6.39 0M3401.75 2689.4a3.19 3.19 0 1 0 6.39 0a3.19 3.19 0 1 0 -6.39 0M3199.37 2695.72a3.19 3.19 0 1 0 6.39 0a3.19 3.19 0 1 0 -6.39 0M3230.99 2695.72a3.19 3.19 0 1 0 6.39 0a3.19 3.19 0 1 0 -6.39 0M3243.64 2695.72a3.19 3.19 0 1 0 6.39 0a3.19 3.19 0 1 0 -6.39 0M3249.96 2695.72a3.19 3.19 0 1 0 6.39 0a3.19 3.19 0 1 0 -6.39 0M3256.29 2695.72a3.19 3.19 0 1 0 6.39 0a3.19 3.19 0 1 0 -6.39 0M3262.61 2695.72a3.19 3.19 0 1 0 6.39 0a3.19 3.19 0 1 0 -6.39 0M3357.48 2695.72a3.19 3.19 0 1 0 6.39 0a3.19 3.19 0 1 0 -6.39 0M3370.13 2695.72a3.19 3.19 0 1 0 6.39 0a3.19 3.19 0 1 0 -6.39 0M3376.45 2695.72a3.19 3.19 0 1 0 6.39 0a3.19 3.19 0 1 0 -6.39 0M3389.1 2695.72a3.19 3.19 0 1 0 6.39 0a3.19 3.19 0 1 0 -6.39 0M3401.75 2695.72a3.19 3.19 0 1 0 6.39 0a3.19 3.19 0 1 0 -6.39 0M3414.4 2695.72a3.19 3.19 0 1 0 6.39 0a3.19 3.19 0 1 0 -6.39 0M3420.72 2695.72a3.19 3.19 0 1 0 6.39 0a3.19 3.19 0 1 0 -6.39 0M3427.04 2695.72a3.19 3.19 0 1 0 6.39 0a3.19 3.19 0 1 0 -6.39 0M3199.37 2702.05a3.19 3.19 0 1 0 6.39 0a3.19 3.19 0 1 0 -6.39 0M3212.02 2702.05a3.19 3.19 0 1 0 6.39 0a3.19 3.19 0 1 0 -6.39 0M3218.34 2702.05a3.19 3.19 0 1 0 6.39 0a3.19 3.19 0 1 0 -6.39 0M3224.67 2702.05a3.19 3.19 0 1 0 6.39 0a3.19 3.19 0 1 0 -6.39 0M3230.99 2702.05a3.19 3.19 0 1 0 6.39 0a3.19 3.19 0 1 0 -6.39 0M3237.31 2702.05a3.19 3.19 0 1 0 6.39 0a3.19 3.19 0 1 0 -6.39 0M3249.96 2702.05a3.19 3.19 0 1 0 6.39 0a3.19 3.19 0 1 0 -6.39 0M3370.13 2702.05a3.19 3.19 0 1 0 6.39 0a3.19 3.19 0 1 0 -6.39 0M3395.42 2702.05a3.19 3.19 0 1 0 6.39 0a3.19 3.19 0 1 0 -6.39 0M3408.07 2702.05a3.19 3.19 0 1 0 6.39 0a3.19 3.19 0 1 0 -6.39 0M3420.72 2702.05a3.19 3.19 0 1 0 6.39 0a3.19 3.19 0 1 0 -6.39 0M3427.04 2702.05a3.19 3.19 0 1 0 6.39 0a3.19 3.19 0 1 0 -6.39 0M3199.37 2708.37a3.19 3.19 0 1 0 6.39 0a3.19 3.19 0 1 0 -6.39 0M3212.02 2708.37a3.19 3.19 0 1 0 6.39 0a3.19 3.19 0 1 0 -6.39 0M3218.34 2708.37a3.19 3.19 0 1 0 6.39 0a3.19 3.19 0 1 0 -6.39 0M3243.64 2708.37a3.19 3.19 0 1 0 6.39 0a3.19 3.19 0 1 0 -6.39 0M3249.96 2708.37a3.19 3.19 0 1 0 6.39 0a3.19 3.19 0 1 0 -6.39 0M3256.29 2708.37a3.19 3.19 0 1 0 6.39 0a3.19 3.19 0 1 0 -6.39 0M3262.61 2708.37a3.19 3.19 0 1 0 6.39 0a3.19 3.19 0 1 0 -6.39 0M3281.58 2708.37a3.19 3.19 0 1 0 6.39 0a3.19 3.19 0 1 0 -6.39 0M3287.91 2708.37a3.19 3.19 0 1 0 6.39 0a3.19 3.19 0 1 0 -6.39 0M3300.56 2708.37a3.19 3.19 0 1 0 6.39 0a3.19 3.19 0 1 0 -6.39 0M3306.88 2708.37a3.19 3.19 0 1 0 6.39 0a3.19 3.19 0 1 0 -6.39 0M3313.21 2708.37a3.19 3.19 0 1 0 6.39 0a3.19 3.19 0 1 0 -6.39 0M3319.53 2708.37a3.19 3.19 0 1 0 6.39 0a3.19 3.19 0 1 0 -6.39 0M3332.18 2708.37a3.19 3.19 0 1 0 6.39 0a3.19 3.19 0 1 0 -6.39 0M3338.5 2708.37a3.19 3.19 0 1 0 6.39 0a3.19 3.19 0 1 0 -6.39 0M3344.83 2708.37a3.19 3.19 0 1 0 6.39 0a3.19 3.19 0 1 0 -6.39 0M3351.15 2708.37a3.19 3.19 0 1 0 6.39 0a3.19 3.19 0 1 0 -6.39 0M3357.48 2708.37a3.19 3.19 0 1 0 6.39 0a3.19 3.19 0 1 0 -6.39 0M3376.45 2708.37a3.19 3.19 0 1 0 6.39 0a3.19 3.19 0 1 0 -6.39 0M3382.77 2708.37a3.19 3.19 0 1 0 6.39 0a3.19 3.19 0 1 0 -6.39 0M3395.42 2708.37a3.19 3.19 0 1 0 6.39 0a3.19 3.19 0 1 0 -6.39 0M3408.07 2708.37a3.19 3.19 0 1 0 6.39 0a3.19 3.19 0 1 0 -6.39 0M3199.37 2714.69a3.19 3.19 0 1 0 6.39 0a3.19 3.19 0 1 0 -6.39 0M3205.69 2714.69a3.19 3.19 0 1 0 6.39 0a3.19 3.19 0 1 0 -6.39 0M3224.67 2714.69a3.19 3.19 0 1 0 6.39 0a3.19 3.19 0 1 0 -6.39 0M3237.31 2714.69a3.19 3.19 0 1 0 6.39 0a3.19 3.19 0 1 0 -6.39 0M3268.94 2714.69a3.19 3.19 0 1 0 6.39 0a3.19 3.19 0 1 0 -6.39 0M3281.58 2714.69a3.19 3.19 0 1 0 6.39 0a3.19 3.19 0 1 0 -6.39 0M3319.53 2714.69a3.19 3.19 0 1 0 6.39 0a3.19 3.19 0 1 0 -6.39 0M3332.18 2714.69a3.19 3.19 0 1 0 6.39 0a3.19 3.19 0 1 0 -6.39 0M3357.48 2714.69a3.19 3.19 0 1 0 6.39 0a3.19 3.19 0 1 0 -6.39 0M3363.8 2714.69a3.19 3.19 0 1 0 6.39 0a3.19 3.19 0 1 0 -6.39 0M3401.75 2714.69a3.19 3.19 0 1 0 6.39 0a3.19 3.19 0 1 0 -6.39 0M3408.07 2714.69a3.19 3.19 0 1 0 6.39 0a3.19 3.19 0 1 0 -6.39 0M3420.72 2714.69a3.19 3.19 0 1 0 6.39 0a3.19 3.19 0 1 0 -6.39 0M3212.02 2721.02a3.19 3.19 0 1 0 6.39 0a3.19 3.19 0 1 0 -6.39 0M3218.34 2721.02a3.19 3.19 0 1 0 6.39 0a3.19 3.19 0 1 0 -6.39 0M3243.64 2721.02a3.19 3.19 0 1 0 6.39 0a3.19 3.19 0 1 0 -6.39 0M3268.94 2721.02a3.19 3.19 0 1 0 6.39 0a3.19 3.19 0 1 0 -6.39 0M3281.58 2721.02a3.19 3.19 0 1 0 6.39 0a3.19 3.19 0 1 0 -6.39 0M3287.91 2721.02a3.19 3.19 0 1 0 6.39 0a3.19 3.19 0 1 0 -6.39 0M3306.88 2721.02a3.19 3.19 0 1 0 6.39 0a3.19 3.19 0 1 0 -6.39 0M3313.21 2721.02a3.19 3.19 0 1 0 6.39 0a3.19 3.19 0 1 0 -6.39 0M3319.53 2721.02a3.19 3.19 0 1 0 6.39 0a3.19 3.19 0 1 0 -6.39 0M3325.85 2721.02a3.19 3.19 0 1 0 6.39 0a3.19 3.19 0 1 0 -6.39 0M3332.18 2721.02a3.19 3.19 0 1 0 6.39 0a3.19 3.19 0 1 0 -6.39 0M3338.5 2721.02a3.19 3.19 0 1 0 6.39 0a3.19 3.19 0 1 0 -6.39 0M3344.83 2721.02a3.19 3.19 0 1 0 6.39 0a3.19 3.19 0 1 0 -6.39 0M3363.8 2721.02a3.19 3.19 0 1 0 6.39 0a3.19 3.19 0 1 0 -6.39 0M3376.45 2721.02a3.19 3.19 0 1 0 6.39 0a3.19 3.19 0 1 0 -6.39 0M3401.75 2721.02a3.19 3.19 0 1 0 6.39 0a3.19 3.19 0 1 0 -6.39 0M3420.72 2721.02a3.19 3.19 0 1 0 6.39 0a3.19 3.19 0 1 0 -6.39 0M3212.02 2727.34a3.19 3.19 0 1 0 6.39 0a3.19 3.19 0 1 0 -6.39 0M3218.34 2727.34a3.19 3.19 0 1 0 6.39 0a3.19 3.19 0 1 0 -6.39 0M3237.31 2727.34a3.19 3.19 0 1 0 6.39 0a3.19 3.19 0 1 0 -6.39 0M3243.64 2727.34a3.19 3.19 0 1 0 6.39 0a3.19 3.19 0 1 0 -6.39 0M3249.96 2727.34a3.19 3.19 0 1 0 6.39 0a3.19 3.19 0 1 0 -6.39 0M3281.58 2727.34a3.19 3.19 0 1 0 6.39 0a3.19 3.19 0 1 0 -6.39 0M3325.85 2727.34a3.19 3.19 0 1 0 6.39 0a3.19 3.19 0 1 0 -6.39 0M3332.18 2727.34a3.19 3.19 0 1 0 6.39 0a3.19 3.19 0 1 0 -6.39 0M3344.83 2727.34a3.19 3.19 0 1 0 6.39 0a3.19 3.19 0 1 0 -6.39 0M3370.13 2727.34a3.19 3.19 0 1 0 6.39 0a3.19 3.19 0 1 0 -6.39 0M3376.45 2727.34a3.19 3.19 0 1 0 6.39 0a3.19 3.19 0 1 0 -6.39 0M3382.77 2727.34a3.19 3.19 0 1 0 6.39 0a3.19 3.19 0 1 0 -6.39 0M3389.1 2727.34a3.19 3.19 0 1 0 6.39 0a3.19 3.19 0 1 0 -6.39 0M3395.42 2727.34a3.19 3.19 0 1 0 6.39 0a3.19 3.19 0 1 0 -6.39 0M3401.75 2727.34a3.19 3.19 0 1 0 6.39 0a3.19 3.19 0 1 0 -6.39 0M3408.07 2727.34a3.19 3.19 0 1 0 6.39 0a3.19 3.19 0 1 0 -6.39 0M3427.04 2727.34a3.19 3.19 0 1 0 6.39 0a3.19 3.19 0 1 0 -6.39 0M3249.96 2733.67a3.19 3.19 0 1 0 6.39 0a3.19 3.19 0 1 0 -6.39 0M3262.61 2733.67a3.19 3.19 0 1 0 6.39 0a3.19 3.19 0 1 0 -6.39 0M3268.94 2733.67a3.19 3.19 0 1 0 6.39 0a3.19 3.19 0 1 0 -6.39 0M3281.58 2733.67a3.19 3.19 0 1 0 6.39 0a3.19 3.19 0 1 0 -6.39 0M3287.91 2733.67a3.19 3.19 0 1 0 6.39 0a3.19 3.19 0 1 0 -6.39 0M3294.23 2733.67a3.19 3.19 0 1 0 6.39 0a3.19 3.19 0 1 0 -6.39 0M3306.88 2733.67a3.19 3.19 0 1 0 6.39 0a3.19 3.19 0 1 0 -6.39 0M3313.21 2733.67a3.19 3.19 0 1 0 6.39 0a3.19 3.19 0 1 0 -6.39 0M3319.53 2733.67a3.19 3.19 0 1 0 6.39 0a3.19 3.19 0 1 0 -6.39 0M3325.85 2733.67a3.19 3.19 0 1 0 6.39 0a3.19 3.19 0 1 0 -6.39 0M3332.18 2733.67a3.19 3.19 0 1 0 6.39 0a3.19 3.19 0 1 0 -6.39 0M3344.83 2733.67a3.19 3.19 0 1 0 6.39 0a3.19 3.19 0 1 0 -6.39 0M3370.13 2733.67a3.19 3.19 0 1 0 6.39 0a3.19 3.19 0 1 0 -6.39 0M3376.45 2733.67a3.19 3.19 0 1 0 6.39 0a3.19 3.19 0 1 0 -6.39 0M3401.75 2733.67a3.19 3.19 0 1 0 6.39 0a3.19 3.19 0 1 0 -6.39 0M3249.96 2739.99a3.19 3.19 0 1 0 6.39 0a3.19 3.19 0 1 0 -6.39 0M3256.29 2739.99a3.19 3.19 0 1 0 6.39 0a3.19 3.19 0 1 0 -6.39 0M3262.61 2739.99a3.19 3.19 0 1 0 6.39 0a3.19 3.19 0 1 0 -6.39 0M3268.94 2739.99a3.19 3.19 0 1 0 6.39 0a3.19 3.19 0 1 0 -6.39 0M3275.26 2739.99a3.19 3.19 0 1 0 6.39 0a3.19 3.19 0 1 0 -6.39 0M3300.56 2739.99a3.19 3.19 0 1 0 6.39 0a3.19 3.19 0 1 0 -6.39 0M3313.21 2739.99a3.19 3.19 0 1 0 6.39 0a3.19 3.19 0 1 0 -6.39 0M3325.85 2739.99a3.19 3.19 0 1 0 6.39 0a3.19 3.19 0 1 0 -6.39 0M3357.48 2739.99a3.19 3.19 0 1 0 6.39 0a3.19 3.19 0 1 0 -6.39 0M3363.8 2739.99a3.19 3.19 0 1 0 6.39 0a3.19 3.19 0 1 0 -6.39 0M3376.45 2739.99a3.19 3.19 0 1 0 6.39 0a3.19 3.19 0 1 0 -6.39 0M3389.1 2739.99a3.19 3.19 0 1 0 6.39 0a3.19 3.19 0 1 0 -6.39 0M3401.75 2739.99a3.19 3.19 0 1 0 6.39 0a3.19 3.19 0 1 0 -6.39 0M3408.07 2739.99a3.19 3.19 0 1 0 6.39 0a3.19 3.19 0 1 0 -6.39 0M3427.04 2739.99a3.19 3.19 0 1 0 6.39 0a3.19 3.19 0 1 0 -6.39 0M3262.61 2746.32a3.19 3.19 0 1 0 6.39 0a3.19 3.19 0 1 0 -6.39 0M3268.94 2746.32a3.19 3.19 0 1 0 6.39 0a3.19 3.19 0 1 0 -6.39 0M3294.23 2746.32a3.19 3.19 0 1 0 6.39 0a3.19 3.19 0 1 0 -6.39 0M3332.18 2746.32a3.19 3.19 0 1 0 6.39 0a3.19 3.19 0 1 0 -6.39 0M3344.83 2746.32a3.19 3.19 0 1 0 6.39 0a3.19 3.19 0 1 0 -6.39 0M3351.15 2746.32a3.19 3.19 0 1 0 6.39 0a3.19 3.19 0 1 0 -6.39 0M3376.45 2746.32a3.19 3.19 0 1 0 6.39 0a3.19 3.19 0 1 0 -6.39 0M3401.75 2746.32a3.19 3.19 0 1 0 6.39 0a3.19 3.19 0 1 0 -6.39 0M3408.07 2746.32a3.19 3.19 0 1 0 6.39 0a3.19 3.19 0 1 0 -6.39 0M3414.4 2746.32a3.19 3.19 0 1 0 6.39 0a3.19 3.19 0 1 0 -6.39 0M3427.04 2746.32a3.19 3.19 0 1 0 6.39 0a3.19 3.19 0 1 0 -6.39 0M3249.96 2752.64a3.19 3.19 0 1 0 6.39 0a3.19 3.19 0 1 0 -6.39 0M3256.29 2752.64a3.19 3.19 0 1 0 6.39 0a3.19 3.19 0 1 0 -6.39 0M3262.61 2752.64a3.19 3.19 0 1 0 6.39 0a3.19 3.19 0 1 0 -6.39 0M3281.58 2752.64a3.19 3.19 0 1 0 6.39 0a3.19 3.19 0 1 0 -6.39 0M3294.23 2752.64a3.19 3.19 0 1 0 6.39 0a3.19 3.19 0 1 0 -6.39 0M3313.21 2752.64a3.19 3.19 0 1 0 6.39 0a3.19 3.19 0 1 0 -6.39 0M3325.85 2752.64a3.19 3.19 0 1 0 6.39 0a3.19 3.19 0 1 0 -6.39 0M3332.18 2752.64a3.19 3.19 0 1 0 6.39 0a3.19 3.19 0 1 0 -6.39 0M3338.5 2752.64a3.19 3.19 0 1 0 6.39 0a3.19 3.19 0 1 0 -6.39 0M3357.48 2752.64a3.19 3.19 0 1 0 6.39 0a3.19 3.19 0 1 0 -6.39 0M3363.8 2752.64a3.19 3.19 0 1 0 6.39 0a3.19 3.19 0 1 0 -6.39 0M3370.13 2752.64a3.19 3.19 0 1 0 6.39 0a3.19 3.19 0 1 0 -6.39 0M3376.45 2752.64a3.19 3.19 0 1 0 6.39 0a3.19 3.19 0 1 0 -6.39 0M3382.77 2752.64a3.19 3.19 0 1 0 6.39 0a3.19 3.19 0 1 0 -6.39 0M3389.1 2752.64a3.19 3.19 0 1 0 6.39 0a3.19 3.19 0 1 0 -6.39 0M3395.42 2752.64a3.19 3.19 0 1 0 6.39 0a3.19 3.19 0 1 0 -6.39 0M3401.75 2752.64a3.19 3.19 0 1 0 6.39 0a3.19 3.19 0 1 0 -6.39 0M3414.4 2752.64a3.19 3.19 0 1 0 6.39 0a3.19 3.19 0 1 0 -6.39 0M3420.72 2752.64a3.19 3.19 0 1 0 6.39 0a3.19 3.19 0 1 0 -6.39 0M3427.04 2752.64a3.19 3.19 0 1 0 6.39 0a3.19 3.19 0 1 0 -6.39 0M3249.96 2758.96a3.19 3.19 0 1 0 6.39 0a3.19 3.19 0 1 0 -6.39 0M3268.94 2758.96a3.19 3.19 0 1 0 6.39 0a3.19 3.19 0 1 0 -6.39 0M3275.26 2758.96a3.19 3.19 0 1 0 6.39 0a3.19 3.19 0 1 0 -6.39 0M3287.91 2758.96a3.19 3.19 0 1 0 6.39 0a3.19 3.19 0 1 0 -6.39 0M3294.23 2758.96a3.19 3.19 0 1 0 6.39 0a3.19 3.19 0 1 0 -6.39 0M3319.53 2758.96a3.19 3.19 0 1 0 6.39 0a3.19 3.19 0 1 0 -6.39 0M3325.85 2758.96a3.19 3.19 0 1 0 6.39 0a3.19 3.19 0 1 0 -6.39 0M3332.18 2758.96a3.19 3.19 0 1 0 6.39 0a3.19 3.19 0 1 0 -6.39 0M3344.83 2758.96a3.19 3.19 0 1 0 6.39 0a3.19 3.19 0 1 0 -6.39 0M3351.15 2758.96a3.19 3.19 0 1 0 6.39 0a3.19 3.19 0 1 0 -6.39 0M3357.48 2758.96a3.19 3.19 0 1 0 6.39 0a3.19 3.19 0 1 0 -6.39 0M3363.8 2758.96a3.19 3.19 0 1 0 6.39 0a3.19 3.19 0 1 0 -6.39 0M3370.13 2758.96a3.19 3.19 0 1 0 6.39 0a3.19 3.19 0 1 0 -6.39 0M3376.45 2758.96a3.19 3.19 0 1 0 6.39 0a3.19 3.19 0 1 0 -6.39 0M3382.77 2758.96a3.19 3.19 0 1 0 6.39 0a3.19 3.19 0 1 0 -6.39 0M3389.1 2758.96a3.19 3.19 0 1 0 6.39 0a3.19 3.19 0 1 0 -6.39 0M3395.42 2758.96a3.19 3.19 0 1 0 6.39 0a3.19 3.19 0 1 0 -6.39 0M3408.07 2758.96a3.19 3.19 0 1 0 6.39 0a3.19 3.19 0 1 0 -6.39 0M3420.72 2758.96a3.19 3.19 0 1 0 6.39 0a3.19 3.19 0 1 0 -6.39 0M3427.04 2758.96a3.19 3.19 0 1 0 6.39 0a3.19 3.19 0 1 0 -6.39 0M3256.29 2765.29a3.19 3.19 0 1 0 6.39 0a3.19 3.19 0 1 0 -6.39 0M3268.94 2765.29a3.19 3.19 0 1 0 6.39 0a3.19 3.19 0 1 0 -6.39 0M3281.58 2765.29a3.19 3.19 0 1 0 6.39 0a3.19 3.19 0 1 0 -6.39 0M3287.91 2765.29a3.19 3.19 0 1 0 6.39 0a3.19 3.19 0 1 0 -6.39 0M3294.23 2765.29a3.19 3.19 0 1 0 6.39 0a3.19 3.19 0 1 0 -6.39 0M3300.56 2765.29a3.19 3.19 0 1 0 6.39 0a3.19 3.19 0 1 0 -6.39 0M3306.88 2765.29a3.19 3.19 0 1 0 6.39 0a3.19 3.19 0 1 0 -6.39 0M3338.5 2765.29a3.19 3.19 0 1 0 6.39 0a3.19 3.19 0 1 0 -6.39 0M3344.83 2765.29a3.19 3.19 0 1 0 6.39 0a3.19 3.19 0 1 0 -6.39 0M3357.48 2765.29a3.19 3.19 0 1 0 6.39 0a3.19 3.19 0 1 0 -6.39 0M3370.13 2765.29a3.19 3.19 0 1 0 6.39 0a3.19 3.19 0 1 0 -6.39 0M3376.45 2765.29a3.19 3.19 0 1 0 6.39 0a3.19 3.19 0 1 0 -6.39 0M3382.77 2765.29a3.19 3.19 0 1 0 6.39 0a3.19 3.19 0 1 0 -6.39 0M3389.1 2765.29a3.19 3.19 0 1 0 6.39 0a3.19 3.19 0 1 0 -6.39 0M3414.4 2765.29a3.19 3.19 0 1 0 6.39 0a3.19 3.19 0 1 0 -6.39 0M3420.72 2765.29a3.19 3.19 0 1 0 6.39 0a3.19 3.19 0 1 0 -6.39 0M3249.96 2771.61a3.19 3.19 0 1 0 6.39 0a3.19 3.19 0 1 0 -6.39 0M3268.94 2771.61a3.19 3.19 0 1 0 6.39 0a3.19 3.19 0 1 0 -6.39 0M3275.26 2771.61a3.19 3.19 0 1 0 6.39 0a3.19 3.19 0 1 0 -6.39 0M3287.91 2771.61a3.19 3.19 0 1 0 6.39 0a3.19 3.19 0 1 0 -6.39 0M3306.88 2771.61a3.19 3.19 0 1 0 6.39 0a3.19 3.19 0 1 0 -6.39 0M3319.53 2771.61a3.19 3.19 0 1 0 6.39 0a3.19 3.19 0 1 0 -6.39 0M3344.83 2771.61a3.19 3.19 0 1 0 6.39 0a3.19 3.19 0 1 0 -6.39 0M3357.48 2771.61a3.19 3.19 0 1 0 6.39 0a3.19 3.19 0 1 0 -6.39 0M3363.8 2771.61a3.19 3.19 0 1 0 6.39 0a3.19 3.19 0 1 0 -6.39 0M3370.13 2771.61a3.19 3.19 0 1 0 6.39 0a3.19 3.19 0 1 0 -6.39 0M3382.77 2771.61a3.19 3.19 0 1 0 6.39 0a3.19 3.19 0 1 0 -6.39 0M3389.1 2771.61a3.19 3.19 0 1 0 6.39 0a3.19 3.19 0 1 0 -6.39 0M3408.07 2771.61a3.19 3.19 0 1 0 6.39 0a3.19 3.19 0 1 0 -6.39 0M3414.4 2771.61a3.19 3.19 0 1 0 6.39 0a3.19 3.19 0 1 0 -6.39 0M3420.72 2771.61a3.19 3.19 0 1 0 6.39 0a3.19 3.19 0 1 0 -6.39 0M3262.61 2777.94a3.19 3.19 0 1 0 6.39 0a3.19 3.19 0 1 0 -6.39 0M3275.26 2777.94a3.19 3.19 0 1 0 6.39 0a3.19 3.19 0 1 0 -6.39 0M3287.91 2777.94a3.19 3.19 0 1 0 6.39 0a3.19 3.19 0 1 0 -6.39 0M3313.21 2777.94a3.19 3.19 0 1 0 6.39 0a3.19 3.19 0 1 0 -6.39 0M3319.53 2777.94a3.19 3.19 0 1 0 6.39 0a3.19 3.19 0 1 0 -6.39 0M3325.85 2777.94a3.19 3.19 0 1 0 6.39 0a3.19 3.19 0 1 0 -6.39 0M3338.5 2777.94a3.19 3.19 0 1 0 6.39 0a3.19 3.19 0 1 0 -6.39 0M3363.8 2777.94a3.19 3.19 0 1 0 6.39 0a3.19 3.19 0 1 0 -6.39 0M3389.1 2777.94a3.19 3.19 0 1 0 6.39 0a3.19 3.19 0 1 0 -6.39 0M3401.75 2777.94a3.19 3.19 0 1 0 6.39 0a3.19 3.19 0 1 0 -6.39 0M3414.4 2777.94a3.19 3.19 0 1 0 6.39 0a3.19 3.19 0 1 0 -6.39 0M3420.72 2777.94a3.19 3.19 0 1 0 6.39 0a3.19 3.19 0 1 0 -6.39 0M3427.04 2777.94a3.19 3.19 0 1 0 6.39 0a3.19 3.19 0 1 0 -6.39 0" fill="#1a1714"/><path transform="translate(3277.1 2625.7) scale(4.79)" d="M8 0C3.58 0 0 3.58 0 8c0 3.54 2.29 6.53 5.47 7.59.4.07.55-.17.55-.38 0-.19-.01-.82-.01-1.49-2.01.37-2.53-.49-2.69-.94-.09-.23-.48-.94-.82-1.13-.28-.15-.68-.52-.01-.53.63-.01 1.08.58 1.23.82.72 1.21 1.87.87 2.33.66.07-.52.28-.87.51-1.07-1.78-.2-3.64-.89-3.64-3.95 0-.87.31-1.59.82-2.15-.08-.2-.36-1.02.08-2.12 0 0 .67-.21 2.2.82.64-.18 1.32-.27 2-.27.68 0 1.36.09 2 .27 1.53-1.04 2.2-.82 2.2-.82.44 1.1.16 1.92.08 2.12.51.56.82 1.27.82 2.15 0 3.07-1.87 3.75-3.65 3.95.29.25.54.73.54 1.48 0 1.07-.01 1.93-.01 2.2 0 .21.15.46.55.38A8.013 8.013 0 0016 8c0-4.42-3.58-8-8-8z" fill="#1a1714" fill-rule="evenodd"/></svg>
</body></html>
